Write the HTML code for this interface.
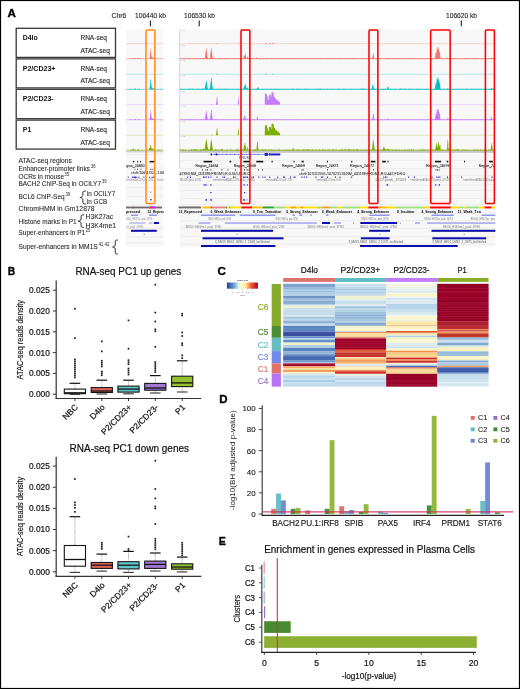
<!DOCTYPE html>
<html><head><meta charset="utf-8"><style>
html,body{margin:0;padding:0;background:#fff;}
svg{display:block;font-family:"Liberation Sans", sans-serif;will-change:transform;}
</style></head><body>
<svg width="520" height="689" viewBox="0 0 520 689">
<rect x="0.00" y="0.00" width="520.00" height="689.00" fill="#fff" />
<text x="7.40" y="17.30" font-size="11.2" fill="#000" font-weight="bold" textLength="8.40" lengthAdjust="spacingAndGlyphs" stroke="#000" stroke-width="0.35" >A</text>
<rect x="16.2" y="28.30" width="99.3" height="29.10" fill="none" stroke="#383838" stroke-width="1.3"/>
<text x="22.70" y="40.10" font-size="7.0" fill="#111" font-weight="bold" textLength="15.00" lengthAdjust="spacingAndGlyphs" >D4lo</text>
<text x="80.40" y="40.10" font-size="6.9" fill="#222" textLength="26.60" lengthAdjust="spacingAndGlyphs" stroke="#222" stroke-width="0.1" >RNA-seq</text>
<text x="80.40" y="52.80" font-size="6.9" fill="#222" textLength="29.60" lengthAdjust="spacingAndGlyphs" stroke="#222" stroke-width="0.1" >ATAC-seq</text>
<rect x="16.2" y="58.90" width="99.3" height="29.00" fill="none" stroke="#383838" stroke-width="1.3"/>
<text x="22.70" y="70.70" font-size="7.0" fill="#111" font-weight="bold" textLength="32.80" lengthAdjust="spacingAndGlyphs" >P2/CD23+</text>
<text x="80.40" y="70.70" font-size="6.9" fill="#222" textLength="26.60" lengthAdjust="spacingAndGlyphs" stroke="#222" stroke-width="0.1" >RNA-seq</text>
<text x="80.40" y="83.40" font-size="6.9" fill="#222" textLength="29.60" lengthAdjust="spacingAndGlyphs" stroke="#222" stroke-width="0.1" >ATAC-seq</text>
<rect x="16.2" y="89.30" width="99.3" height="29.40" fill="none" stroke="#383838" stroke-width="1.3"/>
<text x="22.70" y="101.10" font-size="7.0" fill="#111" font-weight="bold" textLength="31.00" lengthAdjust="spacingAndGlyphs" >P2/CD23-</text>
<text x="80.40" y="101.10" font-size="6.9" fill="#222" textLength="26.60" lengthAdjust="spacingAndGlyphs" stroke="#222" stroke-width="0.1" >RNA-seq</text>
<text x="80.40" y="113.80" font-size="6.9" fill="#222" textLength="29.60" lengthAdjust="spacingAndGlyphs" stroke="#222" stroke-width="0.1" >ATAC-seq</text>
<rect x="16.2" y="120.10" width="99.3" height="29.00" fill="none" stroke="#383838" stroke-width="1.3"/>
<text x="22.70" y="131.90" font-size="7.0" fill="#111" font-weight="bold" textLength="8.60" lengthAdjust="spacingAndGlyphs" >P1</text>
<text x="80.40" y="131.90" font-size="6.9" fill="#222" textLength="26.60" lengthAdjust="spacingAndGlyphs" stroke="#222" stroke-width="0.1" >RNA-seq</text>
<text x="80.40" y="144.60" font-size="6.9" fill="#222" textLength="29.60" lengthAdjust="spacingAndGlyphs" stroke="#222" stroke-width="0.1" >ATAC-seq</text>
<text x="126.40" y="17.50" font-size="6.9" fill="#222" text-anchor="end" stroke="#222" stroke-width="0.1" >Chr6</text>
<text x="135.00" y="17.50" font-size="6.9" fill="#222" textLength="31.00" lengthAdjust="spacingAndGlyphs" stroke="#222" stroke-width="0.1" >106440 kb</text>
<text x="184.00" y="17.50" font-size="6.9" fill="#222" textLength="31.00" lengthAdjust="spacingAndGlyphs" stroke="#222" stroke-width="0.1" >106530 kb</text>
<text x="446.00" y="17.50" font-size="6.9" fill="#222" textLength="31.00" lengthAdjust="spacingAndGlyphs" stroke="#222" stroke-width="0.1" >106620 kb</text>
<line x1="150.40" y1="20.40" x2="150.40" y2="26.20" stroke="#222" stroke-width="1.1" />
<line x1="199.20" y1="20.40" x2="199.20" y2="26.20" stroke="#222" stroke-width="1.1" />
<line x1="461.30" y1="20.40" x2="461.30" y2="26.20" stroke="#222" stroke-width="1.1" />
<rect x="126.00" y="29.40" width="37.60" height="217.50" fill="#f8f8f8" />
<rect x="179.40" y="29.40" width="316.00" height="218.00" fill="#f8f8f8" />
<line x1="179.40" y1="43.70" x2="495.40" y2="43.70" stroke="#fbd0cc" stroke-width="0.9" />
<path d="M179.9,43.7 L179.9,43.7 L180.2,43.7 L180.6,43.7 L180.9,43.7 L181.2,43.7 L181.6,43.7 L181.9,43.7 L182.2,43.7 L182.5,43.7 L182.9,43.7 L183.2,43.7 L183.5,43.7 L183.9,43.7 L184.2,43.7 L184.5,43.7 L184.9,43.7 L185.2,43.7 L185.5,43.7 L185.8,43.7 L186.2,43.7 L186.5,43.7 L186.8,43.7 L187.2,43.7 L187.5,43.7 L187.8,43.7 L188.2,43.7 L188.5,43.7 L188.8,43.7 L189.1,43.7 L189.5,43.7 L189.8,43.7 L190.1,43.7 L190.5,43.7 L190.8,43.7 L191.1,43.7 L191.5,43.7 L191.8,43.7 L192.1,43.7 L192.4,43.7 L192.8,43.7 L193.1,43.7 L193.4,43.7 L193.8,43.7 L194.1,43.7 L194.4,43.7 L194.8,43.7 L195.1,43.7 L195.4,43.7 L195.7,43.7 L196.1,43.7 L196.4,43.7 L196.7,43.7 L197.1,43.7 L197.4,43.7 L197.7,43.7 L198.1,43.7 L198.4,43.7 L198.7,43.7 L199.0,43.7 L199.4,43.7 L199.7,43.7 L200.0,43.7 L200.4,43.7 L200.7,43.7 L201.0,43.7 L201.4,43.7 L201.7,43.7 L202.0,43.7 L202.3,43.7 L202.7,43.7 L203.0,43.7 L203.3,43.7 L203.7,43.7 L204.0,43.7 L204.3,43.7 L204.7,43.7 L205.0,43.7 L205.3,43.7 L205.6,43.7 L206.0,43.7 L206.3,43.7 L206.6,43.7 L207.0,43.7 L207.3,43.7 L207.6,43.7 L208.0,43.7 L208.3,43.7 L208.6,43.7 L208.9,43.7 L209.3,43.7 L209.6,43.7 L209.9,43.7 L210.3,43.7 L210.6,43.7 L210.9,43.7 L211.3,43.7 L211.6,43.7 L211.9,43.7 L212.2,43.7 L212.6,43.7 L212.9,43.7 L213.2,43.7 L213.6,43.7 L213.9,43.7 L214.2,43.7 L214.6,43.7 L214.9,43.7 L215.2,43.7 L215.5,43.7 L215.9,43.7 L216.2,43.7 L216.5,43.5 L216.9,43.0 L217.2,43.0 L217.5,43.6 L217.9,43.7 L218.2,43.7 L218.5,43.7 L218.8,43.7 L219.2,43.7 L219.5,43.7 L219.8,43.7 L220.2,43.7 L220.5,43.7 L220.8,43.7 L221.2,43.7 L221.5,43.7 L221.8,43.7 L222.1,43.7 L222.5,43.7 L222.8,43.7 L223.1,43.7 L223.5,43.7 L223.8,43.7 L224.1,43.7 L224.5,43.7 L224.8,43.7 L225.1,43.7 L225.4,43.7 L225.8,43.7 L226.1,43.7 L226.4,43.7 L226.8,43.7 L227.1,43.7 L227.4,43.7 L227.8,43.7 L228.1,43.7 L228.4,43.7 L228.7,43.7 L229.1,43.7 L229.4,43.7 L229.7,43.7 L230.1,43.7 L230.4,43.7 L230.7,43.7 L231.1,43.7 L231.4,43.7 L231.7,43.7 L232.0,43.7 L232.4,43.7 L232.7,43.7 L233.0,43.7 L233.4,43.7 L233.7,43.7 L234.0,43.7 L234.4,43.7 L234.7,43.7 L235.0,43.7 L235.3,43.7 L235.7,43.7 L236.0,43.7 L236.3,43.7 L236.7,43.7 L237.0,43.7 L237.3,43.7 L237.7,43.7 L238.0,43.5 L238.3,42.7 L238.6,43.1 L239.0,43.7 L239.3,43.7 L239.6,43.7 L240.0,43.7 L240.3,43.7 L240.6,43.7 L241.0,43.7 L241.3,43.7 L241.6,43.7 L241.9,43.7 L242.3,43.7 L242.6,43.7 L242.9,43.7 L243.3,43.7 L243.6,43.7 L243.9,43.7 L244.3,43.7 L244.6,43.7 L244.9,43.7 L245.2,43.7 L245.6,43.7 L245.9,43.7 L246.2,43.7 L246.6,43.7 L246.9,43.7 L247.2,43.7 L247.6,43.7 L247.9,43.7 L248.2,43.7 L248.5,43.7 L248.9,43.7 L249.2,43.7 L249.5,43.4 L249.9,42.8 L250.2,43.3 L250.5,43.7 L250.9,43.7 L251.2,43.7 L251.5,43.7 L251.8,43.7 L252.2,43.7 L252.5,43.7 L252.8,43.7 L253.2,43.7 L253.5,43.7 L253.8,43.7 L254.2,43.7 L254.5,43.7 L254.8,43.7 L255.1,43.7 L255.5,43.7 L255.8,43.7 L256.1,43.7 L256.5,43.7 L256.8,43.7 L257.1,43.7 L257.5,43.7 L257.8,43.7 L258.1,43.7 L258.4,43.7 L258.8,43.7 L259.1,43.7 L259.4,43.7 L259.8,43.7 L260.1,43.7 L260.4,43.7 L260.8,43.7 L261.1,43.7 L261.4,43.7 L261.7,43.7 L262.1,43.7 L262.4,43.7 L262.7,43.7 L263.1,43.7 L263.4,43.7 L263.7,43.7 L264.1,43.7 L264.4,43.7 L264.7,43.7 L265.0,43.7 L265.4,43.3 L265.7,42.9 L266.0,42.6 L266.4,43.0 L266.7,43.3 L267.0,43.7 L267.4,43.7 L267.7,43.7 L268.0,43.7 L268.3,43.7 L268.7,43.7 L269.0,43.7 L269.3,43.4 L269.7,43.1 L270.0,42.7 L270.3,43.0 L270.7,43.4 L271.0,43.7 L271.3,43.7 L271.6,43.7 L272.0,43.7 L272.3,43.3 L272.6,42.9 L273.0,42.5 L273.3,42.8 L273.6,43.2 L274.0,43.6 L274.3,43.7 L274.6,43.7 L274.9,43.7 L275.3,43.7 L275.6,43.7 L275.9,43.7 L276.3,43.7 L276.6,43.7 L276.9,43.7 L277.3,43.7 L277.6,43.7 L277.9,43.7 L278.2,43.7 L278.6,43.7 L278.9,43.7 L279.2,43.7 L279.6,43.7 L279.9,43.7 L280.2,43.7 L280.6,43.7 L280.9,43.7 L281.2,43.7 L281.5,43.7 L281.9,43.7 L282.2,43.7 L282.5,43.7 L282.9,43.7 L283.2,43.7 L283.5,43.7 L283.9,43.7 L284.2,43.7 L284.5,43.7 L284.8,43.7 L285.2,43.7 L285.5,43.7 L285.8,43.7 L286.2,43.7 L286.5,43.7 L286.8,43.7 L287.2,43.7 L287.5,43.7 L287.8,43.7 L288.1,43.7 L288.5,43.7 L288.8,43.7 L289.1,43.7 L289.5,43.7 L289.8,43.7 L290.1,43.7 L290.5,43.7 L290.8,43.7 L291.1,43.7 L291.4,43.7 L291.8,43.7 L292.1,43.7 L292.4,43.7 L292.8,43.7 L293.1,43.7 L293.4,43.7 L293.8,43.7 L294.1,43.7 L294.4,43.7 L294.7,43.7 L295.1,43.7 L295.4,43.7 L295.7,43.7 L296.1,43.7 L296.4,43.7 L296.7,43.7 L297.1,43.7 L297.4,43.7 L297.7,43.7 L298.0,43.7 L298.4,43.7 L298.7,43.7 L299.0,43.7 L299.4,43.7 L299.7,43.7 L300.0,43.7 L300.4,43.7 L300.7,43.7 L301.0,43.7 L301.3,43.7 L301.7,43.7 L302.0,43.7 L302.3,43.7 L302.7,43.7 L303.0,43.7 L303.3,43.7 L303.7,43.7 L304.0,43.7 L304.3,43.7 L304.6,43.7 L305.0,43.7 L305.3,43.7 L305.6,43.7 L306.0,43.7 L306.3,43.7 L306.6,43.7 L307.0,43.7 L307.3,43.7 L307.6,43.7 L307.9,43.7 L308.3,43.7 L308.6,43.7 L308.9,43.7 L309.3,43.7 L309.6,43.7 L309.9,43.7 L310.3,43.7 L310.6,43.7 L310.9,43.7 L311.2,43.7 L311.6,43.7 L311.9,43.7 L312.2,43.7 L312.6,43.7 L312.9,43.7 L313.2,43.7 L313.6,43.7 L313.9,43.7 L314.2,43.7 L314.5,43.7 L314.9,43.7 L315.2,43.7 L315.5,43.7 L315.9,43.7 L316.2,43.7 L316.5,43.7 L316.8,43.7 L317.2,43.7 L317.5,43.7 L317.8,43.7 L318.2,43.7 L318.5,43.7 L318.8,43.7 L319.2,43.7 L319.5,43.7 L319.8,43.7 L320.1,43.7 L320.5,43.7 L320.8,43.7 L321.1,43.7 L321.5,43.7 L321.8,43.7 L322.1,43.7 L322.5,43.7 L322.8,43.7 L323.1,43.7 L323.4,43.7 L323.8,43.7 L324.1,43.7 L324.4,43.7 L324.8,43.7 L325.1,43.7 L325.4,43.7 L325.8,43.7 L326.1,43.7 L326.4,43.7 L326.7,43.7 L327.1,43.7 L327.4,43.7 L327.7,43.7 L328.1,43.7 L328.4,43.7 L328.7,43.7 L329.1,43.7 L329.4,43.7 L329.7,43.7 L330.0,43.7 L330.4,43.7 L330.7,43.7 L331.0,43.7 L331.4,43.7 L331.7,43.7 L332.0,43.7 L332.4,43.7 L332.7,43.7 L333.0,43.7 L333.3,43.7 L333.7,43.7 L334.0,43.7 L334.3,43.7 L334.7,43.7 L335.0,43.7 L335.3,43.7 L335.7,43.7 L336.0,43.7 L336.3,43.7 L336.6,43.7 L337.0,43.7 L337.3,43.7 L337.6,43.7 L338.0,43.7 L338.3,43.7 L338.6,43.7 L339.0,43.7 L339.3,43.7 L339.6,43.7 L339.9,43.7 L340.3,43.7 L340.6,43.7 L340.9,43.7 L341.3,43.7 L341.6,43.7 L341.9,43.7 L342.3,43.7 L342.6,43.7 L342.9,43.7 L343.2,43.7 L343.6,43.7 L343.9,43.7 L344.2,43.7 L344.6,43.7 L344.9,43.7 L345.2,43.7 L345.6,43.7 L345.9,43.7 L346.2,43.7 L346.5,43.7 L346.9,43.7 L347.2,43.7 L347.5,43.7 L347.9,43.7 L348.2,43.7 L348.5,43.7 L348.9,43.7 L349.2,43.7 L349.5,43.7 L349.8,43.7 L350.2,43.7 L350.5,43.7 L350.8,43.7 L351.2,43.7 L351.5,43.7 L351.8,43.7 L352.2,43.7 L352.5,43.7 L352.8,43.7 L353.1,43.7 L353.5,43.7 L353.8,43.7 L354.1,43.7 L354.5,43.7 L354.8,43.7 L355.1,43.7 L355.5,43.7 L355.8,43.7 L356.1,43.7 L356.4,43.7 L356.8,43.7 L357.1,43.7 L357.4,43.7 L357.8,43.7 L358.1,43.7 L358.4,43.7 L358.8,43.7 L359.1,43.7 L359.4,43.7 L359.7,43.7 L360.1,43.7 L360.4,43.7 L360.7,43.7 L361.1,43.7 L361.4,43.7 L361.7,43.7 L362.1,43.7 L362.4,43.7 L362.7,43.7 L363.0,43.7 L363.4,43.7 L363.7,43.7 L364.0,43.7 L364.4,43.7 L364.7,43.7 L365.0,43.7 L365.4,43.7 L365.7,43.7 L366.0,43.7 L366.3,43.7 L366.7,43.7 L367.0,43.7 L367.3,43.7 L367.7,43.7 L368.0,43.7 L368.3,43.7 L368.7,43.7 L369.0,43.7 L369.3,43.7 L369.6,43.7 L370.0,43.7 L370.3,43.7 L370.6,43.7 L371.0,43.7 L371.3,43.7 L371.6,43.7 L372.0,43.7 L372.3,43.7 L372.6,43.7 L372.9,43.7 L373.3,43.7 L373.6,43.7 L373.9,43.7 L374.3,43.7 L374.6,43.7 L374.9,43.7 L375.3,43.7 L375.6,43.7 L375.9,43.7 L376.2,43.7 L376.6,43.7 L376.9,43.7 L377.2,43.7 L377.6,43.7 L377.9,43.7 L378.2,43.7 L378.6,43.7 L378.9,43.7 L379.2,43.7 L379.5,43.7 L379.9,43.7 L380.2,43.7 L380.5,43.7 L380.9,43.7 L381.2,43.7 L381.5,43.7 L381.9,43.7 L382.2,43.7 L382.5,43.7 L382.8,43.7 L383.2,43.7 L383.5,43.7 L383.8,43.7 L384.2,43.7 L384.5,43.7 L384.8,43.7 L385.2,43.7 L385.5,43.7 L385.8,43.7 L386.1,43.7 L386.5,43.7 L386.8,43.7 L387.1,43.7 L387.5,43.7 L387.8,43.7 L388.1,43.7 L388.5,43.7 L388.8,43.7 L389.1,43.7 L389.4,43.7 L389.8,43.7 L390.1,43.7 L390.4,43.7 L390.8,43.7 L391.1,43.7 L391.4,43.7 L391.8,43.7 L392.1,43.7 L392.4,43.7 L392.7,43.7 L393.1,43.7 L393.4,43.7 L393.7,43.7 L394.1,43.7 L394.4,43.7 L394.7,43.7 L395.1,43.7 L395.4,43.7 L395.7,43.7 L396.0,43.7 L396.4,43.7 L396.7,43.7 L397.0,43.7 L397.4,43.7 L397.7,43.7 L398.0,43.7 L398.4,43.7 L398.7,43.7 L399.0,43.7 L399.3,43.7 L399.7,43.7 L400.0,43.7 L400.3,43.7 L400.7,43.7 L401.0,43.7 L401.3,43.7 L401.7,43.7 L402.0,43.7 L402.3,43.7 L402.6,43.7 L403.0,43.7 L403.3,43.7 L403.6,43.7 L404.0,43.7 L404.3,43.7 L404.6,43.7 L405.0,43.7 L405.3,43.7 L405.6,43.7 L405.9,43.7 L406.3,43.7 L406.6,43.7 L406.9,43.7 L407.3,43.7 L407.6,43.7 L407.9,43.7 L408.3,43.7 L408.6,43.7 L408.9,43.7 L409.2,43.7 L409.6,43.7 L409.9,43.7 L410.2,43.7 L410.6,43.7 L410.9,43.7 L411.2,43.7 L411.6,43.7 L411.9,43.7 L412.2,43.7 L412.5,43.7 L412.9,43.7 L413.2,43.7 L413.5,43.7 L413.9,43.7 L414.2,43.7 L414.5,43.7 L414.9,43.7 L415.2,43.7 L415.5,43.7 L415.8,43.7 L416.2,43.7 L416.5,43.7 L416.8,43.7 L417.2,43.7 L417.5,43.7 L417.8,43.7 L418.2,43.7 L418.5,43.7 L418.8,43.7 L419.1,43.7 L419.5,43.7 L419.8,43.7 L420.1,43.7 L420.5,43.7 L420.8,43.7 L421.1,43.7 L421.5,43.7 L421.8,43.7 L422.1,43.7 L422.4,43.7 L422.8,43.7 L423.1,43.7 L423.4,43.7 L423.8,43.7 L424.1,43.7 L424.4,43.7 L424.8,43.7 L425.1,43.7 L425.4,43.7 L425.7,43.7 L426.1,43.7 L426.4,43.7 L426.7,43.7 L427.1,43.7 L427.4,43.7 L427.7,43.7 L428.1,43.7 L428.4,43.7 L428.7,43.7 L429.0,43.7 L429.4,43.7 L429.7,43.7 L430.0,43.7 L430.4,43.7 L430.7,43.7 L431.0,43.7 L431.4,43.7 L431.7,43.7 L432.0,43.7 L432.3,43.7 L432.7,43.7 L433.0,43.7 L433.3,43.7 L433.7,43.7 L434.0,43.7 L434.3,43.7 L434.7,43.7 L435.0,43.7 L435.3,43.7 L435.6,43.7 L436.0,43.7 L436.3,43.7 L436.6,43.7 L437.0,43.7 L437.3,43.7 L437.6,43.7 L438.0,43.7 L438.3,43.7 L438.6,43.7 L438.9,43.7 L439.3,43.7 L439.6,43.7 L439.9,43.7 L440.3,43.7 L440.6,43.7 L440.9,43.7 L441.3,43.7 L441.6,43.7 L441.9,43.7 L442.2,43.7 L442.6,43.7 L442.9,43.7 L443.2,43.7 L443.6,43.7 L443.9,43.7 L444.2,43.7 L444.6,43.7 L444.9,43.7 L445.2,43.7 L445.5,43.7 L445.9,43.7 L446.2,43.7 L446.5,43.7 L446.9,43.7 L447.2,43.7 L447.5,43.7 L447.9,43.7 L448.2,43.7 L448.5,43.7 L448.8,43.7 L449.2,43.7 L449.5,43.7 L449.8,43.7 L450.2,43.7 L450.5,43.7 L450.8,43.7 L451.2,43.7 L451.5,43.7 L451.8,43.7 L452.1,43.7 L452.5,43.7 L452.8,43.7 L453.1,43.7 L453.5,43.7 L453.8,43.7 L454.1,43.7 L454.5,43.7 L454.8,43.7 L455.1,43.7 L455.4,43.7 L455.8,43.7 L456.1,43.7 L456.4,43.7 L456.8,43.7 L457.1,43.7 L457.4,43.7 L457.8,43.7 L458.1,43.7 L458.4,43.7 L458.7,43.7 L459.1,43.7 L459.4,43.7 L459.7,43.7 L460.1,43.7 L460.4,43.7 L460.7,43.7 L461.1,43.7 L461.4,43.7 L461.7,43.7 L462.0,43.7 L462.4,43.7 L462.7,43.7 L463.0,43.7 L463.4,43.7 L463.7,43.7 L464.0,43.7 L464.4,43.7 L464.7,43.7 L465.0,43.7 L465.3,43.7 L465.7,43.7 L466.0,43.7 L466.3,43.7 L466.7,43.7 L467.0,43.7 L467.3,43.7 L467.7,43.7 L468.0,43.7 L468.3,43.7 L468.6,43.7 L469.0,43.7 L469.3,43.7 L469.6,43.7 L470.0,43.7 L470.3,43.7 L470.6,43.7 L471.0,43.7 L471.3,43.7 L471.6,43.7 L471.9,43.7 L472.3,43.7 L472.6,43.7 L472.9,43.7 L473.3,43.7 L473.6,43.7 L473.9,43.7 L474.3,43.7 L474.6,43.7 L474.9,43.7 L475.2,43.7 L475.6,43.7 L475.9,43.7 L476.2,43.7 L476.6,43.7 L476.9,43.7 L477.2,43.7 L477.6,43.7 L477.9,43.7 L478.2,43.7 L478.5,43.7 L478.9,43.7 L479.2,43.7 L479.5,43.7 L479.9,43.7 L480.2,43.7 L480.5,43.7 L480.9,43.7 L481.2,43.7 L481.5,43.7 L481.8,43.7 L482.2,43.7 L482.5,43.7 L482.8,43.7 L483.2,43.7 L483.5,43.7 L483.8,43.7 L484.2,43.7 L484.5,43.7 L484.8,43.7 L485.1,43.7 L485.5,43.7 L485.8,43.7 L486.1,43.7 L486.5,43.7 L486.8,43.7 L487.1,43.7 L487.5,43.7 L487.8,43.7 L488.1,43.7 L488.4,43.7 L488.8,43.7 L489.1,43.7 L489.4,43.7 L489.8,43.7 L490.1,43.7 L490.4,43.7 L490.8,43.7 L491.1,43.7 L491.4,43.7 L491.7,43.7 L492.1,43.7 L492.4,43.7 L492.7,43.7 L493.1,43.7 L493.4,43.7 L493.7,43.7 L494.1,43.7 L494.4,43.7 L494.7,43.7 L494.9,43.7 Z" fill="#F8766D" stroke="none" stroke-width="1" />
<text x="180.50" y="30.50" font-size="1.8" fill="#999" >0 - 10</text>
<line x1="179.40" y1="58.75" x2="495.40" y2="58.75" stroke="#F8766D" stroke-width="0.85" />
<path d="M179.9,59.0 L179.9,58.6 L180.2,58.9 L180.6,58.1 L180.9,58.2 L181.2,58.8 L181.6,58.6 L181.9,58.9 L182.2,58.9 L182.5,58.9 L182.9,58.5 L183.2,58.9 L183.5,58.1 L183.9,58.9 L184.2,58.9 L184.5,58.9 L184.9,58.4 L185.2,58.8 L185.5,58.7 L185.8,58.9 L186.2,58.6 L186.5,58.8 L186.8,58.9 L187.2,58.8 L187.5,58.9 L187.8,58.9 L188.2,58.3 L188.5,58.5 L188.8,58.6 L189.1,58.2 L189.5,58.8 L189.8,58.8 L190.1,58.8 L190.5,58.8 L190.8,58.5 L191.1,58.9 L191.5,58.8 L191.8,58.7 L192.1,58.8 L192.4,58.9 L192.8,58.5 L193.1,58.9 L193.4,58.7 L193.8,58.9 L194.1,58.9 L194.4,58.9 L194.8,58.9 L195.1,58.9 L195.4,58.5 L195.7,58.5 L196.1,58.8 L196.4,58.6 L196.7,58.7 L197.1,58.7 L197.4,58.3 L197.7,58.9 L198.1,58.3 L198.4,58.5 L198.7,58.5 L199.0,58.9 L199.4,58.9 L199.7,58.9 L200.0,58.8 L200.4,58.1 L200.7,58.3 L201.0,58.3 L201.4,58.9 L201.7,58.5 L202.0,58.4 L202.3,58.4 L202.7,58.3 L203.0,57.8 L203.3,57.7 L203.7,58.2 L204.0,58.1 L204.3,58.8 L204.7,58.9 L205.0,56.9 L205.3,54.6 L205.6,51.9 L206.0,49.4 L206.3,47.4 L206.6,49.4 L207.0,52.1 L207.3,54.4 L207.6,57.0 L208.0,58.6 L208.3,58.3 L208.6,58.8 L208.9,58.7 L209.3,58.4 L209.6,58.9 L209.9,57.9 L210.3,55.2 L210.6,52.3 L210.9,49.7 L211.3,47.1 L211.6,49.1 L211.9,51.8 L212.2,54.4 L212.6,57.1 L212.9,58.6 L213.2,58.5 L213.6,58.5 L213.9,58.8 L214.2,58.6 L214.6,58.7 L214.9,58.9 L215.2,58.7 L215.5,58.9 L215.9,58.5 L216.2,58.5 L216.5,58.9 L216.9,58.8 L217.2,58.8 L217.5,58.9 L217.9,58.9 L218.2,58.9 L218.5,58.1 L218.8,58.5 L219.2,58.8 L219.5,58.6 L219.8,58.9 L220.2,58.5 L220.5,58.1 L220.8,58.4 L221.2,58.8 L221.5,58.1 L221.8,58.2 L222.1,58.9 L222.5,58.8 L222.8,58.8 L223.1,58.9 L223.5,58.6 L223.8,58.9 L224.1,58.4 L224.5,58.3 L224.8,58.9 L225.1,58.5 L225.4,58.9 L225.8,58.6 L226.1,58.5 L226.4,58.1 L226.8,58.4 L227.1,58.8 L227.4,58.5 L227.8,58.9 L228.1,58.5 L228.4,58.8 L228.7,58.9 L229.1,58.9 L229.4,58.9 L229.7,58.4 L230.1,58.9 L230.4,58.9 L230.7,58.9 L231.1,58.9 L231.4,58.5 L231.7,58.6 L232.0,58.6 L232.4,58.2 L232.7,58.8 L233.0,58.9 L233.4,58.9 L233.7,58.7 L234.0,58.5 L234.4,58.2 L234.7,58.7 L235.0,58.9 L235.3,58.6 L235.7,58.2 L236.0,58.9 L236.3,58.2 L236.7,58.2 L237.0,58.7 L237.3,58.7 L237.7,58.9 L238.0,58.9 L238.3,58.9 L238.6,58.6 L239.0,58.5 L239.3,58.1 L239.6,58.6 L240.0,58.1 L240.3,58.8 L240.6,58.9 L241.0,58.9 L241.3,58.9 L241.6,58.7 L241.9,58.1 L242.3,58.9 L242.6,58.9 L242.9,58.5 L243.3,58.2 L243.6,56.8 L243.9,55.3 L244.3,55.3 L244.6,56.6 L244.9,55.0 L245.2,53.2 L245.6,54.3 L245.9,56.0 L246.2,57.6 L246.6,58.7 L246.9,58.6 L247.2,57.4 L247.6,56.2 L247.9,57.1 L248.2,58.2 L248.5,58.6 L248.9,58.1 L249.2,58.3 L249.5,58.9 L249.9,58.5 L250.2,58.9 L250.5,58.6 L250.9,58.8 L251.2,58.3 L251.5,58.9 L251.8,58.1 L252.2,58.9 L252.5,58.9 L252.8,58.9 L253.2,58.9 L253.5,58.1 L253.8,58.3 L254.2,58.2 L254.5,58.9 L254.8,58.5 L255.1,58.4 L255.5,58.5 L255.8,58.9 L256.1,58.3 L256.5,57.7 L256.8,57.0 L257.1,57.6 L257.5,58.3 L257.8,58.9 L258.1,58.5 L258.4,58.9 L258.8,58.5 L259.1,58.9 L259.4,58.6 L259.8,58.6 L260.1,58.9 L260.4,58.1 L260.8,58.9 L261.1,58.9 L261.4,58.8 L261.7,58.9 L262.1,58.9 L262.4,58.4 L262.7,58.9 L263.1,58.7 L263.4,58.2 L263.7,58.8 L264.1,58.4 L264.4,58.3 L264.7,58.9 L265.0,58.9 L265.4,58.4 L265.7,58.3 L266.0,58.3 L266.4,58.5 L266.7,58.7 L267.0,58.1 L267.4,58.5 L267.7,58.4 L268.0,58.2 L268.3,58.9 L268.7,58.5 L269.0,58.6 L269.3,58.9 L269.7,58.9 L270.0,58.5 L270.3,58.7 L270.7,58.7 L271.0,58.9 L271.3,58.7 L271.6,58.3 L272.0,58.1 L272.3,58.7 L272.6,58.5 L273.0,58.9 L273.3,58.9 L273.6,58.7 L274.0,58.3 L274.3,58.9 L274.6,58.9 L274.9,58.7 L275.3,58.9 L275.6,58.9 L275.9,58.9 L276.3,58.8 L276.6,58.4 L276.9,58.9 L277.3,58.4 L277.6,58.9 L277.9,58.9 L278.2,58.5 L278.6,58.9 L278.9,58.9 L279.2,58.9 L279.6,58.9 L279.9,58.2 L280.2,58.9 L280.6,58.5 L280.9,58.2 L281.2,58.9 L281.5,58.3 L281.9,58.9 L282.2,58.4 L282.5,58.6 L282.9,58.8 L283.2,58.2 L283.5,58.5 L283.9,58.9 L284.2,58.7 L284.5,58.9 L284.8,58.9 L285.2,58.2 L285.5,58.1 L285.8,58.9 L286.2,58.2 L286.5,58.5 L286.8,58.9 L287.2,58.9 L287.5,58.8 L287.8,58.2 L288.1,58.3 L288.5,58.9 L288.8,58.8 L289.1,58.2 L289.5,58.9 L289.8,58.9 L290.1,58.8 L290.5,58.5 L290.8,58.3 L291.1,58.3 L291.4,58.9 L291.8,58.9 L292.1,58.9 L292.4,58.6 L292.8,58.8 L293.1,58.2 L293.4,58.6 L293.8,58.6 L294.1,58.5 L294.4,58.9 L294.7,58.2 L295.1,58.3 L295.4,58.3 L295.7,58.4 L296.1,58.9 L296.4,58.9 L296.7,58.8 L297.1,58.5 L297.4,58.9 L297.7,58.3 L298.0,58.3 L298.4,58.5 L298.7,58.7 L299.0,58.9 L299.4,58.4 L299.7,58.9 L300.0,58.7 L300.4,58.4 L300.7,58.6 L301.0,58.9 L301.3,58.3 L301.7,58.9 L302.0,58.8 L302.3,58.8 L302.7,58.5 L303.0,58.9 L303.3,58.6 L303.7,58.7 L304.0,58.4 L304.3,58.8 L304.6,58.7 L305.0,58.1 L305.3,58.9 L305.6,58.4 L306.0,58.8 L306.3,58.9 L306.6,58.9 L307.0,58.9 L307.3,58.3 L307.6,58.9 L307.9,58.1 L308.3,58.7 L308.6,58.9 L308.9,58.4 L309.3,58.6 L309.6,58.2 L309.9,58.9 L310.3,58.5 L310.6,58.9 L310.9,58.9 L311.2,58.8 L311.6,58.9 L311.9,58.9 L312.2,58.7 L312.6,58.4 L312.9,58.8 L313.2,58.7 L313.6,58.4 L313.9,58.9 L314.2,58.1 L314.5,58.9 L314.9,58.8 L315.2,58.3 L315.5,58.9 L315.9,58.9 L316.2,58.9 L316.5,58.1 L316.8,58.3 L317.2,58.9 L317.5,58.7 L317.8,58.9 L318.2,58.9 L318.5,58.9 L318.8,58.5 L319.2,58.7 L319.5,58.9 L319.8,58.6 L320.1,58.9 L320.5,58.8 L320.8,58.9 L321.1,58.3 L321.5,58.8 L321.8,58.5 L322.1,58.8 L322.5,58.8 L322.8,58.7 L323.1,58.9 L323.4,58.7 L323.8,58.4 L324.1,58.9 L324.4,58.9 L324.8,58.9 L325.1,58.7 L325.4,58.9 L325.8,58.7 L326.1,58.9 L326.4,58.7 L326.7,58.9 L327.1,58.4 L327.4,58.4 L327.7,58.1 L328.1,58.8 L328.4,58.2 L328.7,58.3 L329.1,58.8 L329.4,58.1 L329.7,58.1 L330.0,58.9 L330.4,58.4 L330.7,58.5 L331.0,58.6 L331.4,58.5 L331.7,58.9 L332.0,58.3 L332.4,58.5 L332.7,58.9 L333.0,58.1 L333.3,58.5 L333.7,58.9 L334.0,58.9 L334.3,58.9 L334.7,58.6 L335.0,58.5 L335.3,58.2 L335.7,58.2 L336.0,58.9 L336.3,58.9 L336.6,58.9 L337.0,58.8 L337.3,58.8 L337.6,58.8 L338.0,58.3 L338.3,58.6 L338.6,58.4 L339.0,58.3 L339.3,58.4 L339.6,58.7 L339.9,58.8 L340.3,58.7 L340.6,58.8 L340.9,58.5 L341.3,58.3 L341.6,58.5 L341.9,58.9 L342.3,58.7 L342.6,58.8 L342.9,58.9 L343.2,58.9 L343.6,58.8 L343.9,58.2 L344.2,58.5 L344.6,58.9 L344.9,58.2 L345.2,58.5 L345.6,58.6 L345.9,58.9 L346.2,58.9 L346.5,58.8 L346.9,58.7 L347.2,58.9 L347.5,58.6 L347.9,58.6 L348.2,58.6 L348.5,58.7 L348.9,58.7 L349.2,58.9 L349.5,58.3 L349.8,58.3 L350.2,58.3 L350.5,58.4 L350.8,58.9 L351.2,58.9 L351.5,58.9 L351.8,58.4 L352.2,58.3 L352.5,58.2 L352.8,58.6 L353.1,58.4 L353.5,58.3 L353.8,58.9 L354.1,58.9 L354.5,58.3 L354.8,58.1 L355.1,58.5 L355.5,58.6 L355.8,58.8 L356.1,58.3 L356.4,58.9 L356.8,58.9 L357.1,58.4 L357.4,58.9 L357.8,58.5 L358.1,58.6 L358.4,58.9 L358.8,58.8 L359.1,58.9 L359.4,58.4 L359.7,58.4 L360.1,58.9 L360.4,58.9 L360.7,58.8 L361.1,58.8 L361.4,58.6 L361.7,58.1 L362.1,58.9 L362.4,58.9 L362.7,58.6 L363.0,58.8 L363.4,58.5 L363.7,58.6 L364.0,58.7 L364.4,58.4 L364.7,58.9 L365.0,58.4 L365.4,58.9 L365.7,58.7 L366.0,58.7 L366.3,58.7 L366.7,58.9 L367.0,58.8 L367.3,58.9 L367.7,58.9 L368.0,58.8 L368.3,58.8 L368.7,58.9 L369.0,58.5 L369.3,58.2 L369.6,58.1 L370.0,58.9 L370.3,58.9 L370.6,58.8 L371.0,58.6 L371.3,58.5 L371.6,58.6 L372.0,58.7 L372.3,57.9 L372.6,56.3 L372.9,54.7 L373.3,52.8 L373.6,54.4 L373.9,56.1 L374.3,57.8 L374.6,58.9 L374.9,58.9 L375.3,58.6 L375.6,58.7 L375.9,58.4 L376.2,58.5 L376.6,58.4 L376.9,58.2 L377.2,58.9 L377.6,58.9 L377.9,58.9 L378.2,58.9 L378.6,58.7 L378.9,58.5 L379.2,58.9 L379.5,58.7 L379.9,58.9 L380.2,58.9 L380.5,58.9 L380.9,58.9 L381.2,58.5 L381.5,58.1 L381.9,58.9 L382.2,58.7 L382.5,58.8 L382.8,58.6 L383.2,58.9 L383.5,58.1 L383.8,58.9 L384.2,58.6 L384.5,58.8 L384.8,58.7 L385.2,58.3 L385.5,58.6 L385.8,58.8 L386.1,58.1 L386.5,58.9 L386.8,58.1 L387.1,58.5 L387.5,58.8 L387.8,58.3 L388.1,57.9 L388.5,57.6 L388.8,58.1 L389.1,58.1 L389.4,58.5 L389.8,58.4 L390.1,58.9 L390.4,58.2 L390.8,58.6 L391.1,58.9 L391.4,58.9 L391.8,58.4 L392.1,58.7 L392.4,58.2 L392.7,58.3 L393.1,58.7 L393.4,58.8 L393.7,58.4 L394.1,58.1 L394.4,58.9 L394.7,58.7 L395.1,58.9 L395.4,58.9 L395.7,58.9 L396.0,58.8 L396.4,58.6 L396.7,58.3 L397.0,58.4 L397.4,58.1 L397.7,58.9 L398.0,58.3 L398.4,58.9 L398.7,58.8 L399.0,58.7 L399.3,58.1 L399.7,58.8 L400.0,58.9 L400.3,58.8 L400.7,58.7 L401.0,58.5 L401.3,58.9 L401.7,58.9 L402.0,58.9 L402.3,58.7 L402.6,58.8 L403.0,58.9 L403.3,58.7 L403.6,58.4 L404.0,58.6 L404.3,58.5 L404.6,58.8 L405.0,58.2 L405.3,58.9 L405.6,58.9 L405.9,58.9 L406.3,58.7 L406.6,58.9 L406.9,58.9 L407.3,58.9 L407.6,58.4 L407.9,58.9 L408.3,58.6 L408.6,58.1 L408.9,58.9 L409.2,58.6 L409.6,58.2 L409.9,58.8 L410.2,58.2 L410.6,58.9 L410.9,58.7 L411.2,58.4 L411.6,58.7 L411.9,58.3 L412.2,58.1 L412.5,58.3 L412.9,58.7 L413.2,58.5 L413.5,58.3 L413.9,58.6 L414.2,58.9 L414.5,58.9 L414.9,58.6 L415.2,58.9 L415.5,58.9 L415.8,58.1 L416.2,58.7 L416.5,58.1 L416.8,58.3 L417.2,58.4 L417.5,58.8 L417.8,58.9 L418.2,58.9 L418.5,58.9 L418.8,58.7 L419.1,58.6 L419.5,58.9 L419.8,58.8 L420.1,58.8 L420.5,58.3 L420.8,58.9 L421.1,58.3 L421.5,58.6 L421.8,58.2 L422.1,58.9 L422.4,58.9 L422.8,58.7 L423.1,58.9 L423.4,58.6 L423.8,58.1 L424.1,58.7 L424.4,58.9 L424.8,58.9 L425.1,58.6 L425.4,58.8 L425.7,58.9 L426.1,58.8 L426.4,58.4 L426.7,58.6 L427.1,58.8 L427.4,58.1 L427.7,58.1 L428.1,58.9 L428.4,58.9 L428.7,58.6 L429.0,58.8 L429.4,58.9 L429.7,58.4 L430.0,58.2 L430.4,58.7 L430.7,58.1 L431.0,58.7 L431.4,58.6 L431.7,58.7 L432.0,58.4 L432.3,58.2 L432.7,58.7 L433.0,58.7 L433.3,58.4 L433.7,58.3 L434.0,58.6 L434.3,58.9 L434.7,58.9 L435.0,57.8 L435.3,55.7 L435.6,53.7 L436.0,51.3 L436.3,53.3 L436.6,51.2 L437.0,47.1 L437.3,50.3 L437.6,47.3 L438.0,47.2 L438.3,49.6 L438.6,45.8 L438.9,50.1 L439.3,52.8 L439.6,49.8 L439.9,52.9 L440.3,55.9 L440.6,58.4 L440.9,58.9 L441.3,58.9 L441.6,58.5 L441.9,58.9 L442.2,58.4 L442.6,58.8 L442.9,58.4 L443.2,58.9 L443.6,58.7 L443.9,58.5 L444.2,58.5 L444.6,58.9 L444.9,58.9 L445.2,58.3 L445.5,58.4 L445.9,58.7 L446.2,58.9 L446.5,58.5 L446.9,58.4 L447.2,58.5 L447.5,57.6 L447.9,57.2 L448.2,57.9 L448.5,58.8 L448.8,58.5 L449.2,58.6 L449.5,58.8 L449.8,58.8 L450.2,58.2 L450.5,58.9 L450.8,58.9 L451.2,58.4 L451.5,58.9 L451.8,58.8 L452.1,58.7 L452.5,58.5 L452.8,58.9 L453.1,58.6 L453.5,58.6 L453.8,58.3 L454.1,58.7 L454.5,58.2 L454.8,58.8 L455.1,58.2 L455.4,58.8 L455.8,58.5 L456.1,58.9 L456.4,58.6 L456.8,58.4 L457.1,58.9 L457.4,58.4 L457.8,58.9 L458.1,58.4 L458.4,58.9 L458.7,58.9 L459.1,58.9 L459.4,58.9 L459.7,58.6 L460.1,58.8 L460.4,58.3 L460.7,58.8 L461.1,58.4 L461.4,58.9 L461.7,58.7 L462.0,58.6 L462.4,58.8 L462.7,58.4 L463.0,58.6 L463.4,58.7 L463.7,58.6 L464.0,58.9 L464.4,58.9 L464.7,58.3 L465.0,58.5 L465.3,58.8 L465.7,58.1 L466.0,58.1 L466.3,58.5 L466.7,58.9 L467.0,58.8 L467.3,58.8 L467.7,58.7 L468.0,58.9 L468.3,58.8 L468.6,58.2 L469.0,58.9 L469.3,58.9 L469.6,58.7 L470.0,58.9 L470.3,58.8 L470.6,58.9 L471.0,58.4 L471.3,58.9 L471.6,58.7 L471.9,58.3 L472.3,58.5 L472.6,58.8 L472.9,58.9 L473.3,58.1 L473.6,58.4 L473.9,58.5 L474.3,58.9 L474.6,58.9 L474.9,58.3 L475.2,58.3 L475.6,58.3 L475.9,58.9 L476.2,58.5 L476.6,58.4 L476.9,58.2 L477.2,58.5 L477.6,58.9 L477.9,58.9 L478.2,58.9 L478.5,58.4 L478.9,58.8 L479.2,58.9 L479.5,58.8 L479.9,58.9 L480.2,58.8 L480.5,58.5 L480.9,58.7 L481.2,58.7 L481.5,58.7 L481.8,58.1 L482.2,58.2 L482.5,58.7 L482.8,58.9 L483.2,58.5 L483.5,58.9 L483.8,58.9 L484.2,58.9 L484.5,58.8 L484.8,58.3 L485.1,58.7 L485.5,58.4 L485.8,58.7 L486.1,58.5 L486.5,58.7 L486.8,58.5 L487.1,58.8 L487.5,58.9 L487.8,58.4 L488.1,58.4 L488.4,58.4 L488.8,58.5 L489.1,58.4 L489.4,58.7 L489.8,58.6 L490.1,58.5 L490.4,58.8 L490.8,58.3 L491.1,57.8 L491.4,57.6 L491.7,58.2 L492.1,58.6 L492.4,58.5 L492.7,58.4 L493.1,58.7 L493.4,58.5 L493.7,58.2 L494.1,58.9 L494.4,58.9 L494.7,58.9 L494.9,59.0 Z" fill="#F8766D" stroke="none" stroke-width="1" />
<text x="180.50" y="45.75" font-size="1.8" fill="#999" >0 - 10</text>
<line x1="179.40" y1="74.20" x2="495.40" y2="74.20" stroke="#b0e6e8" stroke-width="0.9" />
<path d="M179.9,74.2 L179.9,74.2 L180.2,74.2 L180.6,74.2 L180.9,74.2 L181.2,74.2 L181.6,74.2 L181.9,74.2 L182.2,74.2 L182.5,74.2 L182.9,74.2 L183.2,74.2 L183.5,74.2 L183.9,74.2 L184.2,74.2 L184.5,74.2 L184.9,74.2 L185.2,74.2 L185.5,74.2 L185.8,74.2 L186.2,74.2 L186.5,74.2 L186.8,74.2 L187.2,74.2 L187.5,74.2 L187.8,74.2 L188.2,74.2 L188.5,74.2 L188.8,74.2 L189.1,74.2 L189.5,74.2 L189.8,74.2 L190.1,74.2 L190.5,74.2 L190.8,74.2 L191.1,74.2 L191.5,74.2 L191.8,74.2 L192.1,74.2 L192.4,74.2 L192.8,74.2 L193.1,74.2 L193.4,74.2 L193.8,74.2 L194.1,74.2 L194.4,74.2 L194.8,74.2 L195.1,74.2 L195.4,74.2 L195.7,74.2 L196.1,74.2 L196.4,74.2 L196.7,74.2 L197.1,74.2 L197.4,74.2 L197.7,74.2 L198.1,74.2 L198.4,74.2 L198.7,74.2 L199.0,74.2 L199.4,74.2 L199.7,74.2 L200.0,74.2 L200.4,74.2 L200.7,74.2 L201.0,74.2 L201.4,74.2 L201.7,74.2 L202.0,74.2 L202.3,74.2 L202.7,74.2 L203.0,74.2 L203.3,74.2 L203.7,74.2 L204.0,74.2 L204.3,74.2 L204.7,74.2 L205.0,74.2 L205.3,74.2 L205.6,74.2 L206.0,74.2 L206.3,74.2 L206.6,74.2 L207.0,74.2 L207.3,74.2 L207.6,74.2 L208.0,74.2 L208.3,74.2 L208.6,74.2 L208.9,74.2 L209.3,74.2 L209.6,74.2 L209.9,74.2 L210.3,74.2 L210.6,74.2 L210.9,74.2 L211.3,74.2 L211.6,74.2 L211.9,74.2 L212.2,74.2 L212.6,74.2 L212.9,74.2 L213.2,74.2 L213.6,74.2 L213.9,74.2 L214.2,74.2 L214.6,74.2 L214.9,74.2 L215.2,74.2 L215.5,74.2 L215.9,74.2 L216.2,74.2 L216.5,74.1 L216.9,73.8 L217.2,73.9 L217.5,74.1 L217.9,74.2 L218.2,74.2 L218.5,74.2 L218.8,74.2 L219.2,74.2 L219.5,74.2 L219.8,74.2 L220.2,74.2 L220.5,74.2 L220.8,74.2 L221.2,74.2 L221.5,74.2 L221.8,74.2 L222.1,74.2 L222.5,74.2 L222.8,74.2 L223.1,74.2 L223.5,74.2 L223.8,74.2 L224.1,74.2 L224.5,74.2 L224.8,74.2 L225.1,74.2 L225.4,74.2 L225.8,74.2 L226.1,74.2 L226.4,74.2 L226.8,74.2 L227.1,74.2 L227.4,74.2 L227.8,74.2 L228.1,74.2 L228.4,74.2 L228.7,74.2 L229.1,74.2 L229.4,74.2 L229.7,74.2 L230.1,74.2 L230.4,74.2 L230.7,74.2 L231.1,74.2 L231.4,74.2 L231.7,74.2 L232.0,74.2 L232.4,74.2 L232.7,74.2 L233.0,74.2 L233.4,74.2 L233.7,74.2 L234.0,74.2 L234.4,74.2 L234.7,74.2 L235.0,74.2 L235.3,74.2 L235.7,74.2 L236.0,74.2 L236.3,74.2 L236.7,74.2 L237.0,74.2 L237.3,74.2 L237.7,74.2 L238.0,74.2 L238.3,74.2 L238.6,74.2 L239.0,74.2 L239.3,74.2 L239.6,74.2 L240.0,74.2 L240.3,74.2 L240.6,74.2 L241.0,74.2 L241.3,74.2 L241.6,74.2 L241.9,74.2 L242.3,74.2 L242.6,74.2 L242.9,74.2 L243.3,74.2 L243.6,74.2 L243.9,74.2 L244.3,74.2 L244.6,74.2 L244.9,74.2 L245.2,74.2 L245.6,74.2 L245.9,74.2 L246.2,74.2 L246.6,74.2 L246.9,74.2 L247.2,74.2 L247.6,74.2 L247.9,74.2 L248.2,74.2 L248.5,74.2 L248.9,74.2 L249.2,74.2 L249.5,74.2 L249.9,74.2 L250.2,74.2 L250.5,74.2 L250.9,74.2 L251.2,74.2 L251.5,74.2 L251.8,74.2 L252.2,74.2 L252.5,74.2 L252.8,74.2 L253.2,74.2 L253.5,74.2 L253.8,74.2 L254.2,74.2 L254.5,74.2 L254.8,74.2 L255.1,74.2 L255.5,74.2 L255.8,74.2 L256.1,74.2 L256.5,74.2 L256.8,74.2 L257.1,74.2 L257.5,74.2 L257.8,74.2 L258.1,74.2 L258.4,74.2 L258.8,74.2 L259.1,74.2 L259.4,74.2 L259.8,74.2 L260.1,74.2 L260.4,74.2 L260.8,74.2 L261.1,74.2 L261.4,74.2 L261.7,74.2 L262.1,74.2 L262.4,74.2 L262.7,74.2 L263.1,74.2 L263.4,74.2 L263.7,74.2 L264.1,74.2 L264.4,74.2 L264.7,74.2 L265.0,74.2 L265.4,74.0 L265.7,73.8 L266.0,73.6 L266.4,73.8 L266.7,74.0 L267.0,74.2 L267.4,74.2 L267.7,74.2 L268.0,74.2 L268.3,74.2 L268.7,74.2 L269.0,74.2 L269.3,74.2 L269.7,74.2 L270.0,74.2 L270.3,74.2 L270.7,74.2 L271.0,74.2 L271.3,74.2 L271.6,74.2 L272.0,74.2 L272.3,74.0 L272.6,73.8 L273.0,73.6 L273.3,73.8 L273.6,74.0 L274.0,74.2 L274.3,74.2 L274.6,74.2 L274.9,74.2 L275.3,74.2 L275.6,74.2 L275.9,74.2 L276.3,74.2 L276.6,74.2 L276.9,74.2 L277.3,74.2 L277.6,74.2 L277.9,74.2 L278.2,74.2 L278.6,74.2 L278.9,74.2 L279.2,74.2 L279.6,74.2 L279.9,74.2 L280.2,74.2 L280.6,74.2 L280.9,74.2 L281.2,74.2 L281.5,74.2 L281.9,74.2 L282.2,74.2 L282.5,74.2 L282.9,74.2 L283.2,74.2 L283.5,74.2 L283.9,74.2 L284.2,74.2 L284.5,74.2 L284.8,74.2 L285.2,74.2 L285.5,74.2 L285.8,74.2 L286.2,74.2 L286.5,74.2 L286.8,74.2 L287.2,74.2 L287.5,74.2 L287.8,74.2 L288.1,74.2 L288.5,74.2 L288.8,74.2 L289.1,74.2 L289.5,74.2 L289.8,74.2 L290.1,74.2 L290.5,74.2 L290.8,74.2 L291.1,74.2 L291.4,74.2 L291.8,74.2 L292.1,74.2 L292.4,74.2 L292.8,74.2 L293.1,74.2 L293.4,74.2 L293.8,74.2 L294.1,74.2 L294.4,74.2 L294.7,74.2 L295.1,74.2 L295.4,74.2 L295.7,74.2 L296.1,74.2 L296.4,74.2 L296.7,74.2 L297.1,74.2 L297.4,74.2 L297.7,74.2 L298.0,74.2 L298.4,74.2 L298.7,74.2 L299.0,74.2 L299.4,74.2 L299.7,74.2 L300.0,74.2 L300.4,74.2 L300.7,74.2 L301.0,74.2 L301.3,74.2 L301.7,74.2 L302.0,74.2 L302.3,74.2 L302.7,74.2 L303.0,74.2 L303.3,74.2 L303.7,74.2 L304.0,74.2 L304.3,74.2 L304.6,74.2 L305.0,74.2 L305.3,74.2 L305.6,74.2 L306.0,74.2 L306.3,74.2 L306.6,74.2 L307.0,74.2 L307.3,74.2 L307.6,74.2 L307.9,74.2 L308.3,74.2 L308.6,74.2 L308.9,74.2 L309.3,74.2 L309.6,74.2 L309.9,74.2 L310.3,74.2 L310.6,74.2 L310.9,74.2 L311.2,74.2 L311.6,74.2 L311.9,74.2 L312.2,74.2 L312.6,74.2 L312.9,74.2 L313.2,74.2 L313.6,74.2 L313.9,74.2 L314.2,74.2 L314.5,74.2 L314.9,74.2 L315.2,74.2 L315.5,74.2 L315.9,74.2 L316.2,74.2 L316.5,74.2 L316.8,74.2 L317.2,74.2 L317.5,74.2 L317.8,74.2 L318.2,74.2 L318.5,74.2 L318.8,74.2 L319.2,74.2 L319.5,74.2 L319.8,74.2 L320.1,74.2 L320.5,74.2 L320.8,74.2 L321.1,74.2 L321.5,74.2 L321.8,74.2 L322.1,74.2 L322.5,74.2 L322.8,74.2 L323.1,74.2 L323.4,74.2 L323.8,74.2 L324.1,74.2 L324.4,74.2 L324.8,74.2 L325.1,74.2 L325.4,74.2 L325.8,74.2 L326.1,74.2 L326.4,74.2 L326.7,74.2 L327.1,74.2 L327.4,74.2 L327.7,74.2 L328.1,74.2 L328.4,74.2 L328.7,74.2 L329.1,74.2 L329.4,74.2 L329.7,74.2 L330.0,74.2 L330.4,74.2 L330.7,74.2 L331.0,74.2 L331.4,74.2 L331.7,74.2 L332.0,74.2 L332.4,74.2 L332.7,74.2 L333.0,74.2 L333.3,74.2 L333.7,74.2 L334.0,74.2 L334.3,74.2 L334.7,74.2 L335.0,74.2 L335.3,74.2 L335.7,74.2 L336.0,74.2 L336.3,74.2 L336.6,74.2 L337.0,74.2 L337.3,74.2 L337.6,74.2 L338.0,74.2 L338.3,74.2 L338.6,74.2 L339.0,74.2 L339.3,74.2 L339.6,74.2 L339.9,74.2 L340.3,74.2 L340.6,74.2 L340.9,74.2 L341.3,74.2 L341.6,74.2 L341.9,74.2 L342.3,74.2 L342.6,74.2 L342.9,74.2 L343.2,74.2 L343.6,74.2 L343.9,74.2 L344.2,74.2 L344.6,74.2 L344.9,74.2 L345.2,74.2 L345.6,74.2 L345.9,74.2 L346.2,74.2 L346.5,74.2 L346.9,74.2 L347.2,74.2 L347.5,74.2 L347.9,74.2 L348.2,74.2 L348.5,74.2 L348.9,74.2 L349.2,74.2 L349.5,74.2 L349.8,74.2 L350.2,74.2 L350.5,74.2 L350.8,74.2 L351.2,74.2 L351.5,74.2 L351.8,74.2 L352.2,74.2 L352.5,74.2 L352.8,74.2 L353.1,74.2 L353.5,74.2 L353.8,74.2 L354.1,74.2 L354.5,74.2 L354.8,74.2 L355.1,74.2 L355.5,74.2 L355.8,74.2 L356.1,74.2 L356.4,74.2 L356.8,74.2 L357.1,74.2 L357.4,74.2 L357.8,74.2 L358.1,74.2 L358.4,74.2 L358.8,74.2 L359.1,74.2 L359.4,74.2 L359.7,74.2 L360.1,74.2 L360.4,74.2 L360.7,74.2 L361.1,74.2 L361.4,74.2 L361.7,74.2 L362.1,74.2 L362.4,74.2 L362.7,74.2 L363.0,74.2 L363.4,74.2 L363.7,74.2 L364.0,74.2 L364.4,74.2 L364.7,74.2 L365.0,74.2 L365.4,74.2 L365.7,74.2 L366.0,74.2 L366.3,74.2 L366.7,74.2 L367.0,74.2 L367.3,74.2 L367.7,74.2 L368.0,74.2 L368.3,74.2 L368.7,74.2 L369.0,74.2 L369.3,74.2 L369.6,74.2 L370.0,74.2 L370.3,74.2 L370.6,74.2 L371.0,74.2 L371.3,74.2 L371.6,74.2 L372.0,74.2 L372.3,74.2 L372.6,74.2 L372.9,74.2 L373.3,74.2 L373.6,74.2 L373.9,74.2 L374.3,74.2 L374.6,74.2 L374.9,74.2 L375.3,74.2 L375.6,74.2 L375.9,74.2 L376.2,74.2 L376.6,74.2 L376.9,74.2 L377.2,74.2 L377.6,74.2 L377.9,74.2 L378.2,74.2 L378.6,74.2 L378.9,74.2 L379.2,74.2 L379.5,74.2 L379.9,74.2 L380.2,74.2 L380.5,74.2 L380.9,74.2 L381.2,74.2 L381.5,74.2 L381.9,74.2 L382.2,74.2 L382.5,74.2 L382.8,74.2 L383.2,74.2 L383.5,74.2 L383.8,74.2 L384.2,74.2 L384.5,74.2 L384.8,74.2 L385.2,74.2 L385.5,74.2 L385.8,74.2 L386.1,74.2 L386.5,74.2 L386.8,74.2 L387.1,74.2 L387.5,74.2 L387.8,74.2 L388.1,74.2 L388.5,74.2 L388.8,74.2 L389.1,74.2 L389.4,74.2 L389.8,74.2 L390.1,74.2 L390.4,74.2 L390.8,74.2 L391.1,74.2 L391.4,74.2 L391.8,74.2 L392.1,74.2 L392.4,74.2 L392.7,74.2 L393.1,74.2 L393.4,74.2 L393.7,74.2 L394.1,74.2 L394.4,74.2 L394.7,74.2 L395.1,74.2 L395.4,74.2 L395.7,74.2 L396.0,74.2 L396.4,74.2 L396.7,74.2 L397.0,74.2 L397.4,74.2 L397.7,74.2 L398.0,74.2 L398.4,74.2 L398.7,74.2 L399.0,74.2 L399.3,74.2 L399.7,74.2 L400.0,74.2 L400.3,74.2 L400.7,74.2 L401.0,74.2 L401.3,74.2 L401.7,74.2 L402.0,74.2 L402.3,74.2 L402.6,74.2 L403.0,74.2 L403.3,74.2 L403.6,74.2 L404.0,74.2 L404.3,74.2 L404.6,74.2 L405.0,74.2 L405.3,74.2 L405.6,74.2 L405.9,74.2 L406.3,74.2 L406.6,74.2 L406.9,74.2 L407.3,74.2 L407.6,74.2 L407.9,74.2 L408.3,74.2 L408.6,74.2 L408.9,74.2 L409.2,74.2 L409.6,74.2 L409.9,74.2 L410.2,74.2 L410.6,74.2 L410.9,74.2 L411.2,74.2 L411.6,74.2 L411.9,74.2 L412.2,74.2 L412.5,74.2 L412.9,74.2 L413.2,74.2 L413.5,74.2 L413.9,74.2 L414.2,74.2 L414.5,74.2 L414.9,74.2 L415.2,74.2 L415.5,74.2 L415.8,74.2 L416.2,74.2 L416.5,74.2 L416.8,74.2 L417.2,74.2 L417.5,74.2 L417.8,74.2 L418.2,74.2 L418.5,74.2 L418.8,74.2 L419.1,74.2 L419.5,74.2 L419.8,74.2 L420.1,74.2 L420.5,74.2 L420.8,74.2 L421.1,74.2 L421.5,74.2 L421.8,74.2 L422.1,74.2 L422.4,74.2 L422.8,74.2 L423.1,74.2 L423.4,74.2 L423.8,74.2 L424.1,74.2 L424.4,74.2 L424.8,74.2 L425.1,74.2 L425.4,74.2 L425.7,74.2 L426.1,74.2 L426.4,74.2 L426.7,74.2 L427.1,74.2 L427.4,74.2 L427.7,74.2 L428.1,74.2 L428.4,74.2 L428.7,74.2 L429.0,74.2 L429.4,74.2 L429.7,74.2 L430.0,74.2 L430.4,74.2 L430.7,74.2 L431.0,74.2 L431.4,74.2 L431.7,74.2 L432.0,74.2 L432.3,74.2 L432.7,74.2 L433.0,74.2 L433.3,74.2 L433.7,74.2 L434.0,74.2 L434.3,74.2 L434.7,74.2 L435.0,74.2 L435.3,74.2 L435.6,74.2 L436.0,74.2 L436.3,74.2 L436.6,74.2 L437.0,74.2 L437.3,74.2 L437.6,74.2 L438.0,74.2 L438.3,74.2 L438.6,74.2 L438.9,74.2 L439.3,74.2 L439.6,74.2 L439.9,74.2 L440.3,74.2 L440.6,74.2 L440.9,74.2 L441.3,74.2 L441.6,74.2 L441.9,74.2 L442.2,74.2 L442.6,74.2 L442.9,74.2 L443.2,74.2 L443.6,74.2 L443.9,74.2 L444.2,74.2 L444.6,74.2 L444.9,74.2 L445.2,74.2 L445.5,74.2 L445.9,74.2 L446.2,74.2 L446.5,74.2 L446.9,74.2 L447.2,74.2 L447.5,74.2 L447.9,74.2 L448.2,74.2 L448.5,74.2 L448.8,74.2 L449.2,74.2 L449.5,74.2 L449.8,74.2 L450.2,74.2 L450.5,74.2 L450.8,74.2 L451.2,74.2 L451.5,74.2 L451.8,74.2 L452.1,74.2 L452.5,74.2 L452.8,74.2 L453.1,74.2 L453.5,74.2 L453.8,74.2 L454.1,74.2 L454.5,74.2 L454.8,74.2 L455.1,74.2 L455.4,74.2 L455.8,74.2 L456.1,74.2 L456.4,74.2 L456.8,74.2 L457.1,74.2 L457.4,74.2 L457.8,74.2 L458.1,74.2 L458.4,74.2 L458.7,74.2 L459.1,74.2 L459.4,74.2 L459.7,74.2 L460.1,74.2 L460.4,74.2 L460.7,74.2 L461.1,74.2 L461.4,74.2 L461.7,74.2 L462.0,74.2 L462.4,74.2 L462.7,74.2 L463.0,74.2 L463.4,74.2 L463.7,74.2 L464.0,74.2 L464.4,74.2 L464.7,74.2 L465.0,74.2 L465.3,74.2 L465.7,74.2 L466.0,74.2 L466.3,74.2 L466.7,74.2 L467.0,74.2 L467.3,74.2 L467.7,74.2 L468.0,74.2 L468.3,74.2 L468.6,74.2 L469.0,74.2 L469.3,74.2 L469.6,74.2 L470.0,74.2 L470.3,74.2 L470.6,74.2 L471.0,74.2 L471.3,74.2 L471.6,74.2 L471.9,74.2 L472.3,74.2 L472.6,74.2 L472.9,74.2 L473.3,74.2 L473.6,74.2 L473.9,74.2 L474.3,74.2 L474.6,74.2 L474.9,74.2 L475.2,74.2 L475.6,74.2 L475.9,74.2 L476.2,74.2 L476.6,74.2 L476.9,74.2 L477.2,74.2 L477.6,74.2 L477.9,74.2 L478.2,74.2 L478.5,74.2 L478.9,74.2 L479.2,74.2 L479.5,74.2 L479.9,74.2 L480.2,74.2 L480.5,74.2 L480.9,74.2 L481.2,74.2 L481.5,74.2 L481.8,74.2 L482.2,74.2 L482.5,74.2 L482.8,74.2 L483.2,74.2 L483.5,74.2 L483.8,74.2 L484.2,74.2 L484.5,74.2 L484.8,74.2 L485.1,74.2 L485.5,74.2 L485.8,74.2 L486.1,74.2 L486.5,74.2 L486.8,74.2 L487.1,74.2 L487.5,74.2 L487.8,74.2 L488.1,74.2 L488.4,74.2 L488.8,74.2 L489.1,74.2 L489.4,74.2 L489.8,74.2 L490.1,74.2 L490.4,74.2 L490.8,74.2 L491.1,74.2 L491.4,74.2 L491.7,74.2 L492.1,74.2 L492.4,74.2 L492.7,74.2 L493.1,74.2 L493.4,74.2 L493.7,74.2 L494.1,74.2 L494.4,74.2 L494.7,74.2 L494.9,74.2 Z" fill="#00BFC4" stroke="none" stroke-width="1" />
<text x="180.50" y="61.00" font-size="1.8" fill="#999" >0 - 10</text>
<line x1="179.40" y1="89.25" x2="495.40" y2="89.25" stroke="#00BFC4" stroke-width="0.85" />
<path d="M179.9,89.5 L179.9,88.6 L180.2,89.3 L180.6,89.0 L180.9,89.0 L181.2,89.4 L181.6,89.4 L181.9,89.1 L182.2,89.4 L182.5,89.3 L182.9,88.7 L183.2,88.8 L183.5,89.4 L183.9,89.4 L184.2,89.4 L184.5,88.8 L184.9,89.4 L185.2,89.4 L185.5,89.4 L185.8,89.4 L186.2,89.2 L186.5,89.4 L186.8,89.3 L187.2,89.0 L187.5,89.0 L187.8,89.3 L188.2,88.9 L188.5,89.2 L188.8,88.8 L189.1,89.4 L189.5,89.3 L189.8,89.1 L190.1,88.6 L190.5,89.1 L190.8,89.2 L191.1,89.4 L191.5,89.4 L191.8,89.4 L192.1,88.6 L192.4,88.7 L192.8,88.7 L193.1,89.2 L193.4,89.0 L193.8,89.4 L194.1,89.2 L194.4,89.4 L194.8,89.3 L195.1,89.4 L195.4,89.4 L195.7,88.7 L196.1,89.4 L196.4,88.9 L196.7,89.0 L197.1,89.4 L197.4,89.2 L197.7,88.6 L198.1,88.6 L198.4,89.2 L198.7,88.9 L199.0,89.0 L199.4,89.4 L199.7,89.2 L200.0,89.1 L200.4,89.3 L200.7,88.8 L201.0,89.3 L201.4,88.9 L201.7,89.4 L202.0,89.3 L202.3,89.2 L202.7,88.8 L203.0,88.3 L203.3,88.2 L203.7,88.7 L204.0,89.1 L204.3,89.4 L204.7,89.2 L205.0,87.8 L205.3,85.7 L205.6,83.7 L206.0,81.7 L206.3,80.0 L206.6,82.1 L207.0,83.7 L207.3,85.8 L207.6,87.8 L208.0,89.1 L208.3,89.4 L208.6,89.4 L208.9,88.8 L209.3,89.1 L209.6,89.4 L209.9,88.4 L210.3,85.6 L210.6,82.6 L210.9,80.0 L211.3,77.1 L211.6,79.1 L211.9,81.9 L212.2,84.6 L212.6,87.5 L212.9,89.2 L213.2,88.8 L213.6,88.7 L213.9,89.4 L214.2,89.2 L214.6,89.4 L214.9,89.3 L215.2,89.4 L215.5,89.3 L215.9,89.0 L216.2,88.8 L216.5,89.4 L216.9,89.4 L217.2,88.6 L217.5,88.9 L217.9,89.2 L218.2,89.4 L218.5,89.4 L218.8,88.7 L219.2,89.2 L219.5,88.8 L219.8,88.9 L220.2,88.9 L220.5,88.9 L220.8,89.4 L221.2,89.4 L221.5,89.3 L221.8,88.9 L222.1,88.9 L222.5,88.9 L222.8,89.1 L223.1,89.2 L223.5,89.4 L223.8,89.1 L224.1,89.1 L224.5,89.2 L224.8,89.0 L225.1,88.6 L225.4,88.6 L225.8,89.4 L226.1,89.4 L226.4,89.1 L226.8,89.0 L227.1,89.4 L227.4,88.7 L227.8,89.3 L228.1,88.9 L228.4,89.4 L228.7,89.4 L229.1,89.4 L229.4,88.9 L229.7,89.2 L230.1,88.6 L230.4,89.1 L230.7,89.4 L231.1,89.3 L231.4,89.3 L231.7,89.4 L232.0,89.4 L232.4,89.1 L232.7,89.4 L233.0,89.3 L233.4,89.0 L233.7,89.4 L234.0,89.3 L234.4,89.4 L234.7,89.4 L235.0,89.1 L235.3,89.4 L235.7,89.3 L236.0,89.4 L236.3,89.0 L236.7,89.4 L237.0,88.6 L237.3,89.2 L237.7,89.1 L238.0,89.2 L238.3,88.8 L238.6,89.0 L239.0,89.1 L239.3,89.4 L239.6,89.4 L240.0,88.9 L240.3,89.3 L240.6,88.6 L241.0,89.1 L241.3,88.8 L241.6,89.0 L241.9,88.6 L242.3,89.1 L242.6,88.7 L242.9,89.3 L243.3,89.4 L243.6,89.1 L243.9,87.6 L244.3,86.3 L244.6,85.5 L244.9,85.8 L245.2,84.1 L245.6,84.3 L245.9,85.9 L246.2,87.6 L246.6,88.8 L246.9,89.1 L247.2,88.1 L247.6,87.2 L247.9,87.9 L248.2,88.9 L248.5,89.1 L248.9,89.0 L249.2,89.1 L249.5,89.4 L249.9,89.0 L250.2,88.6 L250.5,89.1 L250.9,89.0 L251.2,89.4 L251.5,89.4 L251.8,89.3 L252.2,89.1 L252.5,89.0 L252.8,89.2 L253.2,89.2 L253.5,89.4 L253.8,89.4 L254.2,89.4 L254.5,89.4 L254.8,89.4 L255.1,89.4 L255.5,89.3 L255.8,89.3 L256.1,88.8 L256.5,88.7 L256.8,88.6 L257.1,89.0 L257.5,88.1 L257.8,87.1 L258.1,86.9 L258.4,87.8 L258.8,88.8 L259.1,89.4 L259.4,89.4 L259.8,89.3 L260.1,88.7 L260.4,89.1 L260.8,89.2 L261.1,89.4 L261.4,89.3 L261.7,89.3 L262.1,89.1 L262.4,89.3 L262.7,88.9 L263.1,89.4 L263.4,89.0 L263.7,89.4 L264.1,89.4 L264.4,88.9 L264.7,88.8 L265.0,89.4 L265.4,89.4 L265.7,88.6 L266.0,89.1 L266.4,89.4 L266.7,88.6 L267.0,89.2 L267.4,89.4 L267.7,89.2 L268.0,89.3 L268.3,89.1 L268.7,89.3 L269.0,89.3 L269.3,89.0 L269.7,89.4 L270.0,88.8 L270.3,88.9 L270.7,88.6 L271.0,89.4 L271.3,88.8 L271.6,89.0 L272.0,89.4 L272.3,88.7 L272.6,89.2 L273.0,89.4 L273.3,89.4 L273.6,88.6 L274.0,88.9 L274.3,89.4 L274.6,88.7 L274.9,89.4 L275.3,89.0 L275.6,89.1 L275.9,88.8 L276.3,88.7 L276.6,89.0 L276.9,88.8 L277.3,89.3 L277.6,88.7 L277.9,89.3 L278.2,89.0 L278.6,88.9 L278.9,89.3 L279.2,88.8 L279.6,89.0 L279.9,89.4 L280.2,89.1 L280.6,89.2 L280.9,89.1 L281.2,89.4 L281.5,89.0 L281.9,89.3 L282.2,89.0 L282.5,89.4 L282.9,89.4 L283.2,89.3 L283.5,89.1 L283.9,88.9 L284.2,89.2 L284.5,88.8 L284.8,89.4 L285.2,89.4 L285.5,89.3 L285.8,89.1 L286.2,88.9 L286.5,89.4 L286.8,89.1 L287.2,89.3 L287.5,89.2 L287.8,89.4 L288.1,89.4 L288.5,89.1 L288.8,89.3 L289.1,88.6 L289.5,89.2 L289.8,89.3 L290.1,89.4 L290.5,89.2 L290.8,89.2 L291.1,89.4 L291.4,88.6 L291.8,89.2 L292.1,88.9 L292.4,89.0 L292.8,88.8 L293.1,89.4 L293.4,88.6 L293.8,89.1 L294.1,89.4 L294.4,89.1 L294.7,89.4 L295.1,89.3 L295.4,89.4 L295.7,89.4 L296.1,89.3 L296.4,88.8 L296.7,88.9 L297.1,88.7 L297.4,88.9 L297.7,89.1 L298.0,89.1 L298.4,88.6 L298.7,89.4 L299.0,89.2 L299.4,89.2 L299.7,89.4 L300.0,88.8 L300.4,89.0 L300.7,89.3 L301.0,88.9 L301.3,89.2 L301.7,89.0 L302.0,89.2 L302.3,88.8 L302.7,89.2 L303.0,89.4 L303.3,88.9 L303.7,89.4 L304.0,89.2 L304.3,88.7 L304.6,89.0 L305.0,89.4 L305.3,88.8 L305.6,88.6 L306.0,89.3 L306.3,89.4 L306.6,89.3 L307.0,89.2 L307.3,89.4 L307.6,88.8 L307.9,89.1 L308.3,89.3 L308.6,88.9 L308.9,89.4 L309.3,88.7 L309.6,88.8 L309.9,89.2 L310.3,89.4 L310.6,89.3 L310.9,89.4 L311.2,89.2 L311.6,89.4 L311.9,89.2 L312.2,89.3 L312.6,89.4 L312.9,89.1 L313.2,89.2 L313.6,88.7 L313.9,89.3 L314.2,89.2 L314.5,89.0 L314.9,89.4 L315.2,89.2 L315.5,89.4 L315.9,89.2 L316.2,89.2 L316.5,88.7 L316.8,88.6 L317.2,89.4 L317.5,88.8 L317.8,89.3 L318.2,89.4 L318.5,89.1 L318.8,89.4 L319.2,88.6 L319.5,88.7 L319.8,89.4 L320.1,88.6 L320.5,88.7 L320.8,89.4 L321.1,89.1 L321.5,89.2 L321.8,89.4 L322.1,89.0 L322.5,89.4 L322.8,89.3 L323.1,89.2 L323.4,88.9 L323.8,89.3 L324.1,89.4 L324.4,89.3 L324.8,89.2 L325.1,89.3 L325.4,89.4 L325.8,88.8 L326.1,89.4 L326.4,89.4 L326.7,89.4 L327.1,88.6 L327.4,89.4 L327.7,89.1 L328.1,89.2 L328.4,89.4 L328.7,88.9 L329.1,89.4 L329.4,89.4 L329.7,89.4 L330.0,89.1 L330.4,89.4 L330.7,89.1 L331.0,89.1 L331.4,89.4 L331.7,88.6 L332.0,89.4 L332.4,89.4 L332.7,88.9 L333.0,89.4 L333.3,88.9 L333.7,89.0 L334.0,88.9 L334.3,89.3 L334.7,89.4 L335.0,89.3 L335.3,89.1 L335.7,89.4 L336.0,89.4 L336.3,89.4 L336.6,89.4 L337.0,88.9 L337.3,88.6 L337.6,89.2 L338.0,89.4 L338.3,89.3 L338.6,88.8 L339.0,89.0 L339.3,89.2 L339.6,89.1 L339.9,88.7 L340.3,89.1 L340.6,89.4 L340.9,88.7 L341.3,89.4 L341.6,89.4 L341.9,89.4 L342.3,89.3 L342.6,89.2 L342.9,88.8 L343.2,89.4 L343.6,88.8 L343.9,88.6 L344.2,88.8 L344.6,88.9 L344.9,89.2 L345.2,89.3 L345.6,89.4 L345.9,89.3 L346.2,89.4 L346.5,89.3 L346.9,89.4 L347.2,88.6 L347.5,89.3 L347.9,89.4 L348.2,89.4 L348.5,89.3 L348.9,89.4 L349.2,89.0 L349.5,89.4 L349.8,89.1 L350.2,89.3 L350.5,89.3 L350.8,88.7 L351.2,89.3 L351.5,88.7 L351.8,89.0 L352.2,88.9 L352.5,89.0 L352.8,89.2 L353.1,89.4 L353.5,89.0 L353.8,89.4 L354.1,89.4 L354.5,88.9 L354.8,88.8 L355.1,89.4 L355.5,88.9 L355.8,89.3 L356.1,89.4 L356.4,88.7 L356.8,89.2 L357.1,89.4 L357.4,88.7 L357.8,89.4 L358.1,89.0 L358.4,89.0 L358.8,89.0 L359.1,89.2 L359.4,89.4 L359.7,89.4 L360.1,88.9 L360.4,89.2 L360.7,89.4 L361.1,89.0 L361.4,88.7 L361.7,88.2 L362.1,88.2 L362.4,88.7 L362.7,89.2 L363.0,89.0 L363.4,88.9 L363.7,88.8 L364.0,88.6 L364.4,89.4 L364.7,88.6 L365.0,89.4 L365.4,89.4 L365.7,89.4 L366.0,89.4 L366.3,89.4 L366.7,89.4 L367.0,89.2 L367.3,89.4 L367.7,88.9 L368.0,89.4 L368.3,89.4 L368.7,89.4 L369.0,89.4 L369.3,89.4 L369.6,89.2 L370.0,89.4 L370.3,89.4 L370.6,89.4 L371.0,88.8 L371.3,89.4 L371.6,89.3 L372.0,87.9 L372.3,86.3 L372.6,84.9 L372.9,83.8 L373.3,85.4 L373.6,86.8 L373.9,88.3 L374.3,89.1 L374.6,88.8 L374.9,89.1 L375.3,89.1 L375.6,89.3 L375.9,89.4 L376.2,89.0 L376.6,89.3 L376.9,89.4 L377.2,89.0 L377.6,88.7 L377.9,88.8 L378.2,89.4 L378.6,88.9 L378.9,89.2 L379.2,89.4 L379.5,88.9 L379.9,89.2 L380.2,89.2 L380.5,89.4 L380.9,89.2 L381.2,89.2 L381.5,88.8 L381.9,88.7 L382.2,89.4 L382.5,88.7 L382.8,89.3 L383.2,89.4 L383.5,88.9 L383.8,88.9 L384.2,88.9 L384.5,89.4 L384.8,89.0 L385.2,88.7 L385.5,88.6 L385.8,89.3 L386.1,88.8 L386.5,89.4 L386.8,88.7 L387.1,88.5 L387.5,87.2 L387.8,85.9 L388.1,86.4 L388.5,87.6 L388.8,89.0 L389.1,89.4 L389.4,89.2 L389.8,89.4 L390.1,88.9 L390.4,88.6 L390.8,88.6 L391.1,89.4 L391.4,89.0 L391.8,89.2 L392.1,89.4 L392.4,89.3 L392.7,89.0 L393.1,89.0 L393.4,89.3 L393.7,89.4 L394.1,89.3 L394.4,89.4 L394.7,89.3 L395.1,88.6 L395.4,89.1 L395.7,89.1 L396.0,89.4 L396.4,89.3 L396.7,88.9 L397.0,89.4 L397.4,89.4 L397.7,89.4 L398.0,89.4 L398.4,89.2 L398.7,89.4 L399.0,88.8 L399.3,88.9 L399.7,89.3 L400.0,88.7 L400.3,88.8 L400.7,88.7 L401.0,88.6 L401.3,88.7 L401.7,88.7 L402.0,89.3 L402.3,88.6 L402.6,89.4 L403.0,89.1 L403.3,89.4 L403.6,88.6 L404.0,89.0 L404.3,89.4 L404.6,88.6 L405.0,89.1 L405.3,89.3 L405.6,89.2 L405.9,88.6 L406.3,88.7 L406.6,89.4 L406.9,89.4 L407.3,89.4 L407.6,89.4 L407.9,89.4 L408.3,89.1 L408.6,89.1 L408.9,88.9 L409.2,88.8 L409.6,89.0 L409.9,88.7 L410.2,89.4 L410.6,88.6 L410.9,89.3 L411.2,88.9 L411.6,89.1 L411.9,88.9 L412.2,89.0 L412.5,89.4 L412.9,89.2 L413.2,89.4 L413.5,88.8 L413.9,89.0 L414.2,89.4 L414.5,89.4 L414.9,89.4 L415.2,89.4 L415.5,89.2 L415.8,89.0 L416.2,89.3 L416.5,89.3 L416.8,88.8 L417.2,89.0 L417.5,89.4 L417.8,89.4 L418.2,88.7 L418.5,89.1 L418.8,89.4 L419.1,89.3 L419.5,89.3 L419.8,89.1 L420.1,88.8 L420.5,88.9 L420.8,89.4 L421.1,89.4 L421.5,89.4 L421.8,89.4 L422.1,89.1 L422.4,89.1 L422.8,89.2 L423.1,88.9 L423.4,89.4 L423.8,89.4 L424.1,89.4 L424.4,89.0 L424.8,89.1 L425.1,89.3 L425.4,88.8 L425.7,89.4 L426.1,88.7 L426.4,88.7 L426.7,89.4 L427.1,89.0 L427.4,89.1 L427.7,89.4 L428.1,89.4 L428.4,89.4 L428.7,89.3 L429.0,88.9 L429.4,89.3 L429.7,88.9 L430.0,89.3 L430.4,89.0 L430.7,89.3 L431.0,89.1 L431.4,89.1 L431.7,89.2 L432.0,89.4 L432.3,89.4 L432.7,89.4 L433.0,89.1 L433.3,89.2 L433.7,89.4 L434.0,89.0 L434.3,89.4 L434.7,89.4 L435.0,88.3 L435.3,86.1 L435.6,84.1 L436.0,81.9 L436.3,83.9 L436.6,81.6 L437.0,77.1 L437.3,80.7 L437.6,78.1 L438.0,77.7 L438.3,80.2 L438.6,76.6 L438.9,80.8 L439.3,83.5 L439.6,80.7 L439.9,83.4 L440.3,86.6 L440.6,89.4 L440.9,89.1 L441.3,88.7 L441.6,89.2 L441.9,89.4 L442.2,89.4 L442.6,89.1 L442.9,89.0 L443.2,88.8 L443.6,89.4 L443.9,89.4 L444.2,89.4 L444.6,89.2 L444.9,88.9 L445.2,89.3 L445.5,89.4 L445.9,89.4 L446.2,89.2 L446.5,89.4 L446.9,89.1 L447.2,89.1 L447.5,88.5 L447.9,88.1 L448.2,88.7 L448.5,89.3 L448.8,88.8 L449.2,89.2 L449.5,89.2 L449.8,89.2 L450.2,88.7 L450.5,89.4 L450.8,89.4 L451.2,89.3 L451.5,89.4 L451.8,89.4 L452.1,89.3 L452.5,89.0 L452.8,88.6 L453.1,89.4 L453.5,89.4 L453.8,89.4 L454.1,88.9 L454.5,89.4 L454.8,89.4 L455.1,89.2 L455.4,89.4 L455.8,89.2 L456.1,89.4 L456.4,89.4 L456.8,88.8 L457.1,89.2 L457.4,89.1 L457.8,89.4 L458.1,89.4 L458.4,88.8 L458.7,89.2 L459.1,89.4 L459.4,89.1 L459.7,88.9 L460.1,89.0 L460.4,89.4 L460.7,88.7 L461.1,89.3 L461.4,89.3 L461.7,89.4 L462.0,88.6 L462.4,89.2 L462.7,89.2 L463.0,88.7 L463.4,89.4 L463.7,89.4 L464.0,89.4 L464.4,89.2 L464.7,89.4 L465.0,88.7 L465.3,89.2 L465.7,88.8 L466.0,88.8 L466.3,88.7 L466.7,89.4 L467.0,89.1 L467.3,89.1 L467.7,88.7 L468.0,89.4 L468.3,89.1 L468.6,88.9 L469.0,89.2 L469.3,89.4 L469.6,88.9 L470.0,89.4 L470.3,89.3 L470.6,89.4 L471.0,89.3 L471.3,88.7 L471.6,88.6 L471.9,88.7 L472.3,88.8 L472.6,89.4 L472.9,89.1 L473.3,89.2 L473.6,89.1 L473.9,89.3 L474.3,88.9 L474.6,89.4 L474.9,88.8 L475.2,88.7 L475.6,89.2 L475.9,89.2 L476.2,89.4 L476.6,88.8 L476.9,88.8 L477.2,89.4 L477.6,89.2 L477.9,89.4 L478.2,88.6 L478.5,89.0 L478.9,88.8 L479.2,89.2 L479.5,88.9 L479.9,89.4 L480.2,89.2 L480.5,89.1 L480.9,88.8 L481.2,89.3 L481.5,89.4 L481.8,89.2 L482.2,89.4 L482.5,89.4 L482.8,89.4 L483.2,88.8 L483.5,89.3 L483.8,89.4 L484.2,89.4 L484.5,89.1 L484.8,89.2 L485.1,89.1 L485.5,88.9 L485.8,88.8 L486.1,89.3 L486.5,89.2 L486.8,88.8 L487.1,89.0 L487.5,89.4 L487.8,89.2 L488.1,89.3 L488.4,89.1 L488.8,89.4 L489.1,89.1 L489.4,89.2 L489.8,89.1 L490.1,89.0 L490.4,89.2 L490.8,88.5 L491.1,87.9 L491.4,87.8 L491.7,88.4 L492.1,88.6 L492.4,89.4 L492.7,89.2 L493.1,89.4 L493.4,89.3 L493.7,88.9 L494.1,89.2 L494.4,89.4 L494.7,89.4 L494.9,89.5 Z" fill="#00BFC4" stroke="none" stroke-width="1" />
<text x="180.50" y="76.25" font-size="1.8" fill="#999" >0 - 10</text>
<line x1="179.40" y1="104.70" x2="495.40" y2="104.70" stroke="#ead2ff" stroke-width="0.9" />
<path d="M179.9,104.7 L179.9,104.7 L180.2,104.7 L180.6,104.7 L180.9,104.7 L181.2,104.7 L181.6,104.7 L181.9,104.7 L182.2,104.7 L182.5,104.7 L182.9,104.7 L183.2,104.7 L183.5,104.7 L183.9,104.7 L184.2,104.7 L184.5,104.7 L184.9,104.7 L185.2,104.7 L185.5,104.7 L185.8,104.7 L186.2,104.7 L186.5,104.7 L186.8,104.7 L187.2,104.7 L187.5,104.7 L187.8,104.7 L188.2,104.7 L188.5,104.7 L188.8,104.7 L189.1,104.7 L189.5,104.7 L189.8,104.7 L190.1,104.7 L190.5,104.7 L190.8,104.7 L191.1,104.7 L191.5,104.7 L191.8,104.7 L192.1,104.7 L192.4,104.7 L192.8,104.7 L193.1,104.7 L193.4,104.7 L193.8,104.7 L194.1,104.7 L194.4,104.7 L194.8,104.7 L195.1,104.7 L195.4,104.7 L195.7,104.7 L196.1,104.7 L196.4,104.7 L196.7,104.7 L197.1,104.7 L197.4,104.7 L197.7,104.7 L198.1,104.7 L198.4,104.7 L198.7,104.7 L199.0,104.7 L199.4,104.7 L199.7,104.7 L200.0,104.7 L200.4,104.7 L200.7,104.7 L201.0,104.7 L201.4,104.7 L201.7,104.7 L202.0,104.7 L202.3,104.7 L202.7,104.7 L203.0,104.7 L203.3,104.7 L203.7,104.7 L204.0,104.7 L204.3,104.7 L204.7,104.7 L205.0,104.7 L205.3,104.7 L205.6,104.7 L206.0,104.7 L206.3,104.7 L206.6,104.7 L207.0,104.7 L207.3,104.7 L207.6,104.7 L208.0,104.7 L208.3,104.7 L208.6,104.7 L208.9,104.7 L209.3,104.7 L209.6,104.7 L209.9,104.7 L210.3,104.7 L210.6,104.7 L210.9,104.7 L211.3,104.6 L211.6,103.8 L211.9,103.5 L212.2,104.3 L212.6,104.7 L212.9,104.7 L213.2,104.7 L213.6,104.7 L213.9,104.7 L214.2,104.7 L214.6,104.7 L214.9,104.7 L215.2,104.7 L215.5,104.7 L215.9,104.7 L216.2,102.9 L216.5,99.7 L216.9,96.5 L217.2,97.4 L217.5,100.3 L217.9,103.3 L218.2,104.7 L218.5,104.7 L218.8,104.7 L219.2,104.7 L219.5,104.7 L219.8,104.7 L220.2,104.7 L220.5,104.7 L220.8,104.7 L221.2,104.7 L221.5,104.7 L221.8,104.7 L222.1,104.7 L222.5,104.7 L222.8,104.7 L223.1,104.7 L223.5,104.7 L223.8,104.7 L224.1,104.7 L224.5,104.7 L224.8,104.7 L225.1,104.7 L225.4,104.7 L225.8,104.7 L226.1,104.7 L226.4,104.7 L226.8,104.7 L227.1,104.7 L227.4,104.7 L227.8,104.7 L228.1,104.7 L228.4,104.7 L228.7,104.7 L229.1,104.7 L229.4,104.7 L229.7,104.7 L230.1,104.7 L230.4,104.7 L230.7,104.7 L231.1,104.7 L231.4,104.7 L231.7,104.7 L232.0,104.7 L232.4,104.7 L232.7,104.7 L233.0,104.7 L233.4,104.7 L233.7,104.7 L234.0,104.7 L234.4,104.7 L234.7,104.7 L235.0,104.7 L235.3,104.7 L235.7,104.7 L236.0,104.7 L236.3,104.7 L236.7,104.7 L237.0,104.7 L237.3,104.7 L237.7,104.7 L238.0,101.6 L238.3,95.6 L238.6,98.4 L239.0,104.2 L239.3,104.7 L239.6,104.7 L240.0,104.7 L240.3,104.7 L240.6,104.7 L241.0,104.7 L241.3,104.7 L241.6,104.7 L241.9,104.7 L242.3,104.7 L242.6,104.7 L242.9,104.7 L243.3,104.7 L243.6,104.7 L243.9,104.7 L244.3,104.7 L244.6,104.7 L244.9,104.7 L245.2,104.7 L245.6,104.7 L245.9,104.7 L246.2,104.7 L246.6,104.7 L246.9,104.7 L247.2,104.7 L247.6,104.7 L247.9,104.7 L248.2,104.7 L248.5,104.7 L248.9,104.7 L249.2,102.3 L249.5,98.4 L249.9,98.3 L250.2,102.2 L250.5,104.7 L250.9,104.7 L251.2,104.7 L251.5,104.7 L251.8,104.7 L252.2,104.7 L252.5,104.7 L252.8,104.7 L253.2,104.7 L253.5,104.7 L253.8,104.7 L254.2,104.7 L254.5,104.7 L254.8,104.7 L255.1,104.7 L255.5,104.7 L255.8,104.7 L256.1,104.7 L256.5,104.7 L256.8,104.7 L257.1,104.7 L257.5,104.7 L257.8,104.7 L258.1,104.7 L258.4,104.7 L258.8,104.7 L259.1,104.7 L259.4,104.7 L259.8,104.7 L260.1,104.7 L260.4,104.7 L260.8,104.7 L261.1,104.7 L261.4,104.7 L261.7,104.7 L262.1,104.7 L262.4,104.7 L262.7,104.7 L263.1,104.7 L263.4,104.7 L263.7,104.7 L264.1,104.7 L264.4,104.7 L264.7,104.7 L265.0,93.4 L265.4,93.4 L265.7,93.8 L266.0,93.7 L266.4,93.5 L266.7,94.0 L267.0,96.4 L267.4,95.8 L267.7,96.5 L268.0,100.0 L268.3,99.8 L268.7,99.8 L269.0,95.4 L269.3,95.1 L269.7,94.3 L270.0,95.2 L270.3,94.2 L270.7,95.5 L271.0,94.5 L271.3,99.6 L271.6,92.3 L272.0,92.1 L272.3,92.6 L272.6,92.4 L273.0,91.9 L273.3,91.7 L273.6,93.3 L274.0,96.8 L274.3,97.4 L274.6,97.0 L274.9,97.3 L275.3,99.0 L275.6,98.6 L275.9,99.1 L276.3,99.0 L276.6,99.2 L276.9,100.3 L277.3,100.7 L277.6,100.8 L277.9,100.5 L278.2,100.4 L278.6,100.4 L278.9,101.9 L279.2,101.9 L279.6,101.8 L279.9,102.0 L280.2,104.7 L280.6,104.7 L280.9,104.7 L281.2,104.7 L281.5,104.7 L281.9,104.7 L282.2,104.7 L282.5,104.7 L282.9,104.7 L283.2,104.7 L283.5,104.7 L283.9,104.7 L284.2,104.7 L284.5,104.7 L284.8,104.7 L285.2,104.7 L285.5,104.7 L285.8,104.7 L286.2,104.7 L286.5,104.7 L286.8,104.7 L287.2,104.7 L287.5,104.7 L287.8,104.7 L288.1,104.7 L288.5,104.7 L288.8,104.7 L289.1,104.7 L289.5,104.7 L289.8,104.7 L290.1,104.7 L290.5,104.7 L290.8,104.7 L291.1,104.7 L291.4,104.7 L291.8,104.7 L292.1,104.7 L292.4,104.7 L292.8,104.7 L293.1,104.7 L293.4,104.7 L293.8,104.7 L294.1,104.7 L294.4,104.7 L294.7,104.7 L295.1,104.7 L295.4,104.7 L295.7,104.7 L296.1,104.7 L296.4,104.7 L296.7,104.7 L297.1,104.7 L297.4,104.7 L297.7,104.7 L298.0,104.7 L298.4,104.7 L298.7,104.7 L299.0,104.7 L299.4,104.7 L299.7,104.7 L300.0,104.7 L300.4,104.7 L300.7,104.7 L301.0,104.7 L301.3,104.7 L301.7,104.7 L302.0,104.7 L302.3,104.7 L302.7,104.7 L303.0,104.7 L303.3,104.7 L303.7,104.7 L304.0,104.7 L304.3,104.7 L304.6,104.7 L305.0,104.7 L305.3,104.7 L305.6,104.7 L306.0,104.7 L306.3,104.7 L306.6,104.7 L307.0,104.7 L307.3,104.7 L307.6,104.7 L307.9,104.7 L308.3,104.7 L308.6,104.7 L308.9,104.7 L309.3,104.7 L309.6,104.7 L309.9,104.7 L310.3,104.7 L310.6,104.7 L310.9,104.7 L311.2,104.7 L311.6,104.7 L311.9,104.7 L312.2,104.7 L312.6,104.7 L312.9,104.7 L313.2,104.7 L313.6,104.7 L313.9,104.7 L314.2,104.7 L314.5,104.7 L314.9,104.7 L315.2,104.7 L315.5,104.7 L315.9,104.7 L316.2,104.7 L316.5,104.7 L316.8,104.7 L317.2,104.7 L317.5,104.7 L317.8,104.7 L318.2,104.7 L318.5,104.7 L318.8,104.7 L319.2,104.7 L319.5,104.7 L319.8,104.7 L320.1,104.7 L320.5,104.7 L320.8,104.7 L321.1,104.7 L321.5,104.7 L321.8,104.7 L322.1,104.7 L322.5,104.7 L322.8,104.7 L323.1,104.7 L323.4,104.7 L323.8,104.7 L324.1,104.7 L324.4,104.7 L324.8,104.7 L325.1,104.7 L325.4,104.7 L325.8,104.7 L326.1,104.7 L326.4,104.7 L326.7,104.7 L327.1,104.7 L327.4,104.7 L327.7,104.7 L328.1,104.7 L328.4,104.7 L328.7,104.7 L329.1,104.7 L329.4,104.7 L329.7,104.7 L330.0,104.7 L330.4,104.7 L330.7,104.7 L331.0,104.7 L331.4,104.7 L331.7,104.7 L332.0,104.7 L332.4,104.7 L332.7,104.7 L333.0,104.7 L333.3,104.7 L333.7,104.7 L334.0,104.7 L334.3,104.7 L334.7,104.7 L335.0,104.7 L335.3,104.7 L335.7,104.7 L336.0,104.7 L336.3,104.7 L336.6,104.7 L337.0,104.7 L337.3,104.7 L337.6,104.7 L338.0,104.7 L338.3,104.7 L338.6,104.7 L339.0,104.7 L339.3,104.7 L339.6,104.7 L339.9,104.7 L340.3,104.7 L340.6,104.7 L340.9,104.7 L341.3,104.7 L341.6,104.7 L341.9,104.7 L342.3,104.7 L342.6,104.7 L342.9,104.7 L343.2,104.7 L343.6,104.7 L343.9,104.7 L344.2,104.7 L344.6,104.7 L344.9,104.7 L345.2,104.7 L345.6,104.7 L345.9,104.7 L346.2,104.7 L346.5,104.7 L346.9,104.7 L347.2,104.7 L347.5,104.7 L347.9,104.7 L348.2,104.7 L348.5,104.7 L348.9,104.7 L349.2,104.7 L349.5,104.7 L349.8,104.7 L350.2,104.7 L350.5,104.7 L350.8,104.7 L351.2,104.7 L351.5,104.7 L351.8,104.7 L352.2,104.7 L352.5,104.7 L352.8,104.7 L353.1,104.7 L353.5,104.7 L353.8,104.7 L354.1,104.7 L354.5,104.7 L354.8,104.7 L355.1,104.7 L355.5,104.7 L355.8,104.7 L356.1,104.7 L356.4,104.7 L356.8,104.7 L357.1,104.7 L357.4,104.7 L357.8,104.7 L358.1,104.7 L358.4,104.7 L358.8,104.7 L359.1,104.7 L359.4,104.7 L359.7,104.7 L360.1,104.7 L360.4,104.7 L360.7,104.7 L361.1,104.7 L361.4,104.7 L361.7,104.7 L362.1,104.7 L362.4,104.7 L362.7,104.7 L363.0,104.7 L363.4,104.7 L363.7,104.7 L364.0,104.7 L364.4,104.7 L364.7,104.7 L365.0,104.7 L365.4,104.7 L365.7,104.7 L366.0,104.7 L366.3,104.7 L366.7,104.7 L367.0,104.7 L367.3,104.7 L367.7,104.7 L368.0,104.7 L368.3,104.7 L368.7,104.7 L369.0,104.7 L369.3,104.7 L369.6,104.7 L370.0,104.7 L370.3,104.7 L370.6,104.7 L371.0,104.7 L371.3,104.7 L371.6,104.7 L372.0,104.7 L372.3,104.7 L372.6,104.7 L372.9,104.7 L373.3,104.7 L373.6,104.7 L373.9,104.7 L374.3,104.7 L374.6,104.7 L374.9,104.7 L375.3,104.7 L375.6,104.7 L375.9,104.7 L376.2,104.7 L376.6,104.7 L376.9,104.7 L377.2,104.7 L377.6,104.7 L377.9,104.7 L378.2,104.7 L378.6,104.7 L378.9,104.7 L379.2,104.7 L379.5,104.7 L379.9,104.7 L380.2,104.7 L380.5,104.7 L380.9,104.7 L381.2,104.7 L381.5,104.7 L381.9,104.7 L382.2,104.7 L382.5,104.7 L382.8,104.7 L383.2,104.7 L383.5,104.7 L383.8,104.7 L384.2,104.7 L384.5,104.7 L384.8,104.7 L385.2,104.7 L385.5,104.7 L385.8,104.7 L386.1,104.7 L386.5,104.7 L386.8,104.7 L387.1,104.7 L387.5,104.7 L387.8,104.7 L388.1,104.7 L388.5,104.7 L388.8,104.7 L389.1,104.7 L389.4,104.7 L389.8,104.7 L390.1,104.7 L390.4,104.7 L390.8,104.7 L391.1,104.7 L391.4,104.7 L391.8,104.7 L392.1,104.7 L392.4,104.7 L392.7,104.7 L393.1,104.7 L393.4,104.7 L393.7,104.7 L394.1,104.7 L394.4,104.7 L394.7,104.7 L395.1,104.7 L395.4,104.7 L395.7,104.7 L396.0,104.7 L396.4,104.7 L396.7,104.7 L397.0,104.7 L397.4,104.7 L397.7,104.7 L398.0,104.7 L398.4,104.7 L398.7,104.7 L399.0,104.7 L399.3,104.7 L399.7,104.7 L400.0,104.7 L400.3,104.7 L400.7,104.7 L401.0,104.7 L401.3,104.7 L401.7,104.7 L402.0,104.7 L402.3,104.7 L402.6,104.7 L403.0,104.7 L403.3,104.7 L403.6,104.7 L404.0,104.7 L404.3,104.7 L404.6,104.7 L405.0,104.7 L405.3,104.7 L405.6,104.7 L405.9,104.7 L406.3,104.7 L406.6,104.7 L406.9,104.7 L407.3,104.7 L407.6,104.7 L407.9,104.7 L408.3,104.7 L408.6,104.7 L408.9,104.7 L409.2,104.7 L409.6,104.7 L409.9,104.7 L410.2,104.7 L410.6,104.7 L410.9,104.7 L411.2,104.7 L411.6,104.7 L411.9,104.7 L412.2,104.7 L412.5,104.7 L412.9,104.7 L413.2,104.7 L413.5,104.7 L413.9,104.7 L414.2,104.7 L414.5,104.7 L414.9,104.7 L415.2,104.7 L415.5,104.7 L415.8,104.7 L416.2,104.7 L416.5,104.7 L416.8,104.7 L417.2,104.7 L417.5,104.7 L417.8,104.7 L418.2,104.7 L418.5,104.7 L418.8,104.7 L419.1,104.7 L419.5,104.7 L419.8,104.7 L420.1,104.7 L420.5,104.7 L420.8,104.7 L421.1,104.7 L421.5,104.7 L421.8,104.7 L422.1,104.7 L422.4,104.7 L422.8,104.7 L423.1,104.7 L423.4,104.7 L423.8,104.7 L424.1,104.7 L424.4,104.7 L424.8,104.7 L425.1,104.7 L425.4,104.7 L425.7,104.7 L426.1,104.7 L426.4,104.7 L426.7,104.7 L427.1,104.7 L427.4,104.7 L427.7,104.7 L428.1,104.7 L428.4,104.7 L428.7,104.7 L429.0,104.7 L429.4,104.7 L429.7,104.7 L430.0,104.7 L430.4,104.7 L430.7,104.7 L431.0,104.7 L431.4,104.7 L431.7,104.7 L432.0,104.7 L432.3,104.7 L432.7,104.7 L433.0,104.7 L433.3,104.7 L433.7,104.7 L434.0,104.7 L434.3,104.7 L434.7,104.7 L435.0,104.7 L435.3,104.7 L435.6,104.7 L436.0,104.7 L436.3,104.7 L436.6,104.7 L437.0,104.7 L437.3,104.7 L437.6,104.7 L438.0,104.7 L438.3,104.7 L438.6,104.7 L438.9,104.7 L439.3,104.7 L439.6,104.7 L439.9,104.7 L440.3,104.7 L440.6,104.7 L440.9,104.7 L441.3,104.7 L441.6,104.7 L441.9,104.7 L442.2,104.7 L442.6,104.7 L442.9,104.7 L443.2,104.7 L443.6,104.7 L443.9,104.7 L444.2,104.7 L444.6,104.7 L444.9,104.7 L445.2,104.7 L445.5,104.7 L445.9,104.7 L446.2,104.7 L446.5,104.7 L446.9,104.7 L447.2,104.7 L447.5,104.7 L447.9,104.7 L448.2,104.7 L448.5,104.7 L448.8,104.7 L449.2,104.7 L449.5,104.7 L449.8,104.7 L450.2,104.7 L450.5,104.7 L450.8,104.7 L451.2,104.7 L451.5,104.7 L451.8,104.7 L452.1,104.7 L452.5,104.7 L452.8,104.7 L453.1,104.7 L453.5,104.7 L453.8,104.7 L454.1,104.7 L454.5,104.7 L454.8,104.7 L455.1,104.7 L455.4,104.7 L455.8,104.7 L456.1,104.7 L456.4,104.7 L456.8,104.7 L457.1,104.7 L457.4,104.7 L457.8,104.7 L458.1,104.7 L458.4,104.7 L458.7,104.7 L459.1,104.7 L459.4,104.7 L459.7,104.7 L460.1,104.7 L460.4,104.7 L460.7,104.7 L461.1,104.7 L461.4,104.7 L461.7,104.7 L462.0,104.7 L462.4,104.7 L462.7,104.7 L463.0,104.7 L463.4,104.7 L463.7,104.7 L464.0,104.7 L464.4,104.7 L464.7,104.7 L465.0,104.7 L465.3,104.7 L465.7,104.7 L466.0,104.7 L466.3,104.7 L466.7,104.7 L467.0,104.7 L467.3,104.7 L467.7,104.7 L468.0,104.7 L468.3,104.7 L468.6,104.7 L469.0,104.7 L469.3,104.7 L469.6,104.7 L470.0,104.7 L470.3,104.7 L470.6,104.7 L471.0,104.7 L471.3,104.7 L471.6,104.7 L471.9,104.7 L472.3,104.7 L472.6,104.7 L472.9,104.7 L473.3,104.7 L473.6,104.7 L473.9,104.7 L474.3,104.7 L474.6,104.7 L474.9,104.7 L475.2,104.7 L475.6,104.7 L475.9,104.7 L476.2,104.7 L476.6,104.7 L476.9,104.7 L477.2,104.7 L477.6,104.7 L477.9,104.7 L478.2,104.7 L478.5,104.7 L478.9,104.7 L479.2,104.7 L479.5,104.7 L479.9,104.7 L480.2,104.7 L480.5,104.7 L480.9,104.7 L481.2,104.7 L481.5,104.7 L481.8,104.7 L482.2,104.7 L482.5,104.7 L482.8,104.7 L483.2,104.7 L483.5,104.7 L483.8,104.7 L484.2,104.7 L484.5,104.7 L484.8,104.7 L485.1,104.7 L485.5,104.7 L485.8,104.7 L486.1,104.7 L486.5,104.7 L486.8,104.7 L487.1,104.7 L487.5,104.7 L487.8,104.7 L488.1,104.7 L488.4,104.7 L488.8,104.7 L489.1,104.7 L489.4,104.7 L489.8,104.7 L490.1,104.7 L490.4,104.7 L490.8,104.7 L491.1,104.7 L491.4,104.7 L491.7,104.7 L492.1,104.7 L492.4,104.7 L492.7,104.7 L493.1,104.7 L493.4,104.7 L493.7,104.7 L494.1,104.7 L494.4,104.7 L494.7,104.7 L494.9,104.7 Z" fill="#C77CFF" stroke="none" stroke-width="1" />
<text x="180.50" y="91.50" font-size="1.8" fill="#999" >0 - 10</text>
<line x1="179.40" y1="119.75" x2="495.40" y2="119.75" stroke="#C77CFF" stroke-width="0.85" />
<path d="M179.9,120.0 L179.9,119.3 L180.2,119.9 L180.6,119.4 L180.9,119.2 L181.2,119.9 L181.6,119.5 L181.9,119.9 L182.2,119.9 L182.5,119.9 L182.9,119.5 L183.2,119.9 L183.5,119.6 L183.9,119.9 L184.2,119.9 L184.5,119.8 L184.9,119.8 L185.2,119.8 L185.5,119.3 L185.8,119.3 L186.2,119.9 L186.5,119.2 L186.8,119.7 L187.2,119.2 L187.5,119.4 L187.8,119.7 L188.2,119.9 L188.5,119.3 L188.8,119.2 L189.1,119.6 L189.5,119.9 L189.8,119.4 L190.1,119.5 L190.5,119.3 L190.8,119.2 L191.1,119.2 L191.5,119.5 L191.8,119.8 L192.1,119.7 L192.4,119.7 L192.8,119.5 L193.1,119.6 L193.4,119.4 L193.8,119.7 L194.1,119.7 L194.4,119.2 L194.8,119.4 L195.1,119.3 L195.4,119.6 L195.7,119.9 L196.1,119.8 L196.4,119.9 L196.7,119.9 L197.1,119.9 L197.4,119.9 L197.7,119.8 L198.1,119.5 L198.4,119.3 L198.7,119.2 L199.0,119.7 L199.4,119.9 L199.7,119.9 L200.0,119.9 L200.4,119.3 L200.7,119.9 L201.0,119.5 L201.4,119.8 L201.7,119.7 L202.0,119.4 L202.3,119.6 L202.7,119.9 L203.0,119.6 L203.3,119.8 L203.7,119.2 L204.0,119.9 L204.3,119.9 L204.7,119.3 L205.0,118.2 L205.3,116.0 L205.6,114.1 L206.0,112.0 L206.3,110.1 L206.6,112.1 L207.0,114.1 L207.3,116.0 L207.6,118.2 L208.0,119.9 L208.3,119.4 L208.6,119.8 L208.9,119.6 L209.3,119.4 L209.6,119.7 L209.9,119.0 L210.3,116.5 L210.6,114.0 L210.9,111.5 L211.3,108.9 L211.6,110.8 L211.9,113.4 L212.2,115.7 L212.6,118.2 L212.9,119.9 L213.2,119.9 L213.6,119.9 L213.9,119.9 L214.2,119.5 L214.6,119.4 L214.9,119.3 L215.2,119.9 L215.5,119.6 L215.9,119.7 L216.2,119.9 L216.5,119.2 L216.9,119.6 L217.2,119.9 L217.5,119.4 L217.9,119.8 L218.2,119.8 L218.5,119.8 L218.8,119.8 L219.2,119.9 L219.5,119.4 L219.8,119.9 L220.2,119.8 L220.5,119.9 L220.8,119.7 L221.2,119.9 L221.5,119.9 L221.8,119.9 L222.1,119.3 L222.5,119.6 L222.8,119.5 L223.1,119.9 L223.5,119.8 L223.8,119.5 L224.1,119.5 L224.5,119.8 L224.8,119.9 L225.1,119.8 L225.4,119.2 L225.8,119.3 L226.1,119.6 L226.4,119.9 L226.8,119.7 L227.1,119.7 L227.4,119.8 L227.8,119.4 L228.1,119.7 L228.4,119.9 L228.7,119.5 L229.1,119.6 L229.4,119.9 L229.7,119.7 L230.1,119.2 L230.4,119.6 L230.7,119.6 L231.1,119.8 L231.4,119.8 L231.7,119.2 L232.0,119.9 L232.4,119.8 L232.7,119.9 L233.0,119.7 L233.4,119.6 L233.7,119.6 L234.0,119.2 L234.4,119.9 L234.7,119.9 L235.0,119.8 L235.3,119.9 L235.7,119.3 L236.0,119.9 L236.3,119.8 L236.7,119.2 L237.0,119.8 L237.3,119.8 L237.7,119.8 L238.0,119.9 L238.3,119.9 L238.6,119.4 L239.0,119.9 L239.3,119.9 L239.6,119.4 L240.0,119.5 L240.3,119.8 L240.6,119.8 L241.0,119.8 L241.3,119.9 L241.6,119.8 L241.9,119.8 L242.3,119.7 L242.6,119.9 L242.9,119.7 L243.3,119.7 L243.6,118.6 L243.9,117.6 L244.3,116.8 L244.6,116.0 L244.9,114.7 L245.2,116.1 L245.6,117.7 L245.9,119.1 L246.2,119.9 L246.6,119.9 L246.9,119.7 L247.2,118.9 L247.6,118.1 L247.9,118.7 L248.2,119.5 L248.5,119.9 L248.9,119.7 L249.2,119.7 L249.5,119.7 L249.9,119.8 L250.2,119.3 L250.5,119.8 L250.9,119.8 L251.2,119.8 L251.5,119.4 L251.8,119.7 L252.2,119.5 L252.5,119.4 L252.8,119.8 L253.2,119.5 L253.5,119.9 L253.8,119.8 L254.2,119.8 L254.5,119.8 L254.8,119.9 L255.1,119.4 L255.5,119.9 L255.8,119.8 L256.1,119.9 L256.5,119.4 L256.8,118.3 L257.1,117.0 L257.5,116.0 L257.8,117.3 L258.1,118.7 L258.4,119.9 L258.8,119.7 L259.1,119.7 L259.4,119.9 L259.8,119.9 L260.1,119.7 L260.4,119.9 L260.8,119.9 L261.1,119.6 L261.4,119.2 L261.7,119.7 L262.1,119.2 L262.4,119.8 L262.7,119.9 L263.1,119.9 L263.4,119.8 L263.7,119.3 L264.1,119.4 L264.4,119.2 L264.7,119.7 L265.0,119.5 L265.4,119.7 L265.7,119.9 L266.0,119.7 L266.4,119.9 L266.7,119.4 L267.0,119.4 L267.4,119.9 L267.7,119.9 L268.0,119.9 L268.3,119.9 L268.7,119.9 L269.0,119.2 L269.3,119.3 L269.7,119.8 L270.0,119.3 L270.3,119.9 L270.7,119.2 L271.0,119.7 L271.3,119.6 L271.6,119.9 L272.0,119.9 L272.3,119.7 L272.6,119.6 L273.0,119.6 L273.3,119.5 L273.6,119.3 L274.0,119.9 L274.3,119.6 L274.6,119.9 L274.9,119.4 L275.3,119.7 L275.6,119.9 L275.9,119.8 L276.3,119.4 L276.6,119.3 L276.9,119.3 L277.3,119.7 L277.6,119.6 L277.9,119.6 L278.2,119.8 L278.6,119.5 L278.9,119.9 L279.2,119.9 L279.6,119.6 L279.9,119.5 L280.2,119.2 L280.6,119.9 L280.9,119.2 L281.2,119.9 L281.5,119.8 L281.9,119.6 L282.2,119.2 L282.5,119.9 L282.9,119.8 L283.2,119.3 L283.5,119.4 L283.9,119.8 L284.2,119.9 L284.5,119.4 L284.8,119.9 L285.2,119.8 L285.5,119.9 L285.8,119.9 L286.2,119.8 L286.5,119.7 L286.8,119.5 L287.2,119.6 L287.5,119.9 L287.8,119.8 L288.1,119.9 L288.5,119.9 L288.8,119.9 L289.1,119.2 L289.5,119.4 L289.8,119.4 L290.1,119.5 L290.5,119.9 L290.8,119.5 L291.1,119.7 L291.4,119.5 L291.8,119.7 L292.1,119.6 L292.4,119.9 L292.8,119.4 L293.1,119.6 L293.4,119.7 L293.8,119.9 L294.1,119.6 L294.4,119.8 L294.7,119.9 L295.1,119.5 L295.4,119.6 L295.7,119.4 L296.1,119.2 L296.4,119.8 L296.7,119.7 L297.1,119.9 L297.4,119.6 L297.7,119.4 L298.0,119.8 L298.4,119.9 L298.7,119.5 L299.0,119.8 L299.4,119.9 L299.7,119.5 L300.0,119.8 L300.4,119.7 L300.7,119.7 L301.0,119.8 L301.3,119.6 L301.7,119.9 L302.0,119.9 L302.3,119.8 L302.7,119.4 L303.0,119.9 L303.3,119.9 L303.7,119.9 L304.0,119.9 L304.3,119.9 L304.6,119.8 L305.0,119.7 L305.3,119.2 L305.6,119.9 L306.0,119.9 L306.3,119.9 L306.6,119.8 L307.0,119.4 L307.3,119.9 L307.6,119.7 L307.9,119.8 L308.3,119.4 L308.6,119.7 L308.9,119.2 L309.3,119.4 L309.6,119.3 L309.9,119.5 L310.3,119.9 L310.6,119.9 L310.9,119.2 L311.2,119.9 L311.6,119.9 L311.9,119.6 L312.2,119.7 L312.6,119.9 L312.9,119.8 L313.2,119.8 L313.6,119.8 L313.9,119.8 L314.2,119.9 L314.5,119.6 L314.9,119.9 L315.2,119.4 L315.5,119.2 L315.9,119.9 L316.2,119.5 L316.5,119.5 L316.8,119.9 L317.2,119.7 L317.5,119.9 L317.8,119.4 L318.2,119.9 L318.5,119.6 L318.8,119.9 L319.2,119.4 L319.5,119.9 L319.8,119.2 L320.1,119.9 L320.5,119.8 L320.8,119.6 L321.1,119.8 L321.5,119.5 L321.8,119.9 L322.1,119.2 L322.5,119.7 L322.8,119.3 L323.1,119.9 L323.4,119.8 L323.8,119.7 L324.1,119.2 L324.4,119.2 L324.8,119.8 L325.1,119.8 L325.4,119.9 L325.8,119.9 L326.1,119.9 L326.4,119.5 L326.7,119.9 L327.1,119.4 L327.4,119.8 L327.7,119.9 L328.1,119.9 L328.4,119.9 L328.7,119.6 L329.1,119.9 L329.4,119.7 L329.7,119.8 L330.0,119.6 L330.4,119.9 L330.7,119.5 L331.0,119.9 L331.4,119.8 L331.7,119.2 L332.0,119.2 L332.4,119.7 L332.7,119.8 L333.0,119.7 L333.3,119.6 L333.7,119.2 L334.0,119.9 L334.3,119.9 L334.7,119.7 L335.0,119.9 L335.3,119.7 L335.7,119.8 L336.0,119.9 L336.3,119.9 L336.6,119.3 L337.0,119.7 L337.3,119.6 L337.6,119.7 L338.0,119.9 L338.3,119.9 L338.6,119.7 L339.0,119.9 L339.3,119.7 L339.6,119.3 L339.9,119.9 L340.3,119.4 L340.6,119.7 L340.9,119.2 L341.3,119.8 L341.6,119.8 L341.9,119.9 L342.3,119.5 L342.6,119.9 L342.9,119.9 L343.2,119.9 L343.6,119.2 L343.9,119.3 L344.2,119.6 L344.6,119.6 L344.9,119.9 L345.2,119.6 L345.6,119.3 L345.9,119.8 L346.2,119.9 L346.5,119.9 L346.9,119.8 L347.2,119.9 L347.5,119.9 L347.9,119.7 L348.2,119.3 L348.5,119.6 L348.9,119.9 L349.2,119.8 L349.5,119.9 L349.8,119.3 L350.2,119.9 L350.5,119.7 L350.8,119.5 L351.2,119.6 L351.5,119.9 L351.8,119.5 L352.2,119.8 L352.5,119.4 L352.8,119.9 L353.1,119.8 L353.5,119.2 L353.8,119.9 L354.1,119.3 L354.5,119.7 L354.8,119.8 L355.1,119.9 L355.5,119.8 L355.8,119.9 L356.1,119.9 L356.4,119.9 L356.8,119.9 L357.1,119.7 L357.4,119.8 L357.8,119.4 L358.1,119.9 L358.4,119.9 L358.8,119.5 L359.1,119.7 L359.4,119.9 L359.7,119.7 L360.1,119.9 L360.4,119.3 L360.7,119.6 L361.1,119.6 L361.4,119.9 L361.7,119.4 L362.1,119.5 L362.4,119.6 L362.7,119.8 L363.0,119.5 L363.4,119.8 L363.7,119.9 L364.0,119.8 L364.4,119.9 L364.7,119.6 L365.0,119.9 L365.4,119.5 L365.7,119.9 L366.0,119.7 L366.3,119.9 L366.7,119.2 L367.0,119.7 L367.3,119.9 L367.7,119.9 L368.0,119.9 L368.3,119.6 L368.7,119.9 L369.0,119.2 L369.3,119.5 L369.6,119.9 L370.0,119.9 L370.3,119.9 L370.6,119.8 L371.0,119.9 L371.3,119.8 L371.6,119.8 L372.0,119.3 L372.3,119.3 L372.6,116.9 L372.9,114.7 L373.3,112.2 L373.6,114.5 L373.9,116.6 L374.3,119.0 L374.6,119.4 L374.9,119.8 L375.3,119.8 L375.6,119.7 L375.9,119.9 L376.2,119.8 L376.6,119.3 L376.9,119.8 L377.2,119.9 L377.6,119.4 L377.9,119.4 L378.2,119.7 L378.6,119.6 L378.9,119.9 L379.2,119.7 L379.5,119.5 L379.9,119.9 L380.2,119.8 L380.5,119.9 L380.9,119.9 L381.2,119.7 L381.5,119.9 L381.9,119.9 L382.2,119.8 L382.5,119.8 L382.8,119.7 L383.2,119.9 L383.5,119.9 L383.8,119.4 L384.2,119.8 L384.5,119.9 L384.8,119.2 L385.2,119.5 L385.5,119.6 L385.8,119.5 L386.1,119.5 L386.5,119.6 L386.8,119.9 L387.1,119.5 L387.5,118.9 L387.8,118.2 L388.1,118.4 L388.5,119.1 L388.8,119.7 L389.1,119.9 L389.4,119.4 L389.8,119.7 L390.1,119.7 L390.4,119.9 L390.8,119.9 L391.1,119.8 L391.4,119.5 L391.8,119.8 L392.1,119.8 L392.4,119.7 L392.7,119.9 L393.1,119.9 L393.4,119.8 L393.7,119.7 L394.1,119.7 L394.4,119.9 L394.7,119.8 L395.1,119.3 L395.4,119.9 L395.7,119.3 L396.0,119.7 L396.4,119.2 L396.7,119.9 L397.0,119.8 L397.4,119.9 L397.7,119.7 L398.0,119.4 L398.4,119.9 L398.7,119.7 L399.0,119.3 L399.3,119.6 L399.7,119.8 L400.0,119.9 L400.3,119.3 L400.7,119.2 L401.0,119.9 L401.3,119.9 L401.7,119.3 L402.0,119.9 L402.3,119.9 L402.6,119.7 L403.0,119.4 L403.3,119.9 L403.6,119.7 L404.0,119.9 L404.3,119.5 L404.6,119.9 L405.0,119.7 L405.3,119.8 L405.6,119.7 L405.9,119.3 L406.3,119.9 L406.6,119.4 L406.9,119.9 L407.3,119.6 L407.6,119.9 L407.9,119.9 L408.3,119.9 L408.6,119.7 L408.9,119.9 L409.2,119.6 L409.6,119.5 L409.9,119.5 L410.2,119.9 L410.6,119.6 L410.9,119.5 L411.2,119.5 L411.6,119.9 L411.9,119.7 L412.2,119.9 L412.5,119.3 L412.9,119.3 L413.2,119.9 L413.5,119.9 L413.9,119.9 L414.2,119.4 L414.5,119.6 L414.9,119.2 L415.2,119.9 L415.5,119.9 L415.8,119.9 L416.2,119.7 L416.5,119.8 L416.8,119.7 L417.2,119.3 L417.5,119.7 L417.8,119.9 L418.2,119.9 L418.5,119.9 L418.8,119.9 L419.1,119.9 L419.5,119.9 L419.8,119.8 L420.1,119.9 L420.5,119.8 L420.8,119.4 L421.1,119.6 L421.5,119.9 L421.8,119.9 L422.1,119.2 L422.4,119.9 L422.8,119.3 L423.1,119.8 L423.4,119.8 L423.8,119.9 L424.1,119.7 L424.4,119.9 L424.8,119.9 L425.1,119.9 L425.4,119.9 L425.7,119.9 L426.1,119.4 L426.4,119.3 L426.7,119.9 L427.1,119.8 L427.4,119.5 L427.7,119.9 L428.1,119.4 L428.4,119.3 L428.7,119.9 L429.0,119.8 L429.4,119.9 L429.7,119.9 L430.0,119.9 L430.4,119.7 L430.7,119.8 L431.0,119.8 L431.4,119.2 L431.7,119.7 L432.0,119.2 L432.3,119.3 L432.7,119.8 L433.0,119.9 L433.3,119.8 L433.7,119.9 L434.0,119.3 L434.3,119.2 L434.7,119.5 L435.0,118.8 L435.3,116.8 L435.6,114.8 L436.0,112.7 L436.3,114.7 L436.6,112.3 L437.0,108.5 L437.3,111.4 L437.6,108.9 L438.0,109.2 L438.3,111.1 L438.6,107.6 L438.9,111.7 L439.3,114.1 L439.6,111.6 L439.9,114.4 L440.3,117.2 L440.6,119.4 L440.9,119.9 L441.3,119.9 L441.6,119.9 L441.9,119.9 L442.2,119.3 L442.6,119.9 L442.9,119.9 L443.2,119.7 L443.6,119.4 L443.9,119.9 L444.2,119.9 L444.6,119.6 L444.9,119.5 L445.2,119.9 L445.5,119.7 L445.9,119.7 L446.2,119.6 L446.5,119.6 L446.9,119.9 L447.2,119.3 L447.5,118.2 L447.9,117.5 L448.2,118.6 L448.5,119.5 L448.8,119.5 L449.2,119.9 L449.5,119.9 L449.8,119.8 L450.2,119.9 L450.5,119.9 L450.8,119.7 L451.2,119.5 L451.5,119.6 L451.8,119.5 L452.1,119.3 L452.5,119.5 L452.8,119.2 L453.1,119.9 L453.5,119.8 L453.8,119.9 L454.1,119.2 L454.5,119.4 L454.8,119.9 L455.1,119.8 L455.4,119.3 L455.8,119.4 L456.1,119.5 L456.4,119.8 L456.8,119.5 L457.1,119.9 L457.4,119.5 L457.8,119.9 L458.1,119.9 L458.4,119.6 L458.7,119.9 L459.1,119.3 L459.4,119.8 L459.7,119.9 L460.1,119.8 L460.4,119.6 L460.7,119.7 L461.1,119.7 L461.4,119.7 L461.7,119.2 L462.0,119.3 L462.4,119.9 L462.7,119.3 L463.0,119.9 L463.4,119.9 L463.7,119.9 L464.0,119.8 L464.4,119.8 L464.7,119.9 L465.0,119.5 L465.3,119.9 L465.7,119.7 L466.0,119.8 L466.3,119.3 L466.7,119.6 L467.0,119.2 L467.3,119.9 L467.7,119.9 L468.0,119.4 L468.3,119.5 L468.6,119.2 L469.0,119.9 L469.3,119.3 L469.6,119.9 L470.0,119.9 L470.3,119.7 L470.6,119.9 L471.0,119.6 L471.3,119.8 L471.6,119.8 L471.9,119.3 L472.3,119.6 L472.6,119.9 L472.9,119.7 L473.3,119.9 L473.6,119.8 L473.9,119.9 L474.3,119.9 L474.6,119.7 L474.9,119.8 L475.2,119.2 L475.6,119.9 L475.9,119.6 L476.2,119.7 L476.6,119.9 L476.9,119.9 L477.2,119.4 L477.6,119.4 L477.9,119.9 L478.2,119.7 L478.5,119.9 L478.9,119.8 L479.2,119.6 L479.5,119.7 L479.9,119.4 L480.2,119.8 L480.5,119.4 L480.9,119.8 L481.2,119.9 L481.5,119.4 L481.8,119.9 L482.2,119.9 L482.5,119.5 L482.8,119.2 L483.2,119.9 L483.5,119.9 L483.8,119.9 L484.2,119.9 L484.5,119.5 L484.8,119.5 L485.1,119.4 L485.5,119.9 L485.8,119.7 L486.1,119.9 L486.5,119.9 L486.8,119.9 L487.1,119.4 L487.5,119.2 L487.8,119.9 L488.1,119.7 L488.4,119.7 L488.8,119.9 L489.1,119.9 L489.4,119.2 L489.8,119.8 L490.1,119.4 L490.4,119.4 L490.8,118.2 L491.1,116.8 L491.4,116.5 L491.7,117.8 L492.1,119.1 L492.4,119.7 L492.7,119.4 L493.1,119.9 L493.4,119.7 L493.7,119.8 L494.1,119.8 L494.4,119.7 L494.7,119.8 L494.9,120.0 Z" fill="#C77CFF" stroke="none" stroke-width="1" />
<text x="180.50" y="106.75" font-size="1.8" fill="#999" >0 - 10</text>
<line x1="179.40" y1="135.20" x2="495.40" y2="135.20" stroke="#d8e8b0" stroke-width="0.9" />
<path d="M179.9,135.2 L179.9,135.2 L180.2,135.2 L180.6,135.2 L180.9,135.2 L181.2,135.2 L181.6,135.2 L181.9,135.2 L182.2,135.2 L182.5,135.2 L182.9,135.2 L183.2,135.2 L183.5,135.2 L183.9,135.2 L184.2,135.2 L184.5,135.2 L184.9,135.2 L185.2,135.2 L185.5,135.2 L185.8,135.2 L186.2,135.2 L186.5,135.2 L186.8,135.2 L187.2,135.2 L187.5,135.2 L187.8,135.2 L188.2,135.2 L188.5,135.2 L188.8,135.2 L189.1,135.2 L189.5,135.2 L189.8,135.2 L190.1,135.2 L190.5,135.2 L190.8,135.2 L191.1,135.2 L191.5,135.2 L191.8,135.2 L192.1,135.2 L192.4,135.2 L192.8,135.2 L193.1,135.2 L193.4,135.2 L193.8,135.2 L194.1,135.2 L194.4,135.2 L194.8,135.2 L195.1,135.2 L195.4,135.2 L195.7,135.2 L196.1,135.2 L196.4,135.2 L196.7,135.2 L197.1,135.2 L197.4,135.2 L197.7,135.2 L198.1,135.2 L198.4,135.2 L198.7,135.2 L199.0,135.2 L199.4,135.2 L199.7,135.2 L200.0,135.2 L200.4,135.2 L200.7,135.2 L201.0,135.2 L201.4,135.2 L201.7,135.2 L202.0,135.2 L202.3,135.2 L202.7,135.2 L203.0,135.2 L203.3,135.2 L203.7,135.2 L204.0,135.2 L204.3,135.2 L204.7,135.2 L205.0,135.2 L205.3,135.2 L205.6,135.2 L206.0,135.2 L206.3,135.2 L206.6,135.2 L207.0,135.2 L207.3,135.2 L207.6,135.2 L208.0,135.2 L208.3,135.2 L208.6,135.2 L208.9,135.2 L209.3,135.2 L209.6,135.2 L209.9,135.2 L210.3,135.2 L210.6,135.2 L210.9,135.2 L211.3,135.1 L211.6,134.6 L211.9,134.4 L212.2,134.9 L212.6,135.2 L212.9,135.2 L213.2,135.2 L213.6,135.2 L213.9,135.2 L214.2,135.2 L214.6,135.2 L214.9,135.2 L215.2,135.2 L215.5,135.2 L215.9,135.2 L216.2,133.5 L216.5,130.8 L216.9,127.8 L217.2,128.2 L217.5,131.2 L217.9,133.9 L218.2,135.2 L218.5,135.2 L218.8,135.2 L219.2,135.2 L219.5,135.2 L219.8,135.2 L220.2,135.2 L220.5,135.2 L220.8,135.2 L221.2,135.2 L221.5,135.2 L221.8,135.2 L222.1,135.2 L222.5,135.2 L222.8,135.2 L223.1,135.2 L223.5,135.2 L223.8,135.2 L224.1,135.2 L224.5,135.2 L224.8,135.2 L225.1,135.2 L225.4,135.2 L225.8,135.2 L226.1,135.2 L226.4,135.2 L226.8,135.2 L227.1,135.2 L227.4,135.2 L227.8,135.2 L228.1,135.2 L228.4,135.2 L228.7,135.2 L229.1,135.2 L229.4,135.2 L229.7,135.2 L230.1,135.2 L230.4,135.2 L230.7,135.2 L231.1,135.2 L231.4,135.2 L231.7,135.2 L232.0,135.2 L232.4,135.2 L232.7,135.2 L233.0,135.2 L233.4,135.2 L233.7,135.2 L234.0,135.2 L234.4,135.2 L234.7,135.2 L235.0,135.2 L235.3,135.2 L235.7,135.2 L236.0,135.2 L236.3,135.2 L236.7,135.2 L237.0,135.2 L237.3,135.2 L237.7,135.2 L238.0,132.4 L238.3,127.1 L238.6,129.4 L239.0,134.7 L239.3,135.2 L239.6,135.2 L240.0,135.2 L240.3,135.2 L240.6,135.2 L241.0,135.2 L241.3,135.2 L241.6,135.2 L241.9,135.2 L242.3,135.2 L242.6,135.2 L242.9,135.2 L243.3,135.2 L243.6,135.2 L243.9,135.2 L244.3,135.2 L244.6,135.2 L244.9,135.2 L245.2,135.2 L245.6,135.2 L245.9,135.2 L246.2,135.2 L246.6,135.2 L246.9,135.2 L247.2,135.2 L247.6,135.2 L247.9,135.2 L248.2,135.2 L248.5,135.2 L248.9,135.2 L249.2,132.9 L249.5,129.3 L249.9,129.1 L250.2,132.9 L250.5,135.2 L250.9,135.2 L251.2,135.2 L251.5,135.2 L251.8,135.2 L252.2,135.2 L252.5,135.2 L252.8,135.2 L253.2,135.2 L253.5,135.2 L253.8,135.2 L254.2,135.2 L254.5,135.2 L254.8,135.2 L255.1,135.2 L255.5,135.2 L255.8,135.2 L256.1,135.2 L256.5,135.2 L256.8,135.2 L257.1,135.2 L257.5,135.2 L257.8,135.2 L258.1,135.2 L258.4,135.2 L258.8,135.2 L259.1,135.2 L259.4,135.2 L259.8,135.2 L260.1,135.2 L260.4,135.2 L260.8,135.2 L261.1,135.2 L261.4,135.2 L261.7,135.2 L262.1,135.2 L262.4,135.2 L262.7,135.2 L263.1,135.2 L263.4,135.2 L263.7,135.2 L264.1,135.2 L264.4,135.2 L264.7,135.2 L265.0,125.4 L265.4,125.0 L265.7,125.7 L266.0,125.3 L266.4,124.5 L266.7,125.6 L267.0,127.4 L267.4,127.9 L267.7,127.0 L268.0,131.3 L268.3,131.3 L268.7,130.9 L269.0,127.0 L269.3,126.8 L269.7,126.7 L270.0,126.9 L270.3,127.0 L270.7,127.3 L271.0,127.4 L271.3,130.4 L271.6,123.9 L272.0,123.8 L272.3,122.7 L272.6,124.0 L273.0,124.2 L273.3,123.9 L273.6,124.2 L274.0,127.9 L274.3,127.8 L274.6,128.0 L274.9,127.8 L275.3,130.1 L275.6,130.2 L275.9,130.2 L276.3,130.0 L276.6,130.3 L276.9,131.5 L277.3,131.6 L277.6,131.4 L277.9,131.3 L278.2,131.4 L278.6,131.7 L278.9,132.9 L279.2,132.8 L279.6,132.9 L279.9,133.1 L280.2,135.2 L280.6,135.2 L280.9,135.2 L281.2,135.2 L281.5,135.2 L281.9,135.2 L282.2,135.2 L282.5,135.2 L282.9,135.2 L283.2,135.2 L283.5,135.2 L283.9,135.2 L284.2,135.2 L284.5,135.2 L284.8,135.2 L285.2,135.2 L285.5,135.2 L285.8,135.2 L286.2,135.2 L286.5,135.2 L286.8,135.2 L287.2,135.2 L287.5,135.2 L287.8,135.2 L288.1,135.2 L288.5,135.2 L288.8,135.2 L289.1,135.2 L289.5,135.2 L289.8,135.2 L290.1,135.2 L290.5,135.2 L290.8,135.2 L291.1,135.2 L291.4,135.2 L291.8,135.2 L292.1,135.2 L292.4,135.2 L292.8,135.2 L293.1,135.2 L293.4,135.2 L293.8,135.2 L294.1,135.2 L294.4,135.2 L294.7,135.2 L295.1,135.2 L295.4,135.2 L295.7,135.2 L296.1,135.2 L296.4,135.2 L296.7,135.2 L297.1,135.2 L297.4,135.2 L297.7,135.2 L298.0,135.2 L298.4,135.2 L298.7,135.2 L299.0,135.2 L299.4,135.2 L299.7,135.2 L300.0,135.2 L300.4,135.2 L300.7,135.2 L301.0,135.2 L301.3,135.2 L301.7,135.2 L302.0,135.2 L302.3,135.2 L302.7,135.2 L303.0,135.2 L303.3,135.2 L303.7,135.2 L304.0,135.2 L304.3,135.2 L304.6,135.2 L305.0,135.2 L305.3,135.2 L305.6,135.2 L306.0,135.2 L306.3,135.2 L306.6,135.2 L307.0,135.2 L307.3,135.2 L307.6,135.2 L307.9,135.2 L308.3,135.2 L308.6,135.2 L308.9,135.2 L309.3,135.2 L309.6,135.2 L309.9,135.2 L310.3,135.2 L310.6,135.2 L310.9,135.2 L311.2,135.2 L311.6,135.2 L311.9,135.2 L312.2,135.2 L312.6,135.2 L312.9,135.2 L313.2,135.2 L313.6,135.2 L313.9,135.2 L314.2,135.2 L314.5,135.2 L314.9,135.2 L315.2,135.2 L315.5,135.2 L315.9,135.2 L316.2,135.2 L316.5,135.2 L316.8,135.2 L317.2,135.2 L317.5,135.2 L317.8,135.2 L318.2,135.2 L318.5,135.2 L318.8,135.2 L319.2,135.2 L319.5,135.2 L319.8,135.2 L320.1,135.2 L320.5,135.2 L320.8,135.2 L321.1,135.2 L321.5,135.2 L321.8,135.2 L322.1,135.2 L322.5,135.2 L322.8,135.2 L323.1,135.2 L323.4,135.2 L323.8,135.2 L324.1,135.2 L324.4,135.2 L324.8,135.2 L325.1,135.2 L325.4,135.2 L325.8,135.2 L326.1,135.2 L326.4,135.2 L326.7,135.2 L327.1,135.2 L327.4,135.2 L327.7,135.2 L328.1,135.2 L328.4,135.2 L328.7,135.2 L329.1,135.2 L329.4,135.2 L329.7,135.2 L330.0,135.2 L330.4,135.2 L330.7,135.2 L331.0,135.2 L331.4,135.2 L331.7,135.2 L332.0,135.2 L332.4,135.2 L332.7,135.2 L333.0,135.2 L333.3,135.2 L333.7,135.2 L334.0,135.2 L334.3,135.2 L334.7,135.2 L335.0,135.2 L335.3,135.2 L335.7,135.2 L336.0,135.2 L336.3,135.2 L336.6,135.2 L337.0,135.2 L337.3,135.2 L337.6,135.2 L338.0,135.2 L338.3,135.2 L338.6,135.2 L339.0,135.2 L339.3,135.2 L339.6,135.2 L339.9,135.2 L340.3,135.2 L340.6,135.2 L340.9,135.2 L341.3,135.2 L341.6,135.2 L341.9,135.2 L342.3,135.2 L342.6,135.2 L342.9,135.2 L343.2,135.2 L343.6,135.2 L343.9,135.2 L344.2,135.2 L344.6,135.2 L344.9,135.2 L345.2,135.2 L345.6,135.2 L345.9,135.2 L346.2,135.2 L346.5,135.2 L346.9,135.2 L347.2,135.2 L347.5,135.2 L347.9,135.2 L348.2,135.2 L348.5,135.2 L348.9,135.2 L349.2,135.2 L349.5,135.2 L349.8,135.2 L350.2,135.2 L350.5,135.2 L350.8,135.2 L351.2,135.2 L351.5,135.2 L351.8,135.2 L352.2,135.2 L352.5,135.2 L352.8,135.2 L353.1,135.2 L353.5,135.2 L353.8,135.2 L354.1,135.2 L354.5,135.2 L354.8,135.2 L355.1,135.2 L355.5,135.2 L355.8,135.2 L356.1,135.2 L356.4,135.2 L356.8,135.2 L357.1,135.2 L357.4,135.2 L357.8,135.2 L358.1,135.2 L358.4,135.2 L358.8,135.2 L359.1,135.2 L359.4,135.2 L359.7,135.2 L360.1,135.2 L360.4,135.2 L360.7,135.2 L361.1,135.2 L361.4,135.2 L361.7,135.2 L362.1,135.2 L362.4,135.2 L362.7,135.2 L363.0,135.2 L363.4,135.2 L363.7,135.2 L364.0,135.2 L364.4,135.2 L364.7,135.2 L365.0,135.2 L365.4,135.2 L365.7,135.2 L366.0,135.2 L366.3,135.2 L366.7,135.2 L367.0,135.2 L367.3,135.2 L367.7,135.2 L368.0,135.2 L368.3,135.2 L368.7,135.2 L369.0,135.2 L369.3,135.2 L369.6,135.2 L370.0,135.2 L370.3,135.2 L370.6,135.2 L371.0,135.2 L371.3,135.2 L371.6,135.2 L372.0,135.2 L372.3,135.2 L372.6,135.2 L372.9,135.2 L373.3,135.2 L373.6,135.2 L373.9,135.2 L374.3,135.2 L374.6,135.2 L374.9,135.2 L375.3,135.2 L375.6,135.2 L375.9,135.2 L376.2,135.2 L376.6,135.2 L376.9,135.2 L377.2,135.2 L377.6,135.2 L377.9,135.2 L378.2,135.2 L378.6,135.2 L378.9,135.2 L379.2,135.2 L379.5,135.2 L379.9,135.2 L380.2,135.2 L380.5,135.2 L380.9,135.2 L381.2,135.2 L381.5,135.2 L381.9,135.2 L382.2,135.2 L382.5,135.2 L382.8,135.2 L383.2,135.2 L383.5,135.2 L383.8,135.2 L384.2,135.2 L384.5,135.2 L384.8,135.2 L385.2,135.2 L385.5,135.2 L385.8,135.2 L386.1,135.2 L386.5,135.2 L386.8,135.2 L387.1,135.2 L387.5,135.2 L387.8,135.2 L388.1,135.2 L388.5,135.2 L388.8,135.2 L389.1,135.2 L389.4,135.2 L389.8,135.2 L390.1,135.2 L390.4,135.2 L390.8,135.2 L391.1,135.2 L391.4,135.2 L391.8,135.2 L392.1,135.2 L392.4,135.2 L392.7,135.2 L393.1,135.2 L393.4,135.2 L393.7,135.2 L394.1,135.2 L394.4,135.2 L394.7,135.2 L395.1,135.2 L395.4,135.2 L395.7,135.2 L396.0,135.2 L396.4,135.2 L396.7,135.2 L397.0,135.2 L397.4,135.2 L397.7,135.2 L398.0,135.2 L398.4,135.2 L398.7,135.2 L399.0,135.2 L399.3,135.2 L399.7,135.2 L400.0,135.2 L400.3,135.2 L400.7,135.2 L401.0,135.2 L401.3,135.2 L401.7,135.2 L402.0,135.2 L402.3,135.2 L402.6,135.2 L403.0,135.2 L403.3,135.2 L403.6,135.2 L404.0,135.2 L404.3,135.2 L404.6,135.2 L405.0,135.2 L405.3,135.2 L405.6,135.2 L405.9,135.2 L406.3,135.2 L406.6,135.2 L406.9,135.2 L407.3,135.2 L407.6,135.2 L407.9,135.2 L408.3,135.2 L408.6,135.2 L408.9,135.2 L409.2,135.2 L409.6,135.2 L409.9,135.2 L410.2,135.2 L410.6,135.2 L410.9,135.2 L411.2,135.2 L411.6,135.2 L411.9,135.2 L412.2,135.2 L412.5,135.2 L412.9,135.2 L413.2,135.2 L413.5,135.2 L413.9,135.2 L414.2,135.2 L414.5,135.2 L414.9,135.2 L415.2,135.2 L415.5,135.2 L415.8,135.2 L416.2,135.2 L416.5,135.2 L416.8,135.2 L417.2,135.2 L417.5,135.2 L417.8,135.2 L418.2,135.2 L418.5,135.2 L418.8,135.2 L419.1,135.2 L419.5,135.2 L419.8,135.2 L420.1,135.2 L420.5,135.2 L420.8,135.2 L421.1,135.2 L421.5,135.2 L421.8,135.2 L422.1,135.2 L422.4,135.2 L422.8,135.2 L423.1,135.2 L423.4,135.2 L423.8,135.2 L424.1,135.2 L424.4,135.2 L424.8,135.2 L425.1,135.2 L425.4,135.2 L425.7,135.2 L426.1,135.2 L426.4,135.2 L426.7,135.2 L427.1,135.2 L427.4,135.2 L427.7,135.2 L428.1,135.2 L428.4,135.2 L428.7,135.2 L429.0,135.2 L429.4,135.2 L429.7,135.2 L430.0,135.2 L430.4,135.2 L430.7,135.2 L431.0,135.2 L431.4,135.2 L431.7,135.2 L432.0,135.2 L432.3,135.2 L432.7,135.2 L433.0,135.2 L433.3,135.2 L433.7,135.2 L434.0,135.2 L434.3,135.2 L434.7,135.2 L435.0,135.2 L435.3,135.2 L435.6,135.2 L436.0,135.2 L436.3,135.2 L436.6,135.2 L437.0,135.2 L437.3,135.2 L437.6,135.2 L438.0,135.2 L438.3,135.2 L438.6,135.2 L438.9,135.2 L439.3,135.2 L439.6,135.2 L439.9,135.2 L440.3,135.2 L440.6,135.2 L440.9,135.2 L441.3,135.2 L441.6,135.2 L441.9,135.2 L442.2,135.2 L442.6,135.2 L442.9,135.2 L443.2,135.2 L443.6,135.2 L443.9,135.2 L444.2,135.2 L444.6,135.2 L444.9,135.2 L445.2,135.2 L445.5,135.2 L445.9,135.2 L446.2,135.2 L446.5,135.2 L446.9,135.2 L447.2,135.2 L447.5,135.2 L447.9,135.2 L448.2,135.2 L448.5,135.2 L448.8,135.2 L449.2,135.2 L449.5,135.2 L449.8,135.2 L450.2,135.2 L450.5,135.2 L450.8,135.2 L451.2,135.2 L451.5,135.2 L451.8,135.2 L452.1,135.2 L452.5,135.2 L452.8,135.2 L453.1,135.2 L453.5,135.2 L453.8,135.2 L454.1,135.2 L454.5,135.2 L454.8,135.2 L455.1,135.2 L455.4,135.2 L455.8,135.2 L456.1,135.2 L456.4,135.2 L456.8,135.2 L457.1,135.2 L457.4,135.2 L457.8,135.2 L458.1,135.2 L458.4,135.2 L458.7,135.2 L459.1,135.2 L459.4,135.2 L459.7,135.2 L460.1,135.2 L460.4,135.2 L460.7,135.2 L461.1,135.2 L461.4,135.2 L461.7,135.2 L462.0,135.2 L462.4,135.2 L462.7,135.2 L463.0,135.2 L463.4,135.2 L463.7,135.2 L464.0,135.2 L464.4,135.2 L464.7,135.2 L465.0,135.2 L465.3,135.2 L465.7,135.2 L466.0,135.2 L466.3,135.2 L466.7,135.2 L467.0,135.2 L467.3,135.2 L467.7,135.2 L468.0,135.2 L468.3,135.2 L468.6,135.2 L469.0,135.2 L469.3,135.2 L469.6,135.2 L470.0,135.2 L470.3,135.2 L470.6,135.2 L471.0,135.2 L471.3,135.2 L471.6,135.2 L471.9,135.2 L472.3,135.2 L472.6,135.2 L472.9,135.2 L473.3,135.2 L473.6,135.2 L473.9,135.2 L474.3,135.2 L474.6,135.2 L474.9,135.2 L475.2,135.2 L475.6,135.2 L475.9,135.2 L476.2,135.2 L476.6,135.2 L476.9,135.2 L477.2,135.2 L477.6,135.2 L477.9,135.2 L478.2,135.2 L478.5,135.2 L478.9,135.2 L479.2,135.2 L479.5,135.2 L479.9,135.2 L480.2,135.2 L480.5,135.2 L480.9,135.2 L481.2,135.2 L481.5,135.2 L481.8,135.2 L482.2,135.2 L482.5,135.2 L482.8,135.2 L483.2,135.2 L483.5,135.2 L483.8,135.2 L484.2,135.2 L484.5,135.2 L484.8,135.2 L485.1,135.2 L485.5,135.2 L485.8,135.2 L486.1,135.2 L486.5,135.2 L486.8,135.2 L487.1,135.2 L487.5,135.2 L487.8,135.2 L488.1,135.2 L488.4,135.2 L488.8,135.2 L489.1,135.2 L489.4,135.2 L489.8,135.2 L490.1,135.2 L490.4,135.2 L490.8,135.2 L491.1,135.2 L491.4,135.2 L491.7,135.2 L492.1,135.2 L492.4,135.2 L492.7,135.2 L493.1,135.2 L493.4,135.2 L493.7,135.2 L494.1,135.2 L494.4,135.2 L494.7,135.2 L494.9,135.2 Z" fill="#7CAE00" stroke="none" stroke-width="1" />
<text x="180.50" y="122.00" font-size="1.8" fill="#999" >0 - 10</text>
<line x1="179.40" y1="150.25" x2="495.40" y2="150.25" stroke="#7CAE00" stroke-width="0.85" />
<path d="M179.9,150.4 L179.9,150.3 L180.2,149.8 L180.6,148.7 L180.9,149.6 L181.2,150.0 L181.6,150.3 L181.9,150.4 L182.2,148.6 L182.5,149.4 L182.9,150.3 L183.2,149.8 L183.5,149.5 L183.9,148.9 L184.2,150.3 L184.5,150.3 L184.9,150.4 L185.2,149.8 L185.5,148.8 L185.8,149.4 L186.2,150.4 L186.5,150.2 L186.8,150.4 L187.2,150.4 L187.5,150.0 L187.8,150.4 L188.2,150.3 L188.5,150.3 L188.8,150.1 L189.1,149.1 L189.5,150.3 L189.8,149.7 L190.1,150.1 L190.5,150.3 L190.8,150.3 L191.1,149.3 L191.5,149.1 L191.8,149.4 L192.1,148.9 L192.4,149.4 L192.8,150.3 L193.1,150.3 L193.4,149.8 L193.8,149.7 L194.1,149.3 L194.4,148.9 L194.8,149.2 L195.1,148.6 L195.4,149.6 L195.7,149.6 L196.1,149.2 L196.4,150.0 L196.7,149.2 L197.1,149.0 L197.4,150.0 L197.7,150.2 L198.1,150.2 L198.4,149.7 L198.7,149.8 L199.0,150.0 L199.4,150.2 L199.7,149.4 L200.0,149.6 L200.4,148.8 L200.7,148.7 L201.0,150.4 L201.4,150.1 L201.7,149.4 L202.0,149.7 L202.3,149.3 L202.7,148.9 L203.0,148.5 L203.3,148.9 L203.7,148.9 L204.0,149.8 L204.3,150.1 L204.7,148.6 L205.0,146.8 L205.3,144.7 L205.6,142.7 L206.0,140.4 L206.3,138.4 L206.6,140.0 L207.0,142.4 L207.3,144.6 L207.6,146.7 L208.0,148.8 L208.3,149.0 L208.6,149.0 L208.9,150.4 L209.3,149.7 L209.6,150.4 L209.9,148.7 L210.3,146.2 L210.6,143.3 L210.9,140.7 L211.3,138.6 L211.6,139.9 L211.9,142.6 L212.2,145.4 L212.6,147.9 L212.9,149.2 L213.2,149.5 L213.6,150.3 L213.9,150.1 L214.2,150.4 L214.6,150.2 L214.9,149.8 L215.2,149.1 L215.5,148.7 L215.9,149.7 L216.2,150.1 L216.5,149.0 L216.9,149.8 L217.2,149.2 L217.5,150.2 L217.9,148.9 L218.2,150.4 L218.5,150.2 L218.8,150.4 L219.2,150.2 L219.5,149.7 L219.8,148.8 L220.2,150.4 L220.5,149.8 L220.8,150.4 L221.2,149.2 L221.5,149.4 L221.8,148.7 L222.1,148.6 L222.5,149.1 L222.8,149.7 L223.1,150.1 L223.5,150.4 L223.8,150.4 L224.1,150.4 L224.5,149.4 L224.8,150.0 L225.1,150.3 L225.4,150.2 L225.8,150.3 L226.1,150.0 L226.4,149.8 L226.8,150.4 L227.1,150.1 L227.4,149.0 L227.8,149.5 L228.1,149.9 L228.4,150.1 L228.7,150.3 L229.1,150.4 L229.4,150.3 L229.7,150.4 L230.1,150.4 L230.4,150.4 L230.7,148.6 L231.1,148.7 L231.4,150.4 L231.7,150.2 L232.0,150.4 L232.4,150.2 L232.7,149.7 L233.0,150.3 L233.4,150.1 L233.7,150.4 L234.0,149.9 L234.4,150.4 L234.7,150.3 L235.0,150.1 L235.3,150.3 L235.7,150.0 L236.0,149.3 L236.3,150.1 L236.7,149.1 L237.0,150.4 L237.3,149.5 L237.7,149.1 L238.0,148.7 L238.3,149.5 L238.6,150.3 L239.0,149.5 L239.3,149.7 L239.6,150.1 L240.0,149.8 L240.3,150.4 L240.6,150.4 L241.0,150.4 L241.3,148.8 L241.6,150.4 L241.9,150.3 L242.3,149.3 L242.6,149.0 L242.9,150.1 L243.3,150.0 L243.6,148.2 L243.9,146.2 L244.3,145.1 L244.6,144.5 L244.9,142.2 L245.2,143.2 L245.6,145.3 L245.9,147.6 L246.2,149.3 L246.6,150.4 L246.9,149.3 L247.2,148.2 L247.6,146.9 L247.9,147.8 L248.2,149.2 L248.5,150.4 L248.9,149.1 L249.2,150.2 L249.5,149.8 L249.9,150.3 L250.2,149.8 L250.5,150.4 L250.9,149.8 L251.2,150.1 L251.5,149.7 L251.8,150.4 L252.2,149.4 L252.5,150.4 L252.8,149.2 L253.2,150.0 L253.5,149.6 L253.8,150.1 L254.2,150.4 L254.5,148.6 L254.8,149.5 L255.1,148.7 L255.5,149.6 L255.8,150.1 L256.1,150.2 L256.5,148.9 L256.8,145.8 L257.1,142.6 L257.5,140.5 L257.8,143.6 L258.1,146.7 L258.4,149.5 L258.8,149.1 L259.1,150.4 L259.4,150.4 L259.8,150.4 L260.1,149.3 L260.4,150.4 L260.8,149.4 L261.1,150.3 L261.4,149.2 L261.7,150.0 L262.1,150.4 L262.4,148.9 L262.7,148.6 L263.1,148.9 L263.4,150.1 L263.7,149.8 L264.1,150.3 L264.4,149.1 L264.7,150.2 L265.0,149.9 L265.4,149.8 L265.7,148.8 L266.0,150.1 L266.4,150.1 L266.7,148.8 L267.0,150.4 L267.4,150.4 L267.7,150.3 L268.0,150.4 L268.3,148.8 L268.7,150.0 L269.0,149.1 L269.3,150.4 L269.7,150.1 L270.0,149.2 L270.3,150.4 L270.7,149.3 L271.0,148.7 L271.3,149.1 L271.6,150.4 L272.0,150.0 L272.3,150.0 L272.6,150.0 L273.0,149.1 L273.3,150.3 L273.6,150.4 L274.0,148.8 L274.3,149.9 L274.6,149.6 L274.9,149.9 L275.3,149.7 L275.6,150.4 L275.9,150.4 L276.3,150.4 L276.6,150.1 L276.9,150.4 L277.3,149.1 L277.6,150.4 L277.9,149.1 L278.2,149.6 L278.6,150.4 L278.9,150.3 L279.2,149.7 L279.6,148.6 L279.9,150.2 L280.2,150.3 L280.6,150.4 L280.9,149.2 L281.2,150.4 L281.5,150.4 L281.9,149.6 L282.2,149.4 L282.5,150.4 L282.9,150.0 L283.2,150.4 L283.5,150.2 L283.9,150.4 L284.2,149.8 L284.5,150.1 L284.8,149.9 L285.2,148.9 L285.5,150.1 L285.8,150.3 L286.2,150.4 L286.5,149.9 L286.8,149.7 L287.2,149.3 L287.5,150.1 L287.8,150.2 L288.1,149.8 L288.5,149.4 L288.8,150.3 L289.1,150.3 L289.5,149.1 L289.8,150.4 L290.1,150.4 L290.5,150.1 L290.8,149.9 L291.1,150.3 L291.4,149.2 L291.8,150.4 L292.1,150.0 L292.4,149.2 L292.8,148.3 L293.1,147.6 L293.4,148.3 L293.8,149.1 L294.1,149.9 L294.4,149.3 L294.7,150.3 L295.1,150.4 L295.4,150.4 L295.7,150.2 L296.1,149.1 L296.4,149.9 L296.7,150.2 L297.1,150.0 L297.4,149.6 L297.7,150.3 L298.0,149.1 L298.4,149.0 L298.7,149.8 L299.0,150.4 L299.4,149.2 L299.7,150.4 L300.0,149.8 L300.4,149.5 L300.7,150.3 L301.0,150.4 L301.3,150.1 L301.7,150.4 L302.0,148.8 L302.3,149.3 L302.7,149.9 L303.0,150.3 L303.3,150.2 L303.7,149.0 L304.0,149.1 L304.3,149.0 L304.6,150.4 L305.0,150.2 L305.3,149.5 L305.6,149.2 L306.0,150.4 L306.3,149.6 L306.6,148.9 L307.0,150.0 L307.3,148.9 L307.6,150.4 L307.9,149.5 L308.3,148.9 L308.6,149.4 L308.9,148.7 L309.3,149.7 L309.6,150.0 L309.9,149.4 L310.3,150.1 L310.6,150.4 L310.9,150.0 L311.2,150.2 L311.6,149.7 L311.9,149.0 L312.2,149.3 L312.6,149.6 L312.9,150.2 L313.2,148.8 L313.6,150.4 L313.9,150.3 L314.2,150.4 L314.5,150.2 L314.9,150.0 L315.2,148.6 L315.5,149.4 L315.9,150.3 L316.2,150.2 L316.5,150.1 L316.8,148.9 L317.2,150.1 L317.5,150.3 L317.8,150.2 L318.2,149.7 L318.5,148.8 L318.8,150.2 L319.2,149.1 L319.5,150.3 L319.8,149.5 L320.1,150.2 L320.5,149.8 L320.8,149.2 L321.1,150.4 L321.5,150.4 L321.8,150.4 L322.1,149.7 L322.5,149.6 L322.8,148.9 L323.1,149.9 L323.4,149.4 L323.8,148.8 L324.1,150.4 L324.4,150.0 L324.8,149.9 L325.1,149.5 L325.4,150.2 L325.8,149.1 L326.1,150.1 L326.4,150.4 L326.7,150.4 L327.1,150.2 L327.4,150.4 L327.7,149.5 L328.1,149.0 L328.4,150.4 L328.7,149.7 L329.1,148.6 L329.4,150.2 L329.7,150.4 L330.0,150.1 L330.4,148.7 L330.7,150.4 L331.0,150.4 L331.4,150.2 L331.7,150.4 L332.0,150.2 L332.4,149.6 L332.7,148.6 L333.0,149.3 L333.3,150.1 L333.7,149.0 L334.0,150.4 L334.3,149.4 L334.7,150.1 L335.0,150.4 L335.3,149.6 L335.7,149.5 L336.0,150.1 L336.3,148.6 L336.6,149.9 L337.0,150.2 L337.3,150.4 L337.6,150.4 L338.0,149.9 L338.3,150.0 L338.6,150.3 L339.0,150.0 L339.3,149.7 L339.6,150.2 L339.9,149.7 L340.3,150.0 L340.6,149.4 L340.9,149.3 L341.3,150.3 L341.6,150.3 L341.9,150.1 L342.3,149.0 L342.6,148.7 L342.9,150.1 L343.2,150.3 L343.6,150.2 L343.9,150.3 L344.2,149.4 L344.6,149.6 L344.9,149.7 L345.2,150.2 L345.6,148.6 L345.9,148.6 L346.2,149.3 L346.5,149.7 L346.9,150.2 L347.2,149.9 L347.5,149.9 L347.9,149.5 L348.2,148.6 L348.5,149.6 L348.9,149.6 L349.2,149.1 L349.5,149.3 L349.8,148.8 L350.2,150.3 L350.5,150.4 L350.8,149.1 L351.2,150.1 L351.5,148.7 L351.8,150.0 L352.2,149.7 L352.5,150.4 L352.8,149.7 L353.1,149.5 L353.5,148.6 L353.8,150.4 L354.1,150.3 L354.5,148.8 L354.8,150.0 L355.1,150.4 L355.5,149.3 L355.8,150.4 L356.1,150.3 L356.4,148.8 L356.8,148.7 L357.1,150.2 L357.4,148.9 L357.8,149.0 L358.1,149.9 L358.4,150.3 L358.8,149.1 L359.1,149.5 L359.4,150.3 L359.7,150.4 L360.1,149.5 L360.4,150.2 L360.7,149.4 L361.1,150.2 L361.4,149.4 L361.7,148.7 L362.1,150.4 L362.4,150.4 L362.7,150.4 L363.0,149.9 L363.4,149.0 L363.7,150.4 L364.0,150.4 L364.4,150.2 L364.7,150.4 L365.0,148.8 L365.4,150.3 L365.7,149.6 L366.0,150.4 L366.3,149.2 L366.7,150.2 L367.0,149.8 L367.3,149.3 L367.7,149.9 L368.0,150.4 L368.3,149.5 L368.7,150.0 L369.0,150.2 L369.3,149.3 L369.6,149.8 L370.0,150.1 L370.3,149.3 L370.6,149.2 L371.0,150.1 L371.3,150.4 L371.6,149.4 L372.0,149.9 L372.3,147.2 L372.6,144.2 L372.9,141.4 L373.3,138.6 L373.6,141.1 L373.9,144.0 L374.3,146.9 L374.6,148.9 L374.9,150.1 L375.3,150.0 L375.6,149.1 L375.9,150.3 L376.2,150.4 L376.6,150.1 L376.9,150.1 L377.2,149.6 L377.6,150.3 L377.9,150.4 L378.2,150.3 L378.6,149.6 L378.9,150.4 L379.2,149.1 L379.5,149.9 L379.9,150.4 L380.2,150.1 L380.5,149.5 L380.9,150.1 L381.2,149.6 L381.5,150.4 L381.9,149.4 L382.2,148.7 L382.5,150.1 L382.8,149.2 L383.2,148.4 L383.5,147.3 L383.8,146.1 L384.2,146.8 L384.5,148.1 L384.8,149.2 L385.2,148.8 L385.5,149.3 L385.8,149.0 L386.1,149.3 L386.5,150.3 L386.8,150.3 L387.1,148.8 L387.5,149.3 L387.8,148.7 L388.1,148.9 L388.5,149.6 L388.8,148.7 L389.1,148.8 L389.4,150.4 L389.8,150.1 L390.1,150.2 L390.4,149.2 L390.8,148.9 L391.1,150.4 L391.4,150.2 L391.8,149.4 L392.1,149.8 L392.4,149.3 L392.7,150.1 L393.1,149.9 L393.4,149.3 L393.7,149.4 L394.1,150.1 L394.4,149.8 L394.7,149.9 L395.1,150.2 L395.4,149.6 L395.7,149.6 L396.0,149.7 L396.4,148.7 L396.7,150.0 L397.0,149.4 L397.4,150.4 L397.7,150.4 L398.0,149.1 L398.4,150.2 L398.7,149.9 L399.0,150.3 L399.3,148.8 L399.7,150.3 L400.0,150.0 L400.3,150.1 L400.7,150.4 L401.0,150.4 L401.3,149.1 L401.7,150.4 L402.0,150.1 L402.3,149.1 L402.6,150.4 L403.0,149.8 L403.3,150.4 L403.6,150.3 L404.0,149.5 L404.3,150.0 L404.6,150.2 L405.0,148.7 L405.3,150.3 L405.6,149.0 L405.9,150.2 L406.3,150.2 L406.6,150.3 L406.9,150.1 L407.3,149.0 L407.6,150.4 L407.9,149.7 L408.3,150.4 L408.6,150.1 L408.9,149.0 L409.2,150.2 L409.6,148.6 L409.9,149.9 L410.2,150.4 L410.6,150.4 L410.9,149.1 L411.2,149.6 L411.6,149.6 L411.9,149.6 L412.2,150.4 L412.5,150.1 L412.9,149.8 L413.2,150.1 L413.5,148.8 L413.9,148.8 L414.2,150.4 L414.5,150.2 L414.9,150.2 L415.2,150.4 L415.5,150.2 L415.8,149.3 L416.2,150.4 L416.5,149.6 L416.8,150.4 L417.2,150.4 L417.5,150.4 L417.8,150.4 L418.2,150.3 L418.5,149.1 L418.8,150.4 L419.1,150.1 L419.5,150.4 L419.8,150.0 L420.1,150.0 L420.5,149.9 L420.8,148.9 L421.1,150.1 L421.5,149.6 L421.8,148.9 L422.1,150.4 L422.4,150.4 L422.8,148.8 L423.1,150.4 L423.4,149.8 L423.8,148.7 L424.1,148.9 L424.4,150.0 L424.8,150.1 L425.1,150.4 L425.4,148.7 L425.7,150.2 L426.1,150.4 L426.4,149.0 L426.7,150.4 L427.1,150.4 L427.4,150.1 L427.7,149.3 L428.1,149.3 L428.4,150.4 L428.7,150.4 L429.0,150.4 L429.4,149.2 L429.7,149.4 L430.0,149.7 L430.4,149.9 L430.7,150.2 L431.0,150.1 L431.4,149.6 L431.7,150.3 L432.0,149.9 L432.3,149.8 L432.7,148.8 L433.0,150.4 L433.3,149.1 L433.7,150.3 L434.0,148.7 L434.3,150.3 L434.7,150.4 L435.0,150.3 L435.3,148.8 L435.6,147.9 L436.0,145.6 L436.3,143.2 L436.6,142.5 L437.0,145.0 L437.3,147.6 L437.6,147.5 L438.0,144.5 L438.3,141.9 L438.6,141.1 L438.9,144.0 L439.3,146.7 L439.6,146.3 L439.9,144.1 L440.3,145.4 L440.6,147.7 L440.9,150.0 L441.3,150.1 L441.6,149.5 L441.9,150.4 L442.2,149.5 L442.6,148.6 L442.9,150.3 L443.2,150.0 L443.6,150.4 L443.9,149.5 L444.2,150.3 L444.6,149.4 L444.9,149.8 L445.2,150.2 L445.5,149.6 L445.9,150.1 L446.2,149.7 L446.5,149.9 L446.9,150.3 L447.2,146.3 L447.5,141.5 L447.9,138.7 L448.2,143.3 L448.5,148.0 L448.8,149.0 L449.2,149.3 L449.5,149.0 L449.8,150.3 L450.2,149.6 L450.5,148.8 L450.8,149.0 L451.2,149.0 L451.5,150.1 L451.8,150.4 L452.1,148.9 L452.5,150.4 L452.8,149.5 L453.1,150.4 L453.5,150.4 L453.8,148.8 L454.1,150.1 L454.5,149.2 L454.8,149.8 L455.1,148.9 L455.4,150.4 L455.8,150.3 L456.1,149.1 L456.4,149.0 L456.8,150.4 L457.1,149.0 L457.4,149.9 L457.8,149.0 L458.1,149.2 L458.4,149.6 L458.7,148.8 L459.1,150.0 L459.4,149.4 L459.7,150.3 L460.1,150.2 L460.4,150.4 L460.7,149.8 L461.1,149.8 L461.4,149.5 L461.7,150.4 L462.0,150.4 L462.4,150.4 L462.7,149.2 L463.0,148.6 L463.4,150.2 L463.7,150.2 L464.0,149.0 L464.4,150.4 L464.7,150.3 L465.0,149.8 L465.3,149.9 L465.7,148.6 L466.0,150.4 L466.3,150.4 L466.7,150.0 L467.0,149.7 L467.3,150.1 L467.7,149.3 L468.0,150.4 L468.3,150.4 L468.6,150.3 L469.0,149.8 L469.3,149.2 L469.6,150.4 L470.0,150.4 L470.3,150.4 L470.6,149.7 L471.0,150.1 L471.3,149.7 L471.6,150.4 L471.9,150.4 L472.3,150.1 L472.6,150.4 L472.9,150.3 L473.3,149.9 L473.6,149.6 L473.9,149.9 L474.3,149.3 L474.6,149.4 L474.9,150.4 L475.2,150.3 L475.6,149.1 L475.9,150.4 L476.2,149.3 L476.6,149.9 L476.9,150.3 L477.2,150.4 L477.6,149.9 L477.9,149.2 L478.2,149.5 L478.5,150.4 L478.9,148.6 L479.2,150.4 L479.5,150.4 L479.9,150.0 L480.2,149.6 L480.5,149.0 L480.9,150.4 L481.2,150.2 L481.5,149.5 L481.8,150.4 L482.2,150.3 L482.5,150.2 L482.8,150.1 L483.2,150.0 L483.5,149.3 L483.8,150.3 L484.2,149.0 L484.5,149.3 L484.8,150.4 L485.1,149.7 L485.5,149.8 L485.8,148.9 L486.1,150.1 L486.5,149.2 L486.8,150.2 L487.1,149.9 L487.5,150.4 L487.8,150.1 L488.1,149.5 L488.4,149.8 L488.8,149.6 L489.1,148.6 L489.4,150.4 L489.8,150.4 L490.1,150.4 L490.4,150.4 L490.8,148.7 L491.1,146.6 L491.4,144.2 L491.7,142.7 L492.1,145.1 L492.4,147.1 L492.7,149.4 L493.1,150.4 L493.4,150.0 L493.7,150.2 L494.1,150.3 L494.4,150.3 L494.7,149.9 L494.9,150.4 Z" fill="#7CAE00" stroke="none" stroke-width="1" />
<text x="180.50" y="137.25" font-size="1.8" fill="#999" >0 - 10</text>
<line x1="179.70" y1="29.40" x2="179.70" y2="168.00" stroke="#c4c4c4" stroke-width="0.6" />
<line x1="126.00" y1="43.70" x2="163.60" y2="43.70" stroke="#fbd0cc" stroke-width="0.9" />
<line x1="126.00" y1="58.75" x2="163.60" y2="58.75" stroke="#F8766D" stroke-width="0.8" stroke-dasharray="1.5 0.6" stroke-opacity="0.7"/>
<path d="M126.5,59.0 L126.5,58.9 L126.8,58.6 L127.2,58.8 L127.5,58.8 L127.8,58.9 L128.2,58.7 L128.5,58.9 L128.8,58.5 L129.1,58.9 L129.5,58.5 L129.8,58.8 L130.1,58.6 L130.5,58.5 L130.8,58.3 L131.1,58.2 L131.5,58.4 L131.8,58.6 L132.1,58.7 L132.4,58.7 L132.8,58.5 L133.1,58.6 L133.4,58.5 L133.8,58.4 L134.1,58.1 L134.4,57.9 L134.8,58.0 L135.1,58.2 L135.4,58.5 L135.7,58.8 L136.1,58.7 L136.4,58.9 L136.7,58.5 L137.1,58.5 L137.4,58.2 L137.7,58.0 L138.1,57.8 L138.4,58.1 L138.7,58.3 L139.0,58.6 L139.4,58.9 L139.7,58.6 L140.0,58.5 L140.4,58.6 L140.7,58.3 L141.0,58.0 L141.4,58.3 L141.7,58.6 L142.0,58.9 L142.3,58.9 L142.7,58.7 L143.0,58.9 L143.3,58.6 L143.7,58.7 L144.0,58.6 L144.3,58.7 L144.7,58.9 L145.0,58.6 L145.3,58.9 L145.6,58.9 L146.0,58.6 L146.3,58.8 L146.6,58.5 L147.0,58.8 L147.3,58.7 L147.6,58.9 L148.0,58.9 L148.3,58.7 L148.6,58.8 L148.9,58.9 L149.3,58.6 L149.6,58.9 L149.9,56.1 L150.3,51.8 L150.6,48.0 L150.9,49.3 L151.3,53.5 L151.6,57.3 L151.9,56.3 L152.2,56.8 L152.6,57.7 L152.9,58.5 L153.2,57.6 L153.6,57.2 L153.9,58.0 L154.2,58.6 L154.6,58.5 L154.9,58.8 L155.2,58.8 L155.5,58.8 L155.9,58.6 L156.2,58.9 L156.5,58.8 L156.9,58.9 L157.2,58.7 L157.5,58.9 L157.9,58.6 L158.2,58.8 L158.5,58.5 L158.8,58.5 L159.2,58.7 L159.5,58.9 L159.8,58.9 L160.2,58.7 L160.5,58.8 L160.8,58.8 L161.2,58.9 L161.5,58.9 L161.8,58.8 L162.1,58.7 L162.5,58.9 L162.8,58.6 L163.1,59.0 Z" fill="#F8766D" stroke="none" stroke-width="1" />
<line x1="126.00" y1="74.20" x2="163.60" y2="74.20" stroke="#b0e6e8" stroke-width="0.9" />
<line x1="126.00" y1="89.25" x2="163.60" y2="89.25" stroke="#00BFC4" stroke-width="0.8" stroke-dasharray="1.5 0.6" stroke-opacity="0.7"/>
<path d="M126.5,89.5 L126.5,89.4 L126.8,89.0 L127.2,89.4 L127.5,89.0 L127.8,89.0 L128.2,89.4 L128.5,89.3 L128.8,89.4 L129.1,89.4 L129.5,89.1 L129.8,89.1 L130.1,89.1 L130.5,89.0 L130.8,88.8 L131.1,88.7 L131.5,88.9 L131.8,89.0 L132.1,89.3 L132.4,89.3 L132.8,89.2 L133.1,89.1 L133.4,89.2 L133.8,89.2 L134.1,89.0 L134.4,88.8 L134.8,88.6 L135.1,88.5 L135.4,88.8 L135.7,89.0 L136.1,89.2 L136.4,89.3 L136.7,89.3 L137.1,89.1 L137.4,89.1 L137.7,89.0 L138.1,89.1 L138.4,88.9 L138.7,88.6 L139.0,88.5 L139.4,88.7 L139.7,88.9 L140.0,89.2 L140.4,89.4 L140.7,89.4 L141.0,89.1 L141.4,89.3 L141.7,89.4 L142.0,89.2 L142.3,89.4 L142.7,89.4 L143.0,89.3 L143.3,89.1 L143.7,89.2 L144.0,89.4 L144.3,89.0 L144.7,89.4 L145.0,89.4 L145.3,89.3 L145.6,89.4 L146.0,89.4 L146.3,89.4 L146.6,89.3 L147.0,89.4 L147.3,89.4 L147.6,89.4 L148.0,89.3 L148.3,89.2 L148.6,89.4 L148.9,89.3 L149.3,89.4 L149.6,89.4 L149.9,86.6 L150.3,82.6 L150.6,78.4 L150.9,79.7 L151.3,83.8 L151.6,87.8 L151.9,86.7 L152.2,87.2 L152.6,88.2 L152.9,89.0 L153.2,88.2 L153.6,87.7 L153.9,88.5 L154.2,89.3 L154.6,89.4 L154.9,89.4 L155.2,89.2 L155.5,89.4 L155.9,89.4 L156.2,89.4 L156.5,89.4 L156.9,89.4 L157.2,89.0 L157.5,89.1 L157.9,89.4 L158.2,89.0 L158.5,89.0 L158.8,89.1 L159.2,89.4 L159.5,89.4 L159.8,89.4 L160.2,89.2 L160.5,89.2 L160.8,89.4 L161.2,89.0 L161.5,89.2 L161.8,89.2 L162.1,89.4 L162.5,89.1 L162.8,89.3 L163.1,89.5 Z" fill="#00BFC4" stroke="none" stroke-width="1" />
<line x1="126.00" y1="104.70" x2="163.60" y2="104.70" stroke="#ead2ff" stroke-width="0.9" />
<line x1="126.00" y1="119.75" x2="163.60" y2="119.75" stroke="#C77CFF" stroke-width="0.8" stroke-dasharray="1.5 0.6" stroke-opacity="0.7"/>
<path d="M126.5,120.0 L126.5,119.9 L126.8,119.8 L127.2,119.8 L127.5,119.9 L127.8,119.9 L128.2,119.6 L128.5,119.8 L128.8,119.9 L129.1,119.8 L129.5,119.7 L129.8,119.7 L130.1,119.5 L130.5,119.5 L130.8,119.3 L131.1,119.3 L131.5,119.4 L131.8,119.5 L132.1,119.5 L132.4,119.9 L132.8,119.8 L133.1,119.7 L133.4,119.7 L133.8,119.7 L134.1,119.5 L134.4,119.3 L134.8,119.0 L135.1,118.8 L135.4,119.1 L135.7,119.3 L136.1,119.6 L136.4,119.9 L136.7,119.7 L137.1,119.8 L137.4,119.7 L137.7,119.8 L138.1,119.6 L138.4,119.4 L138.7,119.2 L139.0,119.0 L139.4,119.2 L139.7,119.4 L140.0,119.6 L140.4,119.8 L140.7,119.5 L141.0,119.7 L141.4,119.8 L141.7,119.7 L142.0,119.9 L142.3,119.9 L142.7,119.5 L143.0,119.9 L143.3,119.9 L143.7,119.5 L144.0,119.8 L144.3,119.9 L144.7,119.5 L145.0,119.7 L145.3,119.8 L145.6,119.8 L146.0,119.9 L146.3,119.8 L146.6,119.7 L147.0,119.7 L147.3,119.9 L147.6,119.5 L148.0,119.9 L148.3,119.5 L148.6,119.7 L148.9,119.9 L149.3,119.7 L149.6,119.5 L149.9,117.2 L150.3,113.2 L150.6,109.6 L150.9,110.4 L151.3,114.4 L151.6,118.3 L151.9,117.2 L152.2,117.8 L152.6,118.7 L152.9,119.5 L153.2,118.7 L153.6,118.2 L153.9,119.0 L154.2,119.7 L154.6,119.6 L154.9,119.9 L155.2,119.5 L155.5,119.7 L155.9,119.6 L156.2,119.8 L156.5,119.7 L156.9,119.9 L157.2,119.5 L157.5,119.9 L157.9,119.8 L158.2,119.9 L158.5,119.5 L158.8,119.8 L159.2,119.9 L159.5,119.8 L159.8,119.7 L160.2,119.9 L160.5,119.9 L160.8,119.9 L161.2,119.8 L161.5,119.9 L161.8,119.7 L162.1,119.8 L162.5,119.7 L162.8,119.9 L163.1,120.0 Z" fill="#C77CFF" stroke="none" stroke-width="1" />
<line x1="126.00" y1="135.20" x2="163.60" y2="135.20" stroke="#d8e8b0" stroke-width="0.9" />
<line x1="126.00" y1="150.25" x2="163.60" y2="150.25" stroke="#7CAE00" stroke-width="0.8" stroke-dasharray="1.5 0.6" stroke-opacity="0.7"/>
<path d="M126.5,150.4 L126.5,150.0 L126.8,150.3 L127.2,149.9 L127.5,150.1 L127.8,150.2 L128.2,150.4 L128.5,150.3 L128.8,150.0 L129.1,150.4 L129.5,150.3 L129.8,150.4 L130.1,149.8 L130.5,149.8 L130.8,149.6 L131.1,149.5 L131.5,149.8 L131.8,149.5 L132.1,150.0 L132.4,149.4 L132.8,148.7 L133.1,148.1 L133.4,148.7 L133.8,149.4 L134.1,149.7 L134.4,149.7 L134.8,149.5 L135.1,149.3 L135.4,149.6 L135.7,149.8 L136.1,149.8 L136.4,150.4 L136.7,149.8 L137.1,150.0 L137.4,149.7 L137.7,149.5 L138.1,149.4 L138.4,149.5 L138.7,149.3 L139.0,149.6 L139.4,150.3 L139.7,150.3 L140.0,149.4 L140.4,150.4 L140.7,150.1 L141.0,150.0 L141.4,149.8 L141.7,150.3 L142.0,150.3 L142.3,149.5 L142.7,149.3 L143.0,150.4 L143.3,150.3 L143.7,150.4 L144.0,150.4 L144.3,150.3 L144.7,149.8 L145.0,150.0 L145.3,150.3 L145.6,150.4 L146.0,149.7 L146.3,150.1 L146.6,149.6 L147.0,149.7 L147.3,149.8 L147.6,150.1 L148.0,150.4 L148.3,150.0 L148.6,149.9 L148.9,148.6 L149.3,147.2 L149.6,148.3 L149.9,148.4 L150.3,146.4 L150.6,144.3 L150.9,144.9 L151.3,147.0 L151.6,149.1 L151.9,148.4 L152.2,147.7 L152.6,148.6 L152.9,149.6 L153.2,149.9 L153.6,149.1 L153.9,148.7 L154.2,149.6 L154.6,150.0 L154.9,149.7 L155.2,150.4 L155.5,150.1 L155.9,150.1 L156.2,150.1 L156.5,150.3 L156.9,150.2 L157.2,150.4 L157.5,149.7 L157.9,149.3 L158.2,150.2 L158.5,149.7 L158.8,149.3 L159.2,150.0 L159.5,149.6 L159.8,149.4 L160.2,149.6 L160.5,150.1 L160.8,149.8 L161.2,149.8 L161.5,150.3 L161.8,150.1 L162.1,150.4 L162.5,150.4 L162.8,149.5 L163.1,150.4 Z" fill="#7CAE00" stroke="none" stroke-width="1" />
<rect x="179.40" y="150.80" width="316.00" height="2.00" fill="#c4c4c8" />
<rect x="126.00" y="150.80" width="37.60" height="1.60" fill="#d4d4d8" />
<line x1="179.40" y1="160.30" x2="495.40" y2="160.30" stroke="#e2e2e2" stroke-width="0.5" />
<line x1="179.40" y1="168.50" x2="495.40" y2="168.50" stroke="#e2e2e2" stroke-width="0.5" />
<line x1="179.40" y1="175.40" x2="495.40" y2="175.40" stroke="#e2e2e2" stroke-width="0.5" />
<line x1="179.40" y1="185.10" x2="495.40" y2="185.10" stroke="#e2e2e2" stroke-width="0.5" />
<line x1="179.40" y1="190.40" x2="495.40" y2="190.40" stroke="#e2e2e2" stroke-width="0.5" />
<line x1="179.40" y1="198.50" x2="495.40" y2="198.50" stroke="#e2e2e2" stroke-width="0.5" />
<line x1="179.40" y1="204.80" x2="495.40" y2="204.80" stroke="#e2e2e2" stroke-width="0.5" />
<line x1="179.40" y1="213.00" x2="495.40" y2="213.00" stroke="#e2e2e2" stroke-width="0.5" />
<line x1="179.40" y1="220.80" x2="495.40" y2="220.80" stroke="#e2e2e2" stroke-width="0.5" />
<line x1="179.40" y1="228.40" x2="495.40" y2="228.40" stroke="#e2e2e2" stroke-width="0.5" />
<line x1="179.40" y1="236.50" x2="495.40" y2="236.50" stroke="#e2e2e2" stroke-width="0.5" />
<line x1="179.40" y1="244.00" x2="495.40" y2="244.00" stroke="#e2e2e2" stroke-width="0.5" />
<line x1="126.00" y1="154.40" x2="163.60" y2="154.40" stroke="#e2e2e2" stroke-width="0.5" />
<line x1="126.00" y1="168.10" x2="163.60" y2="168.10" stroke="#e2e2e2" stroke-width="0.5" />
<line x1="126.00" y1="187.70" x2="163.60" y2="187.70" stroke="#e2e2e2" stroke-width="0.5" />
<line x1="126.00" y1="196.40" x2="163.60" y2="196.40" stroke="#e2e2e2" stroke-width="0.5" />
<line x1="126.00" y1="205.20" x2="163.60" y2="205.20" stroke="#e2e2e2" stroke-width="0.5" />
<line x1="126.00" y1="213.10" x2="163.60" y2="213.10" stroke="#e2e2e2" stroke-width="0.5" />
<line x1="126.00" y1="228.40" x2="163.60" y2="228.40" stroke="#e2e2e2" stroke-width="0.5" />
<line x1="126.00" y1="237.00" x2="163.60" y2="237.00" stroke="#e2e2e2" stroke-width="0.5" />
<line x1="126.00" y1="242.90" x2="163.60" y2="242.90" stroke="#e2e2e2" stroke-width="0.5" />
<line x1="210.50" y1="154.40" x2="281.00" y2="154.40" stroke="#3a3ad8" stroke-width="0.55" />
<path d="M214.0,153.7 L214.8,154.4 L214.0,155.1" fill="none" stroke="#3a3ad8" stroke-width="0.35" />
<path d="M218.0,153.7 L218.8,154.4 L218.0,155.1" fill="none" stroke="#3a3ad8" stroke-width="0.35" />
<path d="M222.0,153.7 L222.8,154.4 L222.0,155.1" fill="none" stroke="#3a3ad8" stroke-width="0.35" />
<path d="M226.0,153.7 L226.8,154.4 L226.0,155.1" fill="none" stroke="#3a3ad8" stroke-width="0.35" />
<path d="M230.0,153.7 L230.8,154.4 L230.0,155.1" fill="none" stroke="#3a3ad8" stroke-width="0.35" />
<path d="M234.0,153.7 L234.8,154.4 L234.0,155.1" fill="none" stroke="#3a3ad8" stroke-width="0.35" />
<path d="M238.0,153.7 L238.8,154.4 L238.0,155.1" fill="none" stroke="#3a3ad8" stroke-width="0.35" />
<path d="M242.0,153.7 L242.8,154.4 L242.0,155.1" fill="none" stroke="#3a3ad8" stroke-width="0.35" />
<path d="M246.0,153.7 L246.8,154.4 L246.0,155.1" fill="none" stroke="#3a3ad8" stroke-width="0.35" />
<path d="M250.0,153.7 L250.8,154.4 L250.0,155.1" fill="none" stroke="#3a3ad8" stroke-width="0.35" />
<path d="M254.0,153.7 L254.8,154.4 L254.0,155.1" fill="none" stroke="#3a3ad8" stroke-width="0.35" />
<path d="M258.0,153.7 L258.8,154.4 L258.0,155.1" fill="none" stroke="#3a3ad8" stroke-width="0.35" />
<rect x="210.60" y="153.50" width="1.40" height="1.90" fill="#1a1acc" />
<rect x="215.60" y="153.40" width="1.80" height="2.00" fill="#1a1acc" />
<rect x="249.30" y="153.40" width="1.40" height="2.00" fill="#1a1acc" />
<rect x="264.60" y="153.00" width="3.40" height="2.80" fill="#1a1acc" />
<rect x="269.20" y="153.00" width="1.40" height="2.80" fill="#1a1acc" />
<rect x="271.00" y="153.50" width="9.00" height="1.90" fill="#1a1acc" />
<text x="245.40" y="159.40" font-size="3.6" fill="#555" text-anchor="middle" >PRDM1</text>
<rect x="132.90" y="160.90" width="1.40" height="1.50" fill="#111" />
<rect x="137.20" y="160.90" width="0.90" height="1.50" fill="#111" />
<rect x="140.10" y="160.90" width="0.90" height="1.50" fill="#111" />
<rect x="149.60" y="160.90" width="5.10" height="1.50" fill="#111" />
<text x="126.20" y="167.00" font-size="3.9" fill="#111" textLength="18.30" lengthAdjust="spacingAndGlyphs" stroke="#111" stroke-width="0.05" >gion_24660</text>
<rect x="134.50" y="168.80" width="0.80" height="1.10" fill="#333" />
<rect x="137.20" y="168.80" width="0.80" height="1.10" fill="#333" />
<rect x="140.50" y="168.80" width="0.80" height="1.10" fill="#333" />
<rect x="150.30" y="168.80" width="0.80" height="1.10" fill="#333" />
<rect x="151.80" y="168.80" width="0.80" height="1.10" fill="#333" />
<rect x="153.70" y="168.80" width="0.80" height="1.10" fill="#333" />
<text x="131.00" y="174.40" font-size="3.8" fill="#222" textLength="33.00" lengthAdjust="spacingAndGlyphs" stroke="#222" stroke-width="0.03" >chr6:106 4752 - 106</text>
<rect x="127.80" y="176.60" width="0.80" height="1.40" fill="#1a1acc" />
<rect x="132.00" y="176.60" width="0.80" height="1.40" fill="#1a1acc" />
<rect x="133.50" y="176.60" width="2.40" height="1.40" fill="#1a1acc" />
<rect x="136.50" y="176.60" width="0.60" height="1.40" fill="#1a1acc" />
<rect x="138.50" y="176.60" width="0.80" height="1.40" fill="#1a1acc" />
<rect x="143.50" y="176.60" width="0.80" height="1.40" fill="#1a1acc" />
<rect x="149.00" y="176.60" width="0.80" height="1.40" fill="#1a1acc" />
<rect x="151.70" y="176.60" width="0.80" height="1.40" fill="#1a1acc" />
<rect x="153.00" y="176.60" width="0.80" height="1.40" fill="#1a1acc" />
<text x="126.20" y="181.40" font-size="2.6" fill="#888" textLength="37.50" lengthAdjust="spacingAndGlyphs" >hmmGeneATAC1219.peak_47054 ...... hmmGe</text>
<rect x="150.20" y="191.60" width="1.10" height="1.10" fill="#8888e8" />
<rect x="150.10" y="199.00" width="1.40" height="1.40" fill="#1a1acc" />
<rect x="203.50" y="160.80" width="8.70" height="1.60" fill="#111" />
<rect x="229.50" y="160.80" width="1.70" height="1.60" fill="#111" />
<rect x="243.30" y="160.80" width="6.10" height="1.60" fill="#111" />
<rect x="256.30" y="160.80" width="7.00" height="1.60" fill="#111" />
<rect x="271.50" y="160.80" width="1.20" height="1.60" fill="#111" />
<rect x="293.50" y="160.80" width="1.10" height="1.60" fill="#111" />
<rect x="301.50" y="160.80" width="2.30" height="1.60" fill="#111" />
<rect x="327.00" y="160.80" width="1.00" height="1.60" fill="#111" />
<rect x="351.20" y="160.80" width="1.10" height="1.60" fill="#111" />
<rect x="370.80" y="160.80" width="4.60" height="1.60" fill="#111" />
<rect x="382.20" y="160.80" width="3.60" height="1.60" fill="#111" />
<rect x="387.50" y="160.80" width="1.00" height="1.60" fill="#111" />
<rect x="435.00" y="160.80" width="6.10" height="1.60" fill="#111" />
<rect x="446.60" y="160.80" width="1.70" height="1.60" fill="#111" />
<rect x="464.00" y="160.80" width="1.00" height="1.60" fill="#111" />
<rect x="489.20" y="160.80" width="3.60" height="1.60" fill="#111" />
<text x="195.40" y="166.50" font-size="3.9" fill="#111" textLength="22.90" lengthAdjust="spacingAndGlyphs" stroke="#111" stroke-width="0.05" >Region_24664</text>
<text x="233.80" y="166.50" font-size="3.9" fill="#111" textLength="22.50" lengthAdjust="spacingAndGlyphs" stroke="#111" stroke-width="0.05" >Region_24666</text>
<text x="282.00" y="166.50" font-size="3.9" fill="#111" textLength="23.00" lengthAdjust="spacingAndGlyphs" stroke="#111" stroke-width="0.05" >Region_24669</text>
<text x="315.80" y="166.50" font-size="3.9" fill="#111" textLength="22.70" lengthAdjust="spacingAndGlyphs" stroke="#111" stroke-width="0.05" >Region_24671</text>
<text x="350.00" y="166.50" font-size="3.9" fill="#111" textLength="24.00" lengthAdjust="spacingAndGlyphs" stroke="#111" stroke-width="0.05" >Region_24672</text>
<text x="426.00" y="166.50" font-size="3.9" fill="#111" textLength="23.50" lengthAdjust="spacingAndGlyphs" stroke="#111" stroke-width="0.05" >Region_24676</text>
<text x="478.80" y="166.50" font-size="3.9" fill="#111" textLength="16.20" lengthAdjust="spacingAndGlyphs" stroke="#111" stroke-width="0.05" >Region_24</text>
<rect x="202.00" y="169.30" width="0.90" height="1.20" fill="#222" />
<rect x="205.50" y="169.30" width="0.90" height="1.20" fill="#222" />
<rect x="207.00" y="169.30" width="0.90" height="1.20" fill="#222" />
<rect x="210.50" y="169.30" width="0.90" height="1.20" fill="#222" />
<rect x="221.50" y="169.30" width="0.90" height="1.20" fill="#222" />
<rect x="227.50" y="169.30" width="0.90" height="1.20" fill="#222" />
<rect x="235.00" y="169.30" width="0.90" height="1.20" fill="#222" />
<rect x="244.00" y="169.30" width="0.90" height="1.20" fill="#222" />
<rect x="246.50" y="169.30" width="0.90" height="1.20" fill="#222" />
<rect x="247.50" y="169.30" width="0.90" height="1.20" fill="#222" />
<rect x="258.00" y="169.30" width="0.90" height="1.20" fill="#222" />
<rect x="262.00" y="169.30" width="0.90" height="1.20" fill="#222" />
<rect x="301.50" y="169.30" width="0.90" height="1.20" fill="#222" />
<rect x="302.70" y="169.30" width="0.90" height="1.20" fill="#222" />
<rect x="327.00" y="169.30" width="0.90" height="1.20" fill="#222" />
<rect x="351.20" y="169.30" width="0.90" height="1.20" fill="#222" />
<rect x="373.00" y="169.30" width="0.90" height="1.20" fill="#222" />
<rect x="435.60" y="169.30" width="0.90" height="1.20" fill="#222" />
<rect x="437.00" y="169.30" width="0.90" height="1.20" fill="#222" />
<rect x="438.70" y="169.30" width="0.90" height="1.20" fill="#222" />
<text x="179.50" y="174.60" font-size="3.7" fill="#222" textLength="70.00" lengthAdjust="spacingAndGlyphs" stroke="#222" stroke-width="0.03" >47990;NM_001198;PRDM1;R:0.561;FDR:0</text>
<text x="299.20" y="174.60" font-size="3.7" fill="#222" textLength="106.00" lengthAdjust="spacingAndGlyphs" stroke="#222" stroke-width="0.03" >chr6:107022555-107023126;NM_001198;PRDM1;R:0.447;FDR:0</text>
<rect x="187.30" y="176.50" width="0.90" height="1.40" fill="#1a1acc" />
<rect x="190.00" y="176.50" width="0.90" height="1.40" fill="#1a1acc" />
<rect x="203.00" y="176.50" width="0.90" height="1.40" fill="#1a1acc" />
<rect x="204.40" y="176.50" width="0.90" height="1.40" fill="#1a1acc" />
<rect x="205.80" y="176.50" width="0.90" height="1.40" fill="#1a1acc" />
<rect x="208.00" y="176.50" width="0.90" height="1.40" fill="#1a1acc" />
<rect x="210.50" y="176.50" width="0.90" height="1.40" fill="#1a1acc" />
<rect x="216.50" y="176.50" width="0.90" height="1.40" fill="#1a1acc" />
<rect x="222.50" y="176.50" width="0.90" height="1.40" fill="#1a1acc" />
<rect x="224.00" y="176.50" width="0.90" height="1.40" fill="#1a1acc" />
<rect x="233.00" y="176.50" width="0.90" height="1.40" fill="#1a1acc" />
<rect x="234.60" y="176.50" width="0.90" height="1.40" fill="#1a1acc" />
<rect x="243.00" y="176.50" width="0.90" height="1.40" fill="#1a1acc" />
<rect x="244.30" y="176.50" width="0.90" height="1.40" fill="#1a1acc" />
<rect x="245.60" y="176.50" width="0.90" height="1.40" fill="#1a1acc" />
<rect x="247.00" y="176.50" width="0.90" height="1.40" fill="#1a1acc" />
<rect x="251.50" y="176.50" width="0.90" height="1.40" fill="#1a1acc" />
<rect x="253.00" y="176.50" width="0.90" height="1.40" fill="#1a1acc" />
<rect x="258.50" y="176.50" width="0.90" height="1.40" fill="#1a1acc" />
<rect x="262.30" y="176.50" width="0.90" height="1.40" fill="#1a1acc" />
<rect x="264.60" y="176.50" width="0.90" height="1.40" fill="#1a1acc" />
<rect x="269.20" y="176.50" width="0.90" height="1.40" fill="#1a1acc" />
<rect x="277.30" y="176.50" width="0.90" height="1.40" fill="#1a1acc" />
<rect x="283.00" y="176.50" width="0.90" height="1.40" fill="#1a1acc" />
<rect x="284.30" y="176.50" width="0.90" height="1.40" fill="#1a1acc" />
<rect x="290.00" y="176.50" width="0.90" height="1.40" fill="#1a1acc" />
<rect x="293.50" y="176.50" width="0.90" height="1.40" fill="#1a1acc" />
<rect x="294.60" y="176.50" width="0.90" height="1.40" fill="#1a1acc" />
<rect x="301.50" y="176.50" width="0.90" height="1.40" fill="#1a1acc" />
<rect x="303.80" y="176.50" width="0.90" height="1.40" fill="#1a1acc" />
<rect x="306.20" y="176.50" width="0.90" height="1.40" fill="#1a1acc" />
<rect x="315.40" y="176.50" width="0.90" height="1.40" fill="#1a1acc" />
<rect x="321.20" y="176.50" width="0.90" height="1.40" fill="#1a1acc" />
<rect x="322.30" y="176.50" width="0.90" height="1.40" fill="#1a1acc" />
<rect x="327.00" y="176.50" width="0.90" height="1.40" fill="#1a1acc" />
<rect x="335.00" y="176.50" width="0.90" height="1.40" fill="#1a1acc" />
<rect x="339.60" y="176.50" width="0.90" height="1.40" fill="#1a1acc" />
<rect x="351.20" y="176.50" width="0.90" height="1.40" fill="#1a1acc" />
<rect x="383.40" y="176.50" width="0.90" height="1.40" fill="#1a1acc" />
<rect x="385.00" y="176.50" width="0.90" height="1.40" fill="#1a1acc" />
<rect x="386.50" y="176.50" width="0.90" height="1.40" fill="#1a1acc" />
<rect x="408.20" y="176.50" width="0.90" height="1.40" fill="#1a1acc" />
<rect x="414.00" y="176.50" width="0.90" height="1.40" fill="#1a1acc" />
<rect x="431.50" y="176.50" width="0.90" height="1.40" fill="#1a1acc" />
<rect x="436.30" y="176.50" width="0.90" height="1.40" fill="#1a1acc" />
<rect x="437.80" y="176.50" width="0.90" height="1.40" fill="#1a1acc" />
<rect x="439.40" y="176.50" width="0.90" height="1.40" fill="#1a1acc" />
<rect x="447.10" y="176.50" width="0.90" height="1.40" fill="#1a1acc" />
<rect x="461.00" y="176.50" width="0.90" height="1.40" fill="#1a1acc" />
<rect x="491.60" y="176.50" width="0.90" height="1.40" fill="#1a1acc" />
<text x="179.70" y="181.20" font-size="2.7" fill="#777" textLength="21.30" lengthAdjust="spacingAndGlyphs" >TAC1219.peak_47075</text>
<text x="213.30" y="181.20" font-size="2.7" fill="#777" textLength="41.50" lengthAdjust="spacingAndGlyphs" >hmmGeneATAC1219.peak_47085</text>
<text x="265.80" y="181.20" font-size="2.7" fill="#777" textLength="26.50" lengthAdjust="spacingAndGlyphs" >hmmGeneATAC1219.peak_47090</text>
<text x="316.50" y="181.20" font-size="2.7" fill="#777" textLength="24.30" lengthAdjust="spacingAndGlyphs" >hmmGeneATAC1219.peak_47093</text>
<text x="375.00" y="181.20" font-size="2.7" fill="#777" textLength="31.30" lengthAdjust="spacingAndGlyphs" >1219.peak_47023</text>
<text x="410.60" y="181.20" font-size="2.7" fill="#777" textLength="38.90" lengthAdjust="spacingAndGlyphs" >hmmGeneATAC1219.peak_47027</text>
<text x="463.50" y="181.20" font-size="2.7" fill="#777" textLength="31.50" lengthAdjust="spacingAndGlyphs" >hmmGeneATAC1219.peak</text>
<rect x="203.50" y="184.30" width="1.20" height="1.30" fill="#1a1acc" />
<rect x="205.20" y="184.30" width="1.40" height="1.30" fill="#1a1acc" />
<rect x="210.30" y="184.30" width="1.20" height="1.30" fill="#1a1acc" />
<rect x="243.40" y="184.30" width="1.30" height="1.30" fill="#1a1acc" />
<rect x="246.80" y="184.30" width="1.00" height="1.30" fill="#1a1acc" />
<rect x="386.50" y="184.30" width="1.70" height="1.30" fill="#1a1acc" />
<rect x="435.10" y="184.30" width="1.20" height="1.30" fill="#1a1acc" />
<rect x="438.70" y="184.30" width="1.30" height="1.30" fill="#1a1acc" />
<rect x="210.30" y="192.00" width="1.20" height="1.20" fill="#1a1acc" />
<rect x="244.00" y="192.00" width="1.20" height="1.20" fill="#1a1acc" />
<rect x="205.50" y="199.20" width="1.50" height="1.50" fill="#1a1acc" />
<rect x="210.30" y="199.20" width="1.50" height="1.50" fill="#1a1acc" />
<rect x="243.20" y="199.20" width="1.50" height="1.50" fill="#0a0aa0" />
<rect x="246.20" y="199.20" width="1.50" height="1.50" fill="#a8a8ee" />
<rect x="178.50" y="206.50" width="22.50" height="1.90" fill="#6a6a6a" />
<rect x="201.00" y="206.50" width="1.30" height="1.90" fill="#f8f8f8" />
<rect x="202.30" y="206.50" width="8.30" height="1.90" fill="#ffc000" />
<rect x="210.60" y="206.50" width="1.40" height="1.90" fill="#ff2020" />
<rect x="212.00" y="206.50" width="14.00" height="1.90" fill="#f08080" />
<rect x="226.00" y="206.50" width="1.30" height="1.90" fill="#40b040" />
<rect x="227.30" y="206.50" width="1.70" height="1.90" fill="#ffe000" />
<rect x="229.00" y="206.50" width="1.80" height="1.90" fill="#80d060" />
<rect x="230.80" y="206.50" width="10.50" height="1.90" fill="#ffe000" />
<rect x="241.30" y="206.50" width="10.70" height="1.90" fill="#ff0000" />
<rect x="252.00" y="206.50" width="10.50" height="1.90" fill="#ffc000" />
<rect x="262.50" y="206.50" width="11.30" height="1.90" fill="#30a030" />
<rect x="273.80" y="206.50" width="1.60" height="1.90" fill="#90e070" />
<rect x="275.40" y="206.50" width="10.00" height="1.90" fill="#a0e080" />
<rect x="285.40" y="206.50" width="5.40" height="1.90" fill="#ffe000" />
<rect x="290.80" y="206.50" width="5.40" height="1.90" fill="#ffa000" />
<rect x="296.20" y="206.50" width="4.60" height="1.90" fill="#ffe000" />
<rect x="300.80" y="206.50" width="2.30" height="1.90" fill="#ff9000" />
<rect x="303.10" y="206.50" width="13.80" height="1.90" fill="#ffe000" />
<rect x="316.90" y="206.50" width="4.60" height="1.90" fill="#a0e080" />
<rect x="321.50" y="206.50" width="8.50" height="1.90" fill="#ffa020" />
<rect x="330.00" y="206.50" width="6.90" height="1.90" fill="#a0e080" />
<rect x="336.90" y="206.50" width="5.40" height="1.90" fill="#ffe000" />
<rect x="342.30" y="206.50" width="17.70" height="1.90" fill="#a0e080" />
<rect x="360.00" y="206.50" width="8.50" height="1.90" fill="#ffe000" />
<rect x="368.50" y="206.50" width="10.00" height="1.90" fill="#ff0000" />
<rect x="378.50" y="206.50" width="2.50" height="1.90" fill="#ffa000" />
<rect x="381.00" y="206.50" width="6.70" height="1.90" fill="#ffc000" />
<rect x="387.70" y="206.50" width="8.50" height="1.90" fill="#ffe000" />
<rect x="396.20" y="206.50" width="27.60" height="1.90" fill="#a0e080" />
<rect x="423.80" y="206.50" width="6.20" height="1.90" fill="#ffe000" />
<rect x="430.00" y="206.50" width="20.80" height="1.90" fill="#ff0000" />
<rect x="450.80" y="206.50" width="8.40" height="1.90" fill="#ffe000" />
<rect x="459.20" y="206.50" width="4.60" height="1.90" fill="#a0e080" />
<rect x="463.80" y="206.50" width="2.40" height="1.90" fill="#ffe000" />
<rect x="466.20" y="206.50" width="13.00" height="1.90" fill="#a0e080" />
<rect x="479.20" y="206.50" width="5.40" height="1.90" fill="#ffe000" />
<rect x="484.60" y="206.50" width="6.90" height="1.90" fill="#ff0000" />
<rect x="491.50" y="206.50" width="3.90" height="1.90" fill="#ffe000" />
<rect x="126.00" y="206.60" width="36.00" height="1.80" fill="#6a6a6a" />
<rect x="132.90" y="206.60" width="1.20" height="1.80" fill="#ff00ff" />
<rect x="149.60" y="206.60" width="5.80" height="1.80" fill="#ff00ff" />
<rect x="150.00" y="206.60" width="1.20" height="1.80" fill="#ff3030" />
<text x="126.00" y="212.70" font-size="3.9" fill="#000" font-weight="bold" textLength="14.10" lengthAdjust="spacingAndGlyphs" >pressed</text>
<text x="147.40" y="212.70" font-size="3.9" fill="#000" font-weight="bold" textLength="16.70" lengthAdjust="spacingAndGlyphs" >12_Repres</text>
<text x="178.50" y="212.90" font-size="3.9" fill="#000" font-weight="bold" textLength="23.50" lengthAdjust="spacingAndGlyphs" >12_Repressed</text>
<text x="210.50" y="212.90" font-size="3.9" fill="#000" font-weight="bold" textLength="30.50" lengthAdjust="spacingAndGlyphs" >6_Weak_Enhancer</text>
<text x="253.00" y="212.90" font-size="3.9" fill="#000" font-weight="bold" textLength="28.40" lengthAdjust="spacingAndGlyphs" >9_Txn_Transition</text>
<text x="286.20" y="212.90" font-size="3.9" fill="#000" font-weight="bold" textLength="31.50" lengthAdjust="spacingAndGlyphs" >5_Strong_Enhancer</text>
<text x="322.00" y="212.90" font-size="3.9" fill="#000" font-weight="bold" textLength="30.00" lengthAdjust="spacingAndGlyphs" >6_Weak_Enhancer</text>
<text x="357.20" y="212.90" font-size="3.9" fill="#000" font-weight="bold" textLength="32.00" lengthAdjust="spacingAndGlyphs" >4_Strong_Enhancer</text>
<text x="397.00" y="212.90" font-size="3.9" fill="#000" font-weight="bold" textLength="17.60" lengthAdjust="spacingAndGlyphs" >8_Insulator</text>
<text x="421.50" y="212.90" font-size="3.9" fill="#000" font-weight="bold" textLength="31.50" lengthAdjust="spacingAndGlyphs" >4_Strong_Enhancer</text>
<text x="457.70" y="212.90" font-size="3.9" fill="#000" font-weight="bold" textLength="23.10" lengthAdjust="spacingAndGlyphs" >11_Weak_Txn</text>
<rect x="201.00" y="214.50" width="34.20" height="1.50" fill="#9494ee" />
<rect x="239.70" y="214.50" width="35.80" height="1.50" fill="#9494ee" />
<rect x="292.30" y="214.50" width="2.70" height="1.50" fill="#9494ee" />
<rect x="299.30" y="214.50" width="3.00" height="1.50" fill="#9494ee" />
<rect x="310.30" y="214.50" width="1.50" height="1.50" fill="#9494ee" />
<rect x="326.00" y="214.50" width="2.50" height="1.50" fill="#9494ee" />
<rect x="369.20" y="214.50" width="20.30" height="1.50" fill="#9494ee" />
<rect x="431.50" y="214.50" width="22.30" height="1.50" fill="#9494ee" />
<rect x="481.50" y="214.50" width="13.90" height="1.50" fill="#9494ee" />
<rect x="131.00" y="214.50" width="7.00" height="1.50" fill="#9494ee" />
<rect x="148.90" y="214.50" width="7.90" height="1.50" fill="#9494ee" />
<text x="208.40" y="219.80" font-size="2.6" fill="#777" textLength="22.40" lengthAdjust="spacingAndGlyphs" >BK050_H3K27ac_peak_10704</text>
<text x="275.80" y="219.80" font-size="2.6" fill="#777" textLength="22.00" lengthAdjust="spacingAndGlyphs" >BK050_H3K27ac_peak_10706</text>
<text x="361.50" y="219.80" font-size="2.6" fill="#777" textLength="27.00" lengthAdjust="spacingAndGlyphs" >BK050_H3K27ac_peak_10709</text>
<text x="424.60" y="219.80" font-size="2.6" fill="#777" textLength="28.00" lengthAdjust="spacingAndGlyphs" >BK050_H3K27ac_peak_10713</text>
<text x="470.80" y="219.80" font-size="2.6" fill="#777" textLength="24.00" lengthAdjust="spacingAndGlyphs" >BK050_H3K27ac_pea</text>
<text x="126.20" y="219.80" font-size="2.6" fill="#888" textLength="26.30" lengthAdjust="spacingAndGlyphs" >K050_H3K27ac_peak_10701</text>
<rect x="198.40" y="222.30" width="12.10" height="1.50" fill="#a4a4f0" />
<rect x="224.80" y="222.30" width="92.20" height="1.50" fill="#a4a4f0" />
<rect x="333.80" y="222.30" width="7.00" height="1.50" fill="#a4a4f0" />
<rect x="427.00" y="222.30" width="68.40" height="1.50" fill="#a4a4f0" />
<rect x="340.00" y="222.30" width="1.00" height="1.50" fill="#a4a4f0" />
<rect x="353.00" y="222.30" width="1.00" height="1.50" fill="#a4a4f0" />
<rect x="400.00" y="222.30" width="1.00" height="1.50" fill="#a4a4f0" />
<rect x="415.00" y="222.30" width="5.00" height="1.50" fill="#a4a4f0" />
<rect x="129.30" y="222.30" width="15.90" height="1.50" fill="#b8b8f2" />
<rect x="148.90" y="222.30" width="3.60" height="1.50" fill="#b8b8f2" />
<rect x="153.90" y="222.00" width="5.10" height="2.00" fill="#1010b0" />
<rect x="322.00" y="222.00" width="8.00" height="2.00" fill="#1010b0" />
<rect x="360.30" y="222.00" width="36.90" height="2.00" fill="#1010b0" />
<text x="185.70" y="227.50" font-size="2.6" fill="#777" textLength="36.00" lengthAdjust="spacingAndGlyphs" >BK050_H3K4me1_peak_37961</text>
<text x="253.00" y="227.50" font-size="2.6" fill="#777" textLength="31.40" lengthAdjust="spacingAndGlyphs" >BK050_H3K4me1_peak_37962</text>
<text x="307.70" y="227.50" font-size="2.6" fill="#777" textLength="36.10" lengthAdjust="spacingAndGlyphs" >BK050_H3K4me1_peak_37963</text>
<text x="360.30" y="227.50" font-size="2.6" fill="#777" textLength="36.90" lengthAdjust="spacingAndGlyphs" >BK050_H3K4me1_peak_37965</text>
<text x="443.00" y="227.50" font-size="2.6" fill="#777" textLength="37.00" lengthAdjust="spacingAndGlyphs" >BK050_H3K4me1_peak_37968</text>
<text x="126.20" y="227.50" font-size="2.6" fill="#888" textLength="17.00" lengthAdjust="spacingAndGlyphs" >e1_peak_37958</text>
<rect x="201.00" y="229.80" width="72.10" height="2.00" fill="#0c0ca8" />
<rect x="369.20" y="229.80" width="20.80" height="2.00" fill="#0c0ca8" />
<rect x="431.50" y="229.80" width="63.90" height="2.00" fill="#0c0ca8" />
<rect x="131.00" y="229.80" width="25.80" height="2.00" fill="#0c0ca8" />
<rect x="236.70" y="233.90" width="0.80" height="0.80" fill="#555" />
<rect x="379.70" y="233.90" width="0.80" height="0.80" fill="#555" />
<rect x="463.80" y="233.90" width="0.80" height="0.80" fill="#555" />
<rect x="143.80" y="233.90" width="0.80" height="0.80" fill="#555" />
<rect x="202.50" y="237.30" width="81.00" height="2.00" fill="#0c0ca8" />
<rect x="360.80" y="237.30" width="28.70" height="2.00" fill="#0c0ca8" />
<rect x="432.30" y="237.30" width="53.90" height="2.00" fill="#0c0ca8" />
<text x="215.30" y="242.60" font-size="2.6" fill="#555" textLength="54.20" lengthAdjust="spacingAndGlyphs" >6_MM1S_MED1_DMSO_2_15968_lociStitched</text>
<text x="348.50" y="242.60" font-size="2.6" fill="#555" textLength="54.50" lengthAdjust="spacingAndGlyphs" >3_MM1S_MED1_DMSO_2_15972_lociStitched</text>
<text x="432.30" y="242.60" font-size="2.6" fill="#555" textLength="53.90" lengthAdjust="spacingAndGlyphs" >3_MM1S_MED1_DMSO_2_15975_lociStitched</text>
<rect x="201.00" y="245.00" width="74.40" height="2.00" fill="#0c0ca8" />
<rect x="360.00" y="245.00" width="97.70" height="2.00" fill="#0c0ca8" />
<rect x="146.0" y="29.95" width="8.9" height="173.55" rx="1.2" fill="none" stroke="#FF8A18" stroke-width="1.55"/>
<rect x="241.00" y="30.0" width="8.85" height="173.4" rx="1.0" fill="none" stroke="#ff0000" stroke-width="1.55"/>
<rect x="369.00" y="30.0" width="8.85" height="173.4" rx="1.0" fill="none" stroke="#ff0000" stroke-width="1.55"/>
<rect x="430.70" y="30.0" width="19.45" height="173.4" rx="1.0" fill="none" stroke="#ff0000" stroke-width="1.55"/>
<rect x="485.40" y="30.0" width="9.00" height="173.4" rx="1.0" fill="none" stroke="#ff0000" stroke-width="1.55"/>
<text x="18.50" y="162.90" font-size="6.7" fill="#222" textLength="53.30" lengthAdjust="spacingAndGlyphs" stroke="#222" stroke-width="0.06" >ATAC-seq regions</text>
<text x="18.50" y="171.30" font-size="6.7" fill="#222" textLength="71.50" lengthAdjust="spacingAndGlyphs" stroke="#222" stroke-width="0.06" >Enhancer-promoter links</text>
<text x="91.00" y="168.30" font-size="4.8" fill="#222" textLength="4.60" lengthAdjust="spacingAndGlyphs" >36</text>
<text x="18.50" y="178.80" font-size="6.7" fill="#222" textLength="45.50" lengthAdjust="spacingAndGlyphs" stroke="#222" stroke-width="0.06" >OCRs in mouse</text>
<text x="64.60" y="175.80" font-size="4.8" fill="#222" textLength="4.60" lengthAdjust="spacingAndGlyphs" >35</text>
<text x="18.50" y="186.20" font-size="6.7" fill="#222" textLength="82.50" lengthAdjust="spacingAndGlyphs" stroke="#222" stroke-width="0.06" >BACH2 ChIP-Seq in OCILY7</text>
<text x="102.00" y="183.20" font-size="4.8" fill="#222" textLength="4.60" lengthAdjust="spacingAndGlyphs" >39</text>
<text x="18.50" y="199.40" font-size="6.7" fill="#222" textLength="46.10" lengthAdjust="spacingAndGlyphs" stroke="#222" stroke-width="0.06" >BCL6 ChIP-Seq</text>
<text x="65.40" y="196.40" font-size="4.8" fill="#222" textLength="4.60" lengthAdjust="spacingAndGlyphs" >39</text>
<path d="M85.80,191.00 C82.85,191.00 82.85,191.80 82.85,193.00 L82.85,195.50 C82.85,196.90 80.50,197.50 79.90,197.50 C80.50,197.50 82.85,198.10 82.85,199.50 L82.85,202.00 C82.85,203.20 82.85,204.00 85.80,204.00" fill="none" stroke="#222" stroke-width="0.95" />
<text x="86.80" y="195.60" font-size="6.7" fill="#222" textLength="28.40" lengthAdjust="spacingAndGlyphs" stroke="#222" stroke-width="0.06" >in OCILY7</text>
<text x="86.80" y="203.60" font-size="6.7" fill="#222" textLength="20.50" lengthAdjust="spacingAndGlyphs" stroke="#222" stroke-width="0.06" >in GCB</text>
<text x="18.50" y="211.00" font-size="6.7" fill="#222" textLength="76.10" lengthAdjust="spacingAndGlyphs" stroke="#222" stroke-width="0.06" >ChromHMM in Gm12878</text>
<text x="18.50" y="223.70" font-size="6.7" fill="#222" textLength="58.10" lengthAdjust="spacingAndGlyphs" stroke="#222" stroke-width="0.06" >Histone marks in P1</text>
<path d="M84.00,214.80 C81.10,214.80 81.10,215.60 81.10,216.80 L81.10,219.20 C81.10,220.60 78.80,221.20 78.20,221.20 C78.80,221.20 81.10,221.80 81.10,223.20 L81.10,225.40 C81.10,226.60 81.10,227.40 84.00,227.40" fill="none" stroke="#222" stroke-width="0.95" />
<text x="85.60" y="219.30" font-size="6.7" fill="#222" textLength="27.60" lengthAdjust="spacingAndGlyphs" stroke="#222" stroke-width="0.06" >H3K27ac</text>
<text x="85.60" y="227.60" font-size="6.7" fill="#222" textLength="30.40" lengthAdjust="spacingAndGlyphs" stroke="#222" stroke-width="0.06" >H3K4me1</text>
<text x="18.50" y="235.30" font-size="6.7" fill="#222" textLength="66.60" lengthAdjust="spacingAndGlyphs" stroke="#222" stroke-width="0.06" >Super-enhancers in P1</text>
<text x="85.70" y="232.30" font-size="4.8" fill="#222" textLength="4.60" lengthAdjust="spacingAndGlyphs" >25</text>
<text x="18.50" y="248.50" font-size="6.7" fill="#222" textLength="79.30" lengthAdjust="spacingAndGlyphs" stroke="#222" stroke-width="0.06" >Super-enhancers in MM1S</text>
<text x="98.40" y="245.50" font-size="4.8" fill="#222" textLength="11.00" lengthAdjust="spacingAndGlyphs" >41,42</text>
<path d="M117.90,240.00 C115.25,240.00 115.25,240.80 115.25,242.00 L115.25,245.00 C115.25,246.40 113.20,247.00 112.60,247.00 C113.20,247.00 115.25,247.60 115.25,249.00 L115.25,252.00 C115.25,253.20 115.25,254.00 117.90,254.00" fill="none" stroke="#222" stroke-width="0.95" />
<text x="7.80" y="274.50" font-size="11.0" fill="#000" font-weight="bold" textLength="7.40" lengthAdjust="spacingAndGlyphs" stroke="#000" stroke-width="0.35" >B</text>
<text x="75.40" y="275.00" font-size="10.0" fill="#111" textLength="105.80" lengthAdjust="spacingAndGlyphs" stroke="#111" stroke-width="0.2" >RNA-seq PC1 up genes</text>
<line x1="56.20" y1="280.40" x2="56.20" y2="399.10" stroke="#333" stroke-width="1.2" />
<line x1="55.60" y1="398.50" x2="201.30" y2="398.50" stroke="#333" stroke-width="1.2" />
<line x1="52.80" y1="394.20" x2="56.20" y2="394.20" stroke="#333" stroke-width="1.0" />
<text x="49.80" y="397.10" font-size="8.3" fill="#111" text-anchor="end" textLength="20.80" lengthAdjust="spacingAndGlyphs" stroke="#111" stroke-width="0.2" >0.000</text>
<line x1="52.80" y1="373.40" x2="56.20" y2="373.40" stroke="#333" stroke-width="1.0" />
<text x="49.80" y="376.30" font-size="8.3" fill="#111" text-anchor="end" textLength="20.80" lengthAdjust="spacingAndGlyphs" stroke="#111" stroke-width="0.2" >0.005</text>
<line x1="52.80" y1="352.60" x2="56.20" y2="352.60" stroke="#333" stroke-width="1.0" />
<text x="49.80" y="355.50" font-size="8.3" fill="#111" text-anchor="end" textLength="20.80" lengthAdjust="spacingAndGlyphs" stroke="#111" stroke-width="0.2" >0.010</text>
<line x1="52.80" y1="331.80" x2="56.20" y2="331.80" stroke="#333" stroke-width="1.0" />
<text x="49.80" y="334.70" font-size="8.3" fill="#111" text-anchor="end" textLength="20.80" lengthAdjust="spacingAndGlyphs" stroke="#111" stroke-width="0.2" >0.015</text>
<line x1="52.80" y1="311.00" x2="56.20" y2="311.00" stroke="#333" stroke-width="1.0" />
<text x="49.80" y="313.90" font-size="8.3" fill="#111" text-anchor="end" textLength="20.80" lengthAdjust="spacingAndGlyphs" stroke="#111" stroke-width="0.2" >0.020</text>
<line x1="52.80" y1="290.20" x2="56.20" y2="290.20" stroke="#333" stroke-width="1.0" />
<text x="49.80" y="293.10" font-size="8.3" fill="#111" text-anchor="end" textLength="20.80" lengthAdjust="spacingAndGlyphs" stroke="#111" stroke-width="0.2" >0.025</text>
<line x1="74.90" y1="383.30" x2="74.90" y2="389.10" stroke="#333" stroke-width="0.5" stroke-dasharray="0.6 0.6"/>
<line x1="74.90" y1="393.70" x2="74.90" y2="394.30" stroke="#333" stroke-width="0.5" stroke-dasharray="0.6 0.6"/>
<line x1="69.60" y1="383.30" x2="80.20" y2="383.30" stroke="#111" stroke-width="1.2" />
<line x1="69.60" y1="394.30" x2="80.20" y2="394.30" stroke="#333" stroke-width="1.1" />
<rect x="64.30" y="389.10" width="21.2" height="4.60" fill="#ffffff" stroke="#151515" stroke-width="1.1"/>
<line x1="64.30" y1="392.80" x2="85.50" y2="392.80" stroke="#111" stroke-width="1.3" />
<rect x="74.05" y="307.95" width="1.7" height="1.7" fill="#1a1a1a"/>
<rect x="74.05" y="337.35" width="1.7" height="1.7" fill="#1a1a1a"/>
<rect x="74.05" y="358.55" width="1.7" height="1.7" fill="#1a1a1a"/>
<rect x="74.05" y="360.55" width="1.7" height="1.7" fill="#1a1a1a"/>
<rect x="74.05" y="362.55" width="1.7" height="1.7" fill="#1a1a1a"/>
<rect x="74.05" y="364.55" width="1.7" height="1.7" fill="#1a1a1a"/>
<rect x="74.05" y="366.55" width="1.7" height="1.7" fill="#1a1a1a"/>
<rect x="74.05" y="368.55" width="1.7" height="1.7" fill="#1a1a1a"/>
<rect x="74.05" y="370.55" width="1.7" height="1.7" fill="#1a1a1a"/>
<rect x="74.05" y="372.55" width="1.7" height="1.7" fill="#1a1a1a"/>
<rect x="74.05" y="374.55" width="1.7" height="1.7" fill="#1a1a1a"/>
<rect x="74.05" y="376.55" width="1.7" height="1.7" fill="#1a1a1a"/>
<line x1="101.80" y1="380.20" x2="101.80" y2="387.60" stroke="#333" stroke-width="0.5" stroke-dasharray="0.6 0.6"/>
<line x1="101.80" y1="392.50" x2="101.80" y2="394.00" stroke="#333" stroke-width="0.5" stroke-dasharray="0.6 0.6"/>
<line x1="96.50" y1="380.20" x2="107.10" y2="380.20" stroke="#111" stroke-width="1.2" />
<line x1="96.50" y1="394.00" x2="107.10" y2="394.00" stroke="#333" stroke-width="1.1" />
<rect x="91.20" y="387.60" width="21.2" height="4.90" fill="#E2665E" stroke="#151515" stroke-width="1.1"/>
<line x1="91.20" y1="391.00" x2="112.40" y2="391.00" stroke="#111" stroke-width="1.3" />
<rect x="100.95" y="340.55" width="1.7" height="1.7" fill="#1a1a1a"/>
<rect x="100.95" y="350.55" width="1.7" height="1.7" fill="#1a1a1a"/>
<rect x="100.95" y="359.95" width="1.7" height="1.7" fill="#1a1a1a"/>
<rect x="100.95" y="361.85" width="1.7" height="1.7" fill="#1a1a1a"/>
<rect x="100.95" y="363.75" width="1.7" height="1.7" fill="#1a1a1a"/>
<rect x="100.95" y="365.65" width="1.7" height="1.7" fill="#1a1a1a"/>
<rect x="100.95" y="370.65" width="1.7" height="1.7" fill="#1a1a1a"/>
<rect x="100.95" y="372.55" width="1.7" height="1.7" fill="#1a1a1a"/>
<rect x="100.95" y="374.45" width="1.7" height="1.7" fill="#1a1a1a"/>
<line x1="128.50" y1="380.20" x2="128.50" y2="386.10" stroke="#333" stroke-width="0.5" stroke-dasharray="0.6 0.6"/>
<line x1="128.50" y1="392.10" x2="128.50" y2="393.80" stroke="#333" stroke-width="0.5" stroke-dasharray="0.6 0.6"/>
<line x1="123.20" y1="380.20" x2="133.80" y2="380.20" stroke="#111" stroke-width="1.2" />
<line x1="123.20" y1="393.80" x2="133.80" y2="393.80" stroke="#333" stroke-width="1.1" />
<rect x="117.90" y="386.10" width="21.2" height="6.00" fill="#62C6CA" stroke="#151515" stroke-width="1.1"/>
<line x1="117.90" y1="389.10" x2="139.10" y2="389.10" stroke="#111" stroke-width="1.3" />
<rect x="127.65" y="319.55" width="1.7" height="1.7" fill="#1a1a1a"/>
<rect x="127.65" y="347.85" width="1.7" height="1.7" fill="#1a1a1a"/>
<rect x="127.65" y="359.35" width="1.7" height="1.7" fill="#1a1a1a"/>
<rect x="127.65" y="361.35" width="1.7" height="1.7" fill="#1a1a1a"/>
<rect x="127.65" y="363.35" width="1.7" height="1.7" fill="#1a1a1a"/>
<rect x="127.65" y="367.65" width="1.7" height="1.7" fill="#1a1a1a"/>
<rect x="127.65" y="369.65" width="1.7" height="1.7" fill="#1a1a1a"/>
<rect x="127.65" y="371.65" width="1.7" height="1.7" fill="#1a1a1a"/>
<rect x="127.65" y="373.65" width="1.7" height="1.7" fill="#1a1a1a"/>
<line x1="155.30" y1="375.60" x2="155.30" y2="383.40" stroke="#333" stroke-width="0.5" stroke-dasharray="0.6 0.6"/>
<line x1="155.30" y1="390.20" x2="155.30" y2="393.00" stroke="#333" stroke-width="0.5" stroke-dasharray="0.6 0.6"/>
<line x1="150.00" y1="375.60" x2="160.60" y2="375.60" stroke="#111" stroke-width="1.2" />
<line x1="150.00" y1="393.00" x2="160.60" y2="393.00" stroke="#333" stroke-width="1.1" />
<rect x="144.70" y="383.40" width="21.2" height="6.80" fill="#A478D2" stroke="#151515" stroke-width="1.1"/>
<line x1="144.70" y1="388.00" x2="165.90" y2="388.00" stroke="#111" stroke-width="1.3" />
<rect x="154.45" y="283.75" width="1.7" height="1.7" fill="#1a1a1a"/>
<rect x="154.45" y="311.75" width="1.7" height="1.7" fill="#1a1a1a"/>
<rect x="154.45" y="320.65" width="1.7" height="1.7" fill="#1a1a1a"/>
<rect x="154.45" y="328.45" width="1.7" height="1.7" fill="#1a1a1a"/>
<rect x="154.45" y="330.45" width="1.7" height="1.7" fill="#1a1a1a"/>
<rect x="154.45" y="345.95" width="1.7" height="1.7" fill="#1a1a1a"/>
<rect x="154.45" y="361.25" width="1.7" height="1.7" fill="#1a1a1a"/>
<rect x="154.45" y="363.25" width="1.7" height="1.7" fill="#1a1a1a"/>
<rect x="154.45" y="365.25" width="1.7" height="1.7" fill="#1a1a1a"/>
<rect x="154.45" y="367.25" width="1.7" height="1.7" fill="#1a1a1a"/>
<rect x="154.45" y="369.25" width="1.7" height="1.7" fill="#1a1a1a"/>
<rect x="154.45" y="371.25" width="1.7" height="1.7" fill="#1a1a1a"/>
<line x1="182.20" y1="360.80" x2="182.20" y2="376.20" stroke="#333" stroke-width="0.5" stroke-dasharray="0.6 0.6"/>
<line x1="182.20" y1="386.60" x2="182.20" y2="392.00" stroke="#333" stroke-width="0.5" stroke-dasharray="0.6 0.6"/>
<line x1="176.90" y1="360.80" x2="187.50" y2="360.80" stroke="#111" stroke-width="1.2" />
<line x1="176.90" y1="392.00" x2="187.50" y2="392.00" stroke="#333" stroke-width="1.1" />
<rect x="171.60" y="376.20" width="21.2" height="10.40" fill="#96C232" stroke="#151515" stroke-width="1.1"/>
<line x1="171.60" y1="382.90" x2="192.80" y2="382.90" stroke="#111" stroke-width="1.3" />
<rect x="181.35" y="312.85" width="1.7" height="1.7" fill="#1a1a1a"/>
<rect x="181.35" y="314.65" width="1.7" height="1.7" fill="#1a1a1a"/>
<rect x="181.35" y="331.65" width="1.7" height="1.7" fill="#1a1a1a"/>
<rect x="181.35" y="335.15" width="1.7" height="1.7" fill="#1a1a1a"/>
<rect x="181.35" y="342.45" width="1.7" height="1.7" fill="#1a1a1a"/>
<rect x="181.35" y="344.35" width="1.7" height="1.7" fill="#1a1a1a"/>
<rect x="181.35" y="354.55" width="1.7" height="1.7" fill="#1a1a1a"/>
<rect x="181.35" y="357.25" width="1.7" height="1.7" fill="#1a1a1a"/>
<line x1="74.90" y1="398.50" x2="74.90" y2="401.00" stroke="#333" stroke-width="1.0" />
<text x="0" y="0" font-size="8.4" fill="#111" stroke="#111" stroke-width="0.2" text-anchor="end" transform="translate(78.50,407.80) rotate(-45)">NBC</text>
<line x1="101.80" y1="398.50" x2="101.80" y2="401.00" stroke="#333" stroke-width="1.0" />
<text x="0" y="0" font-size="8.4" fill="#111" stroke="#111" stroke-width="0.2" text-anchor="end" transform="translate(105.40,407.80) rotate(-45)">D4lo</text>
<line x1="128.50" y1="398.50" x2="128.50" y2="401.00" stroke="#333" stroke-width="1.0" />
<text x="0" y="0" font-size="8.4" fill="#111" stroke="#111" stroke-width="0.2" text-anchor="end" transform="translate(132.10,407.80) rotate(-45)">P2/CD23+</text>
<line x1="155.30" y1="398.50" x2="155.30" y2="401.00" stroke="#333" stroke-width="1.0" />
<text x="0" y="0" font-size="8.4" fill="#111" stroke="#111" stroke-width="0.2" text-anchor="end" transform="translate(158.90,407.80) rotate(-45)">P2/CD23-</text>
<line x1="182.20" y1="398.50" x2="182.20" y2="401.00" stroke="#333" stroke-width="1.0" />
<text x="0" y="0" font-size="8.4" fill="#111" stroke="#111" stroke-width="0.2" text-anchor="end" transform="translate(185.80,407.80) rotate(-45)">P1</text>
<text x="69.60" y="451.60" font-size="10.0" fill="#111" textLength="119.40" lengthAdjust="spacingAndGlyphs" stroke="#111" stroke-width="0.2" >RNA-seq PC1 down genes</text>
<line x1="56.20" y1="456.80" x2="56.20" y2="576.90" stroke="#333" stroke-width="1.2" />
<line x1="55.60" y1="576.30" x2="201.30" y2="576.30" stroke="#333" stroke-width="1.2" />
<line x1="52.80" y1="571.80" x2="56.20" y2="571.80" stroke="#333" stroke-width="1.0" />
<text x="49.80" y="574.70" font-size="8.3" fill="#111" text-anchor="end" textLength="20.80" lengthAdjust="spacingAndGlyphs" stroke="#111" stroke-width="0.2" >0.000</text>
<line x1="52.80" y1="550.66" x2="56.20" y2="550.66" stroke="#333" stroke-width="1.0" />
<text x="49.80" y="553.56" font-size="8.3" fill="#111" text-anchor="end" textLength="20.80" lengthAdjust="spacingAndGlyphs" stroke="#111" stroke-width="0.2" >0.005</text>
<line x1="52.80" y1="529.52" x2="56.20" y2="529.52" stroke="#333" stroke-width="1.0" />
<text x="49.80" y="532.42" font-size="8.3" fill="#111" text-anchor="end" textLength="20.80" lengthAdjust="spacingAndGlyphs" stroke="#111" stroke-width="0.2" >0.010</text>
<line x1="52.80" y1="508.38" x2="56.20" y2="508.38" stroke="#333" stroke-width="1.0" />
<text x="49.80" y="511.28" font-size="8.3" fill="#111" text-anchor="end" textLength="20.80" lengthAdjust="spacingAndGlyphs" stroke="#111" stroke-width="0.2" >0.015</text>
<line x1="52.80" y1="487.24" x2="56.20" y2="487.24" stroke="#333" stroke-width="1.0" />
<text x="49.80" y="490.14" font-size="8.3" fill="#111" text-anchor="end" textLength="20.80" lengthAdjust="spacingAndGlyphs" stroke="#111" stroke-width="0.2" >0.020</text>
<line x1="52.80" y1="466.10" x2="56.20" y2="466.10" stroke="#333" stroke-width="1.0" />
<text x="49.80" y="469.00" font-size="8.3" fill="#111" text-anchor="end" textLength="20.80" lengthAdjust="spacingAndGlyphs" stroke="#111" stroke-width="0.2" >0.025</text>
<line x1="74.90" y1="516.70" x2="74.90" y2="545.50" stroke="#333" stroke-width="0.5" stroke-dasharray="0.6 0.6"/>
<line x1="74.90" y1="566.20" x2="74.90" y2="572.40" stroke="#333" stroke-width="0.5" stroke-dasharray="0.6 0.6"/>
<line x1="69.60" y1="516.70" x2="80.20" y2="516.70" stroke="#111" stroke-width="1.2" />
<line x1="69.60" y1="572.40" x2="80.20" y2="572.40" stroke="#333" stroke-width="1.1" />
<rect x="64.30" y="545.50" width="21.2" height="20.70" fill="#ffffff" stroke="#151515" stroke-width="1.1"/>
<line x1="64.30" y1="559.50" x2="85.50" y2="559.50" stroke="#111" stroke-width="1.3" />
<rect x="74.05" y="478.15" width="1.7" height="1.7" fill="#1a1a1a"/>
<rect x="74.05" y="501.55" width="1.7" height="1.7" fill="#1a1a1a"/>
<rect x="74.05" y="504.25" width="1.7" height="1.7" fill="#1a1a1a"/>
<rect x="74.05" y="506.95" width="1.7" height="1.7" fill="#1a1a1a"/>
<rect x="74.05" y="510.95" width="1.7" height="1.7" fill="#1a1a1a"/>
<line x1="101.80" y1="554.10" x2="101.80" y2="562.50" stroke="#333" stroke-width="0.5" stroke-dasharray="0.6 0.6"/>
<line x1="101.80" y1="568.40" x2="101.80" y2="571.10" stroke="#333" stroke-width="0.5" stroke-dasharray="0.6 0.6"/>
<line x1="96.50" y1="554.10" x2="107.10" y2="554.10" stroke="#111" stroke-width="1.2" />
<line x1="96.50" y1="571.10" x2="107.10" y2="571.10" stroke="#333" stroke-width="1.1" />
<rect x="91.20" y="562.50" width="21.2" height="5.90" fill="#E2665E" stroke="#151515" stroke-width="1.1"/>
<line x1="91.20" y1="565.20" x2="112.40" y2="565.20" stroke="#111" stroke-width="1.3" />
<rect x="100.95" y="541.95" width="1.7" height="1.7" fill="#1a1a1a"/>
<rect x="100.95" y="543.95" width="1.7" height="1.7" fill="#1a1a1a"/>
<rect x="100.95" y="545.95" width="1.7" height="1.7" fill="#1a1a1a"/>
<rect x="100.95" y="547.95" width="1.7" height="1.7" fill="#1a1a1a"/>
<line x1="128.50" y1="551.40" x2="128.50" y2="561.70" stroke="#333" stroke-width="0.5" stroke-dasharray="0.6 0.6"/>
<line x1="128.50" y1="568.90" x2="128.50" y2="572.40" stroke="#333" stroke-width="0.5" stroke-dasharray="0.6 0.6"/>
<line x1="123.20" y1="551.40" x2="133.80" y2="551.40" stroke="#111" stroke-width="1.2" />
<line x1="123.20" y1="572.40" x2="133.80" y2="572.40" stroke="#333" stroke-width="1.1" />
<rect x="117.90" y="561.70" width="21.2" height="7.20" fill="#62C6CA" stroke="#151515" stroke-width="1.1"/>
<line x1="117.90" y1="565.20" x2="139.10" y2="565.20" stroke="#111" stroke-width="1.3" />
<rect x="127.65" y="535.75" width="1.7" height="1.7" fill="#1a1a1a"/>
<rect x="127.65" y="548.15" width="1.7" height="1.7" fill="#1a1a1a"/>
<rect x="127.65" y="550.05" width="1.7" height="1.7" fill="#1a1a1a"/>
<line x1="155.30" y1="553.00" x2="155.30" y2="561.10" stroke="#333" stroke-width="0.5" stroke-dasharray="0.6 0.6"/>
<line x1="155.30" y1="568.40" x2="155.30" y2="571.00" stroke="#333" stroke-width="0.5" stroke-dasharray="0.6 0.6"/>
<line x1="150.00" y1="553.00" x2="160.60" y2="553.00" stroke="#111" stroke-width="1.2" />
<line x1="150.00" y1="571.00" x2="160.60" y2="571.00" stroke="#333" stroke-width="1.1" />
<rect x="144.70" y="561.10" width="21.2" height="7.30" fill="#A478D2" stroke="#151515" stroke-width="1.1"/>
<line x1="144.70" y1="564.40" x2="165.90" y2="564.40" stroke="#111" stroke-width="1.3" />
<rect x="154.45" y="459.85" width="1.7" height="1.7" fill="#1a1a1a"/>
<rect x="154.45" y="488.15" width="1.7" height="1.7" fill="#1a1a1a"/>
<rect x="154.45" y="497.55" width="1.7" height="1.7" fill="#1a1a1a"/>
<rect x="154.45" y="505.65" width="1.7" height="1.7" fill="#1a1a1a"/>
<rect x="154.45" y="507.65" width="1.7" height="1.7" fill="#1a1a1a"/>
<rect x="154.45" y="523.15" width="1.7" height="1.7" fill="#1a1a1a"/>
<rect x="154.45" y="537.95" width="1.7" height="1.7" fill="#1a1a1a"/>
<rect x="154.45" y="540.05" width="1.7" height="1.7" fill="#1a1a1a"/>
<rect x="154.45" y="542.15" width="1.7" height="1.7" fill="#1a1a1a"/>
<rect x="154.45" y="544.25" width="1.7" height="1.7" fill="#1a1a1a"/>
<rect x="154.45" y="546.35" width="1.7" height="1.7" fill="#1a1a1a"/>
<rect x="154.45" y="548.45" width="1.7" height="1.7" fill="#1a1a1a"/>
<line x1="182.20" y1="557.10" x2="182.20" y2="563.80" stroke="#333" stroke-width="0.5" stroke-dasharray="0.6 0.6"/>
<line x1="182.20" y1="569.20" x2="182.20" y2="571.90" stroke="#333" stroke-width="0.5" stroke-dasharray="0.6 0.6"/>
<line x1="176.90" y1="557.10" x2="187.50" y2="557.10" stroke="#111" stroke-width="1.2" />
<line x1="176.90" y1="571.90" x2="187.50" y2="571.90" stroke="#333" stroke-width="1.1" />
<rect x="171.60" y="563.80" width="21.2" height="5.40" fill="#96C232" stroke="#151515" stroke-width="1.1"/>
<line x1="171.60" y1="567.00" x2="192.80" y2="567.00" stroke="#111" stroke-width="1.3" />
<rect x="181.35" y="541.95" width="1.7" height="1.7" fill="#1a1a1a"/>
<rect x="181.35" y="544.05" width="1.7" height="1.7" fill="#1a1a1a"/>
<rect x="181.35" y="546.15" width="1.7" height="1.7" fill="#1a1a1a"/>
<rect x="181.35" y="548.25" width="1.7" height="1.7" fill="#1a1a1a"/>
<rect x="181.35" y="550.35" width="1.7" height="1.7" fill="#1a1a1a"/>
<rect x="181.35" y="552.45" width="1.7" height="1.7" fill="#1a1a1a"/>
<rect x="181.35" y="554.55" width="1.7" height="1.7" fill="#1a1a1a"/>
<line x1="74.90" y1="576.30" x2="74.90" y2="578.80" stroke="#333" stroke-width="1.0" />
<text x="0" y="0" font-size="8.4" fill="#111" stroke="#111" stroke-width="0.2" text-anchor="end" transform="translate(78.50,585.60) rotate(-45)">NBC</text>
<line x1="101.80" y1="576.30" x2="101.80" y2="578.80" stroke="#333" stroke-width="1.0" />
<text x="0" y="0" font-size="8.4" fill="#111" stroke="#111" stroke-width="0.2" text-anchor="end" transform="translate(105.40,585.60) rotate(-45)">D4lo</text>
<line x1="128.50" y1="576.30" x2="128.50" y2="578.80" stroke="#333" stroke-width="1.0" />
<text x="0" y="0" font-size="8.4" fill="#111" stroke="#111" stroke-width="0.2" text-anchor="end" transform="translate(132.10,585.60) rotate(-45)">P2/CD23+</text>
<line x1="155.30" y1="576.30" x2="155.30" y2="578.80" stroke="#333" stroke-width="1.0" />
<text x="0" y="0" font-size="8.4" fill="#111" stroke="#111" stroke-width="0.2" text-anchor="end" transform="translate(158.90,585.60) rotate(-45)">P2/CD23-</text>
<line x1="182.20" y1="576.30" x2="182.20" y2="578.80" stroke="#333" stroke-width="1.0" />
<text x="0" y="0" font-size="8.4" fill="#111" stroke="#111" stroke-width="0.2" text-anchor="end" transform="translate(185.80,585.60) rotate(-45)">P1</text>
<text x="0" y="0" font-size="9.7" fill="#111" stroke="#111" stroke-width="0.15" text-anchor="middle" transform="translate(23.2,339.70) rotate(-90)" textLength="79.5" lengthAdjust="spacingAndGlyphs">ATAC-seq reads density</text>
<text x="0" y="0" font-size="9.7" fill="#111" stroke="#111" stroke-width="0.15" text-anchor="middle" transform="translate(23.2,516.50) rotate(-90)" textLength="79.5" lengthAdjust="spacingAndGlyphs">ATAC-seq reads density</text>
<text x="217.60" y="274.80" font-size="11.0" fill="#000" font-weight="bold" textLength="8.40" lengthAdjust="spacingAndGlyphs" stroke="#000" stroke-width="0.35" >C</text>
<defs><linearGradient id="rdylbu" x1="0" x2="1" y1="0" y2="0"><stop offset="0" stop-color="#313695"/><stop offset="0.12" stop-color="#4575b4"/><stop offset="0.25" stop-color="#74add1"/><stop offset="0.38" stop-color="#e0f3f8"/><stop offset="0.5" stop-color="#ffffbf"/><stop offset="0.62" stop-color="#fee090"/><stop offset="0.75" stop-color="#f46d43"/><stop offset="0.88" stop-color="#d73027"/><stop offset="1" stop-color="#a50026"/></linearGradient></defs>
<rect x="226.90" y="282.50" width="31.00" height="6.20" fill="url(#rdylbu)" />
<text x="242.40" y="280.50" font-size="2.4" fill="#333" text-anchor="middle" font-weight="bold" >Color Key</text>
<line x1="232.50" y1="288.70" x2="232.50" y2="289.70" stroke="#555" stroke-width="0.3" />
<text x="232.50" y="293.00" font-size="2.0" fill="#444" text-anchor="middle" >-1</text>
<line x1="237.55" y1="288.70" x2="237.55" y2="289.70" stroke="#555" stroke-width="0.3" />
<text x="237.55" y="293.00" font-size="2.0" fill="#444" text-anchor="middle" >-0.5</text>
<line x1="242.60" y1="288.70" x2="242.60" y2="289.70" stroke="#555" stroke-width="0.3" />
<text x="242.60" y="293.00" font-size="2.0" fill="#444" text-anchor="middle" >0</text>
<line x1="247.65" y1="288.70" x2="247.65" y2="289.70" stroke="#555" stroke-width="0.3" />
<text x="247.65" y="293.00" font-size="2.0" fill="#444" text-anchor="middle" >0.5</text>
<line x1="252.70" y1="288.70" x2="252.70" y2="289.70" stroke="#555" stroke-width="0.3" />
<text x="252.70" y="293.00" font-size="2.0" fill="#444" text-anchor="middle" >1</text>
<text x="242.40" y="296.20" font-size="2.0" fill="#555" text-anchor="middle" >Value</text>
<rect x="283.20" y="278.00" width="51.80" height="3.90" fill="#E0736C" />
<text x="300.80" y="272.80" font-size="8.8" fill="#111" textLength="17.20" lengthAdjust="spacingAndGlyphs" stroke="#111" stroke-width="0.2" >D4lo</text>
<rect x="335.00" y="278.00" width="51.20" height="3.90" fill="#5DBDC0" />
<text x="340.50" y="272.80" font-size="8.8" fill="#111" textLength="39.90" lengthAdjust="spacingAndGlyphs" stroke="#111" stroke-width="0.2" >P2/CD23+</text>
<rect x="386.20" y="278.00" width="51.10" height="3.90" fill="#C07CF4" />
<text x="393.40" y="272.80" font-size="8.8" fill="#111" textLength="36.20" lengthAdjust="spacingAndGlyphs" stroke="#111" stroke-width="0.2" >P2/CD23-</text>
<rect x="437.30" y="278.00" width="51.20" height="3.90" fill="#8BAE27" />
<text x="457.40" y="272.80" font-size="8.8" fill="#111" textLength="9.20" lengthAdjust="spacingAndGlyphs" stroke="#111" stroke-width="0.2" >P1</text>
<rect x="271.70" y="284.00" width="9.20" height="42.00" fill="#88AA2A" />
<text x="257.80" y="310.20" font-size="9.4" fill="#8aab2a" textLength="10.60" lengthAdjust="spacingAndGlyphs" stroke="#8aab2a" stroke-width="0.2" >C6</text>
<rect x="271.70" y="326.00" width="9.20" height="11.80" fill="#4C8C33" />
<text x="257.80" y="334.70" font-size="9.4" fill="#4e8c34" textLength="10.60" lengthAdjust="spacingAndGlyphs" stroke="#4e8c34" stroke-width="0.2" >C5</text>
<rect x="271.70" y="337.80" width="9.20" height="13.30" fill="#66BDC2" />
<text x="257.80" y="347.70" font-size="9.4" fill="#6cc0c4" textLength="10.60" lengthAdjust="spacingAndGlyphs" stroke="#6cc0c4" stroke-width="0.2" >C2</text>
<rect x="271.70" y="351.10" width="9.20" height="12.20" fill="#7189E8" />
<text x="257.80" y="360.10" font-size="9.4" fill="#7a8ed8" textLength="10.60" lengthAdjust="spacingAndGlyphs" stroke="#7a8ed8" stroke-width="0.2" >C3</text>
<rect x="271.70" y="363.30" width="9.20" height="10.30" fill="#E0706A" />
<text x="257.80" y="371.60" font-size="9.4" fill="#e07a72" textLength="10.60" lengthAdjust="spacingAndGlyphs" stroke="#e07a72" stroke-width="0.2" >C1</text>
<rect x="271.70" y="373.60" width="9.20" height="13.00" fill="#B574F4" />
<text x="257.80" y="383.70" font-size="9.4" fill="#9a78c8" textLength="10.60" lengthAdjust="spacingAndGlyphs" stroke="#9a78c8" stroke-width="0.2" >C4</text>
<rect x="283.20" y="283.80" width="51.80" height="3.45" fill="#7fa4d0" />
<rect x="283.20" y="284.40" width="51.80" height="0.70" fill="#7b9fc9" />
<rect x="283.20" y="287.20" width="51.80" height="1.75" fill="#90b4d8" />
<rect x="283.20" y="288.90" width="51.80" height="1.75" fill="#a9c9e3" />
<rect x="283.20" y="290.60" width="51.80" height="1.85" fill="#98bcdc" />
<rect x="283.20" y="292.40" width="51.80" height="2.35" fill="#a8cae4" />
<rect x="283.20" y="294.70" width="51.80" height="1.15" fill="#b7d5ea" />
<rect x="283.20" y="295.80" width="51.80" height="2.95" fill="#7298cb" />
<rect x="283.20" y="296.40" width="51.80" height="0.70" fill="#6c90c0" />
<rect x="283.20" y="298.70" width="51.80" height="2.35" fill="#a2c2e0" />
<rect x="283.20" y="301.00" width="51.80" height="3.05" fill="#8cb0d6" />
<rect x="283.20" y="301.60" width="51.80" height="0.70" fill="#85a7cb" />
<rect x="283.20" y="304.00" width="51.80" height="1.65" fill="#b5d3e8" />
<rect x="283.20" y="305.60" width="51.80" height="2.45" fill="#eef3d4" />
<rect x="283.20" y="308.00" width="51.80" height="1.75" fill="#c8e0ee" />
<rect x="283.20" y="309.70" width="51.80" height="5.75" fill="#c5deed" />
<rect x="283.20" y="310.30" width="51.80" height="0.70" fill="#bfd7e5" />
<rect x="283.20" y="312.50" width="51.80" height="0.70" fill="#c8dfee" />
<rect x="283.20" y="313.90" width="51.80" height="0.70" fill="#bfd7e5" />
<rect x="283.20" y="315.40" width="51.80" height="1.25" fill="#dde9f1" />
<rect x="283.20" y="316.60" width="51.80" height="2.35" fill="#a9c8e2" />
<rect x="283.20" y="318.90" width="51.80" height="1.75" fill="#c0daeb" />
<rect x="283.20" y="320.60" width="51.80" height="2.45" fill="#8fb2d6" />
<rect x="283.20" y="323.00" width="51.80" height="1.75" fill="#b3d1e8" />
<rect x="283.20" y="324.70" width="51.80" height="1.15" fill="#cfe3ef" />
<rect x="283.20" y="325.80" width="51.80" height="5.85" fill="#5d85c2" />
<rect x="283.20" y="326.40" width="51.80" height="0.70" fill="#5a81bc" />
<rect x="283.20" y="328.60" width="51.80" height="0.70" fill="#6e91c8" />
<rect x="283.20" y="331.60" width="51.80" height="4.75" fill="#3a4fa0" />
<rect x="283.20" y="332.20" width="51.80" height="0.70" fill="#4559a5" />
<rect x="283.20" y="334.00" width="51.80" height="0.70" fill="#384c9b" />
<rect x="283.20" y="336.30" width="51.80" height="1.75" fill="#6a90c8" />
<rect x="283.20" y="338.00" width="51.80" height="1.85" fill="#b8d6ea" />
<rect x="283.20" y="339.80" width="51.80" height="2.85" fill="#6b92c8" />
<rect x="283.20" y="340.40" width="51.80" height="0.70" fill="#658abe" />
<rect x="283.20" y="342.60" width="51.80" height="2.45" fill="#eef3d0" />
<rect x="283.20" y="345.00" width="51.80" height="2.85" fill="#b0cfe6" />
<rect x="283.20" y="345.60" width="51.80" height="0.70" fill="#b4d1e7" />
<rect x="283.20" y="347.80" width="51.80" height="3.55" fill="#5a82c0" />
<rect x="283.20" y="348.40" width="51.80" height="0.70" fill="#6389c3" />
<rect x="283.20" y="349.80" width="51.80" height="0.70" fill="#577eba" />
<rect x="283.20" y="351.30" width="51.80" height="2.35" fill="#8fb3d8" />
<rect x="283.20" y="353.60" width="51.80" height="1.75" fill="#7aa0cc" />
<rect x="283.20" y="355.30" width="51.80" height="5.25" fill="#4a6cb5" />
<rect x="283.20" y="355.90" width="51.80" height="0.70" fill="#5d7bbc" />
<rect x="283.20" y="357.30" width="51.80" height="0.70" fill="#4768af" />
<rect x="283.20" y="358.70" width="51.80" height="0.70" fill="#4666ab" />
<rect x="283.20" y="360.50" width="51.80" height="1.85" fill="#6f98cc" />
<rect x="283.20" y="362.30" width="51.80" height="1.15" fill="#9dc4e4" />
<rect x="283.20" y="363.40" width="51.80" height="2.95" fill="#a50026" />
<rect x="283.20" y="364.00" width="51.80" height="0.70" fill="#ae1a3c" />
<rect x="283.20" y="366.30" width="51.80" height="1.75" fill="#f5b070" />
<rect x="283.20" y="368.00" width="51.80" height="1.85" fill="#fbe0a0" />
<rect x="283.20" y="369.80" width="51.80" height="2.25" fill="#f0a060" />
<rect x="283.20" y="372.00" width="51.80" height="1.85" fill="#f7f0c8" />
<rect x="283.20" y="373.80" width="51.80" height="1.75" fill="#d0e6f0" />
<rect x="283.20" y="375.50" width="51.80" height="2.35" fill="#b8d6ea" />
<rect x="283.20" y="377.80" width="51.80" height="2.35" fill="#c8e2ef" />
<rect x="283.20" y="380.10" width="51.80" height="2.35" fill="#a8cbe4" />
<rect x="283.20" y="382.40" width="51.80" height="4.25" fill="#c4dfee" />
<rect x="283.20" y="383.00" width="51.80" height="0.70" fill="#c7e0ef" />
<rect x="283.20" y="384.80" width="51.80" height="0.70" fill="#bad3e2" />
<rect x="335.00" y="283.80" width="51.20" height="2.85" fill="#c6deed" />
<rect x="335.00" y="284.40" width="51.20" height="0.70" fill="#cbe1ee" />
<rect x="335.00" y="286.60" width="51.20" height="2.35" fill="#c0daeb" />
<rect x="335.00" y="288.90" width="51.20" height="1.25" fill="#a4c6e2" />
<rect x="335.00" y="290.10" width="51.20" height="5.75" fill="#bcd8ea" />
<rect x="335.00" y="290.70" width="51.20" height="0.70" fill="#c0daeb" />
<rect x="335.00" y="292.10" width="51.20" height="0.70" fill="#b6d1e2" />
<rect x="335.00" y="293.90" width="51.20" height="0.70" fill="#c3dcec" />
<rect x="335.00" y="295.80" width="51.20" height="3.55" fill="#eef3d2" />
<rect x="335.00" y="296.40" width="51.20" height="0.70" fill="#eff3d4" />
<rect x="335.00" y="299.30" width="51.20" height="1.75" fill="#d8e8f0" />
<rect x="335.00" y="301.00" width="51.20" height="2.95" fill="#c6deec" />
<rect x="335.00" y="301.60" width="51.20" height="0.70" fill="#cbe1ed" />
<rect x="335.00" y="303.90" width="51.20" height="2.35" fill="#e2eef2" />
<rect x="335.00" y="306.20" width="51.20" height="1.85" fill="#a0c2e0" />
<rect x="335.00" y="308.00" width="51.20" height="4.05" fill="#bcd8ea" />
<rect x="335.00" y="308.60" width="51.20" height="0.70" fill="#c3dcec" />
<rect x="335.00" y="310.40" width="51.20" height="0.70" fill="#b2cdde" />
<rect x="335.00" y="312.00" width="51.20" height="2.95" fill="#a5c6e2" />
<rect x="335.00" y="312.60" width="51.20" height="0.70" fill="#9cbcd6" />
<rect x="335.00" y="314.90" width="51.20" height="1.75" fill="#8cb0d6" />
<rect x="335.00" y="316.60" width="51.20" height="2.35" fill="#98bada" />
<rect x="335.00" y="318.90" width="51.20" height="2.35" fill="#a8c8e2" />
<rect x="335.00" y="321.20" width="51.20" height="1.85" fill="#b0cee6" />
<rect x="335.00" y="323.00" width="51.20" height="2.85" fill="#7ea4d0" />
<rect x="335.00" y="323.60" width="51.20" height="0.70" fill="#8badd4" />
<rect x="335.00" y="325.80" width="51.20" height="3.55" fill="#f5f6d0" />
<rect x="335.00" y="326.40" width="51.20" height="0.70" fill="#e8e9c5" />
<rect x="335.00" y="329.30" width="51.20" height="1.75" fill="#fbf0c0" />
<rect x="335.00" y="331.00" width="51.20" height="1.25" fill="#c0d8ea" />
<rect x="335.00" y="332.20" width="51.20" height="1.15" fill="#e88040" />
<rect x="335.00" y="333.30" width="51.20" height="4.25" fill="#f8dc98" />
<rect x="335.00" y="333.90" width="51.20" height="0.70" fill="#f8de9e" />
<rect x="335.00" y="336.10" width="51.20" height="0.70" fill="#ebd190" />
<rect x="335.00" y="337.50" width="51.20" height="1.15" fill="#c02030" />
<rect x="335.00" y="338.60" width="51.20" height="10.45" fill="#a0002a" />
<rect x="335.00" y="339.20" width="51.20" height="0.70" fill="#980027" />
<rect x="335.00" y="341.00" width="51.20" height="0.70" fill="#a91a40" />
<rect x="335.00" y="343.20" width="51.20" height="0.70" fill="#a50f36" />
<rect x="335.00" y="345.40" width="51.20" height="0.70" fill="#a50f36" />
<rect x="335.00" y="347.20" width="51.20" height="0.70" fill="#a91a40" />
<rect x="335.00" y="349.00" width="51.20" height="1.75" fill="#d03028" />
<rect x="335.00" y="350.70" width="51.20" height="1.85" fill="#e06038" />
<rect x="335.00" y="352.50" width="51.20" height="1.75" fill="#c02828" />
<rect x="335.00" y="354.20" width="51.20" height="2.95" fill="#c83028" />
<rect x="335.00" y="354.80" width="51.20" height="0.70" fill="#c22e26" />
<rect x="335.00" y="357.10" width="51.20" height="1.15" fill="#f8e8b0" />
<rect x="335.00" y="358.20" width="51.20" height="1.85" fill="#f4c080" />
<rect x="335.00" y="360.00" width="51.20" height="2.85" fill="#eea060" />
<rect x="335.00" y="360.60" width="51.20" height="0.70" fill="#efa569" />
<rect x="335.00" y="362.80" width="51.20" height="1.45" fill="#f8d090" />
<rect x="335.00" y="364.20" width="51.20" height="2.15" fill="#d8ecf0" />
<rect x="335.00" y="366.30" width="51.20" height="1.15" fill="#f0d8a8" />
<rect x="335.00" y="367.40" width="51.20" height="1.85" fill="#fdf5c0" />
<rect x="335.00" y="369.20" width="51.20" height="1.15" fill="#f8e0a0" />
<rect x="335.00" y="370.30" width="51.20" height="1.75" fill="#e06040" />
<rect x="335.00" y="372.00" width="51.20" height="1.85" fill="#d03030" />
<rect x="335.00" y="373.80" width="51.20" height="1.75" fill="#f0f4d8" />
<rect x="335.00" y="375.50" width="51.20" height="2.35" fill="#d0e6f0" />
<rect x="335.00" y="377.80" width="51.20" height="2.75" fill="#c0dbec" />
<rect x="335.00" y="378.40" width="51.20" height="0.70" fill="#b6d0e0" />
<rect x="335.00" y="380.50" width="51.20" height="1.55" fill="#cce2ef" />
<rect x="335.00" y="382.00" width="51.20" height="2.05" fill="#bcd8ea" />
<rect x="335.00" y="384.00" width="51.20" height="2.65" fill="#c6deed" />
<rect x="335.00" y="384.60" width="51.20" height="0.70" fill="#c9dfee" />
<rect x="386.20" y="283.80" width="51.10" height="2.85" fill="#f3f6dc" />
<rect x="386.20" y="284.40" width="51.10" height="0.70" fill="#f3f6de" />
<rect x="386.20" y="286.60" width="51.10" height="2.35" fill="#e8f2ec" />
<rect x="386.20" y="288.90" width="51.10" height="4.65" fill="#e5f0f0" />
<rect x="386.20" y="289.50" width="51.10" height="0.70" fill="#e7f1f1" />
<rect x="386.20" y="291.30" width="51.10" height="0.70" fill="#d9e4e4" />
<rect x="386.20" y="293.50" width="51.10" height="2.95" fill="#fbf6c8" />
<rect x="386.20" y="294.10" width="51.10" height="0.70" fill="#f3eec2" />
<rect x="386.20" y="296.40" width="51.10" height="1.75" fill="#e8f2ee" />
<rect x="386.20" y="298.10" width="51.10" height="2.45" fill="#cfe4ef" />
<rect x="386.20" y="300.50" width="51.10" height="3.45" fill="#e0eef2" />
<rect x="386.20" y="301.10" width="51.10" height="0.70" fill="#d9e6ea" />
<rect x="386.20" y="303.90" width="51.10" height="5.85" fill="#b8d6ea" />
<rect x="386.20" y="304.50" width="51.10" height="0.70" fill="#b2cfe2" />
<rect x="386.20" y="306.70" width="51.10" height="0.70" fill="#bcd8eb" />
<rect x="386.20" y="308.50" width="51.10" height="0.70" fill="#bfdaec" />
<rect x="386.20" y="309.70" width="51.10" height="2.35" fill="#c8e0ee" />
<rect x="386.20" y="312.00" width="51.10" height="3.45" fill="#dcecf2" />
<rect x="386.20" y="312.60" width="51.10" height="0.70" fill="#d5e4ea" />
<rect x="386.20" y="314.00" width="51.10" height="0.70" fill="#deedf2" />
<rect x="386.20" y="315.40" width="51.10" height="1.25" fill="#eef4e4" />
<rect x="386.20" y="316.60" width="51.10" height="2.95" fill="#fbf5c4" />
<rect x="386.20" y="317.20" width="51.10" height="0.70" fill="#fbf6ca" />
<rect x="386.20" y="319.50" width="51.10" height="1.75" fill="#eef3e0" />
<rect x="386.20" y="321.20" width="51.10" height="4.15" fill="#fbe8a8" />
<rect x="386.20" y="321.80" width="51.10" height="0.70" fill="#fbe9ad" />
<rect x="386.20" y="323.20" width="51.10" height="0.70" fill="#fbeab1" />
<rect x="386.20" y="325.30" width="51.10" height="1.15" fill="#f0b070" />
<rect x="386.20" y="326.40" width="51.10" height="2.95" fill="#fdf6c8" />
<rect x="386.20" y="327.00" width="51.10" height="0.70" fill="#f5eec2" />
<rect x="386.20" y="329.30" width="51.10" height="1.75" fill="#f8f4d8" />
<rect x="386.20" y="331.00" width="51.10" height="1.85" fill="#e06030" />
<rect x="386.20" y="332.80" width="51.10" height="1.25" fill="#f6d8a0" />
<rect x="386.20" y="334.00" width="51.10" height="1.75" fill="#f3e8c0" />
<rect x="386.20" y="335.70" width="51.10" height="1.85" fill="#b0d0e8" />
<rect x="386.20" y="337.50" width="51.10" height="5.25" fill="#fdf8cc" />
<rect x="386.20" y="338.10" width="51.10" height="0.70" fill="#f0ebc1" />
<rect x="386.20" y="339.90" width="51.10" height="0.70" fill="#fdf8d1" />
<rect x="386.20" y="341.30" width="51.10" height="0.70" fill="#fdf8d1" />
<rect x="386.20" y="342.70" width="51.10" height="4.65" fill="#dcecf0" />
<rect x="386.20" y="343.30" width="51.10" height="0.70" fill="#deedf0" />
<rect x="386.20" y="345.50" width="51.10" height="0.70" fill="#d5e4e8" />
<rect x="386.20" y="347.30" width="51.10" height="1.15" fill="#b8d4e8" />
<rect x="386.20" y="348.40" width="51.10" height="2.35" fill="#fdf6c8" />
<rect x="386.20" y="350.70" width="51.10" height="1.85" fill="#f09050" />
<rect x="386.20" y="352.50" width="51.10" height="2.35" fill="#f8c880" />
<rect x="386.20" y="354.80" width="51.10" height="2.85" fill="#fbd890" />
<rect x="386.20" y="355.40" width="51.10" height="0.70" fill="#f3d18b" />
<rect x="386.20" y="357.60" width="51.10" height="1.85" fill="#c82828" />
<rect x="386.20" y="359.40" width="51.10" height="1.75" fill="#f08850" />
<rect x="386.20" y="361.10" width="51.10" height="1.75" fill="#c02028" />
<rect x="386.20" y="362.80" width="51.10" height="1.25" fill="#f8f0d0" />
<rect x="386.20" y="364.00" width="51.10" height="1.75" fill="#d8ecf0" />
<rect x="386.20" y="365.70" width="51.10" height="1.75" fill="#4a6cb8" />
<rect x="386.20" y="367.40" width="51.10" height="1.25" fill="#e06040" />
<rect x="386.20" y="368.60" width="51.10" height="5.25" fill="#fbd898" />
<rect x="386.20" y="369.20" width="51.10" height="0.70" fill="#f3d193" />
<rect x="386.20" y="371.00" width="51.10" height="0.70" fill="#fbdca2" />
<rect x="386.20" y="373.80" width="51.10" height="12.85" fill="#9a0028" />
<rect x="386.20" y="374.40" width="51.10" height="0.70" fill="#920026" />
<rect x="386.20" y="375.80" width="51.10" height="0.70" fill="#a00f34" />
<rect x="386.20" y="377.20" width="51.10" height="0.70" fill="#920026" />
<rect x="386.20" y="378.60" width="51.10" height="0.70" fill="#920026" />
<rect x="386.20" y="380.40" width="51.10" height="0.70" fill="#a41a3e" />
<rect x="386.20" y="381.80" width="51.10" height="0.70" fill="#a00f34" />
<rect x="386.20" y="384.00" width="51.10" height="0.70" fill="#a41a3e" />
<rect x="386.20" y="385.40" width="51.10" height="0.70" fill="#a00f34" />
<rect x="437.30" y="283.80" width="51.20" height="37.45" fill="#960028" />
<rect x="437.30" y="284.40" width="51.20" height="0.70" fill="#8e0026" />
<rect x="437.30" y="286.60" width="51.20" height="0.70" fill="#8e0026" />
<rect x="437.30" y="288.40" width="51.20" height="0.70" fill="#a11a3e" />
<rect x="437.30" y="289.80" width="51.20" height="0.70" fill="#910026" />
<rect x="437.30" y="291.20" width="51.20" height="0.70" fill="#a11a3e" />
<rect x="437.30" y="293.00" width="51.20" height="0.70" fill="#8e0026" />
<rect x="437.30" y="295.20" width="51.20" height="0.70" fill="#910026" />
<rect x="437.30" y="297.00" width="51.20" height="0.70" fill="#a11a3e" />
<rect x="437.30" y="299.20" width="51.20" height="0.70" fill="#9c0f34" />
<rect x="437.30" y="300.60" width="51.20" height="0.70" fill="#8e0026" />
<rect x="437.30" y="302.40" width="51.20" height="0.70" fill="#a11a3e" />
<rect x="437.30" y="304.20" width="51.20" height="0.70" fill="#9c0f34" />
<rect x="437.30" y="305.60" width="51.20" height="0.70" fill="#9c0f34" />
<rect x="437.30" y="307.00" width="51.20" height="0.70" fill="#a11a3e" />
<rect x="437.30" y="308.80" width="51.20" height="0.70" fill="#910026" />
<rect x="437.30" y="311.00" width="51.20" height="0.70" fill="#a11a3e" />
<rect x="437.30" y="312.40" width="51.20" height="0.70" fill="#910026" />
<rect x="437.30" y="314.20" width="51.20" height="0.70" fill="#910026" />
<rect x="437.30" y="316.00" width="51.20" height="0.70" fill="#a11a3e" />
<rect x="437.30" y="317.80" width="51.20" height="0.70" fill="#910026" />
<rect x="437.30" y="319.20" width="51.20" height="0.70" fill="#8e0026" />
<rect x="437.30" y="321.20" width="51.20" height="4.65" fill="#a81c2c" />
<rect x="437.30" y="321.80" width="51.20" height="0.70" fill="#ad2938" />
<rect x="437.30" y="323.60" width="51.20" height="0.70" fill="#ad2938" />
<rect x="437.30" y="325.80" width="51.20" height="3.55" fill="#b82828" />
<rect x="437.30" y="326.40" width="51.20" height="0.70" fill="#bf3e3e" />
<rect x="437.30" y="327.80" width="51.20" height="0.70" fill="#bc3434" />
<rect x="437.30" y="329.30" width="51.20" height="1.15" fill="#e87040" />
<rect x="437.30" y="330.40" width="51.20" height="1.25" fill="#c02828" />
<rect x="437.30" y="331.60" width="51.20" height="1.75" fill="#f4a060" />
<rect x="437.30" y="333.30" width="51.20" height="0.75" fill="#c83028" />
<rect x="437.30" y="334.00" width="51.20" height="3.55" fill="#c03828" />
<rect x="437.30" y="334.60" width="51.20" height="0.70" fill="#b63526" />
<rect x="437.30" y="336.00" width="51.20" height="0.70" fill="#c34334" />
<rect x="437.30" y="337.50" width="51.20" height="2.35" fill="#90b8dc" />
<rect x="437.30" y="339.80" width="51.20" height="2.95" fill="#c8e0ee" />
<rect x="437.30" y="340.40" width="51.20" height="0.70" fill="#cbe1ef" />
<rect x="437.30" y="342.70" width="51.20" height="2.35" fill="#80a8d0" />
<rect x="437.30" y="345.00" width="51.20" height="1.75" fill="#c0daea" />
<rect x="437.30" y="346.70" width="51.20" height="4.65" fill="#fdf6c8" />
<rect x="437.30" y="347.30" width="51.20" height="0.70" fill="#f0e9be" />
<rect x="437.30" y="348.70" width="51.20" height="0.70" fill="#f0e9be" />
<rect x="437.30" y="351.30" width="51.20" height="4.75" fill="#98bcdc" />
<rect x="437.30" y="351.90" width="51.20" height="0.70" fill="#93b6d5" />
<rect x="437.30" y="354.10" width="51.20" height="0.70" fill="#a2c3df" />
<rect x="437.30" y="356.00" width="51.20" height="4.55" fill="#fdf5c8" />
<rect x="437.30" y="356.60" width="51.20" height="0.70" fill="#fdf5cb" />
<rect x="437.30" y="358.80" width="51.20" height="0.70" fill="#f0e8be" />
<rect x="437.30" y="360.50" width="51.20" height="1.85" fill="#80a8d4" />
<rect x="437.30" y="362.30" width="51.20" height="3.45" fill="#a8c8e2" />
<rect x="437.30" y="362.90" width="51.20" height="0.70" fill="#b1cde5" />
<rect x="437.30" y="365.70" width="51.20" height="1.75" fill="#f0a060" />
<rect x="437.30" y="367.40" width="51.20" height="4.65" fill="#3c58a8" />
<rect x="437.30" y="368.00" width="51.20" height="0.70" fill="#5069b1" />
<rect x="437.30" y="369.80" width="51.20" height="0.70" fill="#5069b1" />
<rect x="437.30" y="372.00" width="51.20" height="1.85" fill="#6a90c8" />
<rect x="437.30" y="373.80" width="51.20" height="4.05" fill="#c8e0ee" />
<rect x="437.30" y="374.40" width="51.20" height="0.70" fill="#c2d9e6" />
<rect x="437.30" y="376.60" width="51.20" height="0.70" fill="#c2d9e6" />
<rect x="437.30" y="377.80" width="51.20" height="4.65" fill="#d0e6f0" />
<rect x="437.30" y="378.40" width="51.20" height="0.70" fill="#c5dae4" />
<rect x="437.30" y="379.80" width="51.20" height="0.70" fill="#c5dae4" />
<rect x="437.30" y="382.40" width="51.20" height="4.25" fill="#d8eaf2" />
<rect x="437.30" y="383.00" width="51.20" height="0.70" fill="#daebf2" />
<rect x="437.30" y="384.40" width="51.20" height="0.70" fill="#cddee5" />
<rect x="437.30" y="288.00" width="51.20" height="0.90" fill="#a4102e" />
<rect x="437.30" y="292.50" width="51.20" height="0.90" fill="#a4102e" />
<rect x="437.30" y="297.00" width="51.20" height="0.90" fill="#a4102e" />
<rect x="437.30" y="303.50" width="51.20" height="0.90" fill="#a4102e" />
<rect x="437.30" y="309.00" width="51.20" height="0.90" fill="#a4102e" />
<rect x="437.30" y="313.50" width="51.20" height="0.90" fill="#a4102e" />
<rect x="437.30" y="318.50" width="51.20" height="0.90" fill="#a4102e" />
<text x="219.20" y="403.20" font-size="11.0" fill="#000" font-weight="bold" textLength="8.30" lengthAdjust="spacingAndGlyphs" stroke="#000" stroke-width="0.35" >D</text>
<line x1="262.20" y1="405.20" x2="262.20" y2="515.40" stroke="#333" stroke-width="1.1" />
<line x1="261.60" y1="515.40" x2="504.10" y2="515.40" stroke="#222" stroke-width="1.3" />
<line x1="258.80" y1="514.00" x2="262.20" y2="514.00" stroke="#333" stroke-width="0.9" />
<text x="255.60" y="516.80" font-size="7.9" fill="#1a1a1a" text-anchor="end" stroke="#1a1a1a" stroke-width="0.12" >0</text>
<line x1="258.80" y1="492.90" x2="262.20" y2="492.90" stroke="#333" stroke-width="0.9" />
<text x="255.60" y="495.70" font-size="7.9" fill="#1a1a1a" text-anchor="end" stroke="#1a1a1a" stroke-width="0.12" >20</text>
<line x1="258.80" y1="471.80" x2="262.20" y2="471.80" stroke="#333" stroke-width="0.9" />
<text x="255.60" y="474.60" font-size="7.9" fill="#1a1a1a" text-anchor="end" stroke="#1a1a1a" stroke-width="0.12" >40</text>
<line x1="258.80" y1="450.70" x2="262.20" y2="450.70" stroke="#333" stroke-width="0.9" />
<text x="255.60" y="453.50" font-size="7.9" fill="#1a1a1a" text-anchor="end" stroke="#1a1a1a" stroke-width="0.12" >60</text>
<line x1="258.80" y1="429.60" x2="262.20" y2="429.60" stroke="#333" stroke-width="0.9" />
<text x="255.60" y="432.40" font-size="7.9" fill="#1a1a1a" text-anchor="end" stroke="#1a1a1a" stroke-width="0.12" >80</text>
<line x1="258.80" y1="408.50" x2="262.20" y2="408.50" stroke="#333" stroke-width="0.9" />
<text x="255.60" y="411.30" font-size="7.9" fill="#1a1a1a" text-anchor="end" stroke="#1a1a1a" stroke-width="0.12" >100</text>
<text x="0" y="0" font-size="8.0" fill="#1a1a1a" text-anchor="middle" transform="translate(235.0,460.2) rotate(-90)" textLength="99.7" lengthAdjust="spacingAndGlyphs">-log10(BH adjusted p-value)</text>
<rect x="271.20" y="508.83" width="4.88" height="5.17" fill="#E36C6A" fill-opacity="0.95"/>
<rect x="276.08" y="493.53" width="4.88" height="20.47" fill="#60BAC2" fill-opacity="0.95"/>
<rect x="280.96" y="500.39" width="4.88" height="13.61" fill="#6C86D2" fill-opacity="0.95"/>
<rect x="290.72" y="508.83" width="4.88" height="5.17" fill="#3E8A2E" fill-opacity="0.95"/>
<rect x="295.60" y="507.99" width="4.88" height="6.01" fill="#8FB534" fill-opacity="0.95"/>
<rect x="305.23" y="510.41" width="4.88" height="3.59" fill="#E36C6A" fill-opacity="0.95"/>
<rect x="324.75" y="508.83" width="4.88" height="5.17" fill="#3E8A2E" fill-opacity="0.95"/>
<rect x="329.63" y="440.15" width="4.88" height="73.85" fill="#8FB534" fill-opacity="0.95"/>
<rect x="339.26" y="506.19" width="4.88" height="7.81" fill="#E36C6A" fill-opacity="0.95"/>
<rect x="344.14" y="511.26" width="4.88" height="2.74" fill="#60BAC2" fill-opacity="0.95"/>
<rect x="349.02" y="509.99" width="4.88" height="4.01" fill="#6C86D2" fill-opacity="0.95"/>
<rect x="358.78" y="511.89" width="4.88" height="2.11" fill="#3E8A2E" fill-opacity="0.95"/>
<rect x="363.66" y="504.19" width="4.88" height="9.81" fill="#8FB534" fill-opacity="0.95"/>
<rect x="378.17" y="511.57" width="4.88" height="2.43" fill="#60BAC2" fill-opacity="0.95"/>
<rect x="383.05" y="512.95" width="4.88" height="1.05" fill="#6C86D2" fill-opacity="0.95"/>
<rect x="426.84" y="505.35" width="4.88" height="8.65" fill="#3E8A2E" fill-opacity="0.95"/>
<rect x="431.72" y="415.88" width="4.88" height="98.11" fill="#8FB534" fill-opacity="0.95"/>
<rect x="465.75" y="509.04" width="4.88" height="4.96" fill="#8FB534" fill-opacity="0.95"/>
<rect x="480.26" y="500.92" width="4.88" height="13.08" fill="#60BAC2" fill-opacity="0.95"/>
<rect x="485.14" y="462.41" width="4.88" height="51.59" fill="#6C86D2" fill-opacity="0.95"/>
<rect x="494.90" y="512.42" width="4.88" height="1.58" fill="#3E8A2E" fill-opacity="0.95"/>
<line x1="262.20" y1="511.90" x2="513.30" y2="511.90" stroke="#C8345A" stroke-width="1.1" stroke-opacity="0.9"/>
<text x="285.80" y="525.60" font-size="8.2" fill="#1a1a1a" text-anchor="middle" stroke="#1a1a1a" stroke-width="0.15" >BACH2</text>
<text x="319.80" y="525.60" font-size="8.2" fill="#1a1a1a" text-anchor="middle" stroke="#1a1a1a" stroke-width="0.15" >PU.1:IRF8</text>
<text x="353.80" y="525.60" font-size="8.2" fill="#1a1a1a" text-anchor="middle" stroke="#1a1a1a" stroke-width="0.15" >SPIB</text>
<text x="387.80" y="525.60" font-size="8.2" fill="#1a1a1a" text-anchor="middle" stroke="#1a1a1a" stroke-width="0.15" >PAX5</text>
<text x="421.80" y="525.60" font-size="8.2" fill="#1a1a1a" text-anchor="middle" stroke="#1a1a1a" stroke-width="0.15" >IRF4</text>
<text x="455.80" y="525.60" font-size="8.2" fill="#1a1a1a" text-anchor="middle" stroke="#1a1a1a" stroke-width="0.15" >PRDM1</text>
<text x="489.80" y="525.60" font-size="8.2" fill="#1a1a1a" text-anchor="middle" stroke="#1a1a1a" stroke-width="0.15" >STAT6</text>
<rect x="470.70" y="416.00" width="4.00" height="3.80" fill="#E36C6A" />
<text x="477.90" y="420.20" font-size="7.9" fill="#1a1a1a" textLength="9.30" lengthAdjust="spacingAndGlyphs" stroke="#1a1a1a" stroke-width="0.1" >C1</text>
<rect x="493.40" y="416.00" width="4.00" height="3.80" fill="#9A6CD0" />
<text x="500.60" y="420.20" font-size="7.9" fill="#1a1a1a" textLength="9.30" lengthAdjust="spacingAndGlyphs" stroke="#1a1a1a" stroke-width="0.1" >C4</text>
<rect x="470.70" y="427.45" width="4.00" height="3.80" fill="#60BAC2" />
<text x="477.90" y="431.65" font-size="7.9" fill="#1a1a1a" textLength="9.30" lengthAdjust="spacingAndGlyphs" stroke="#1a1a1a" stroke-width="0.1" >C2</text>
<rect x="493.40" y="427.45" width="4.00" height="3.80" fill="#3E8A2E" />
<text x="500.60" y="431.65" font-size="7.9" fill="#1a1a1a" textLength="9.30" lengthAdjust="spacingAndGlyphs" stroke="#1a1a1a" stroke-width="0.1" >C5</text>
<rect x="470.70" y="438.90" width="4.00" height="3.80" fill="#6C86D2" />
<text x="477.90" y="443.10" font-size="7.9" fill="#1a1a1a" textLength="9.30" lengthAdjust="spacingAndGlyphs" stroke="#1a1a1a" stroke-width="0.1" >C3</text>
<rect x="493.40" y="438.90" width="4.00" height="3.80" fill="#8FB534" />
<text x="500.60" y="443.10" font-size="7.9" fill="#1a1a1a" textLength="9.30" lengthAdjust="spacingAndGlyphs" stroke="#1a1a1a" stroke-width="0.1" >C6</text>
<text x="218.80" y="544.50" font-size="11.4" fill="#000" font-weight="bold" textLength="7.10" lengthAdjust="spacingAndGlyphs" stroke="#000" stroke-width="0.35" >E</text>
<text x="264.20" y="553.20" font-size="10.0" fill="#111" textLength="210.70" lengthAdjust="spacingAndGlyphs" stroke="#111" stroke-width="0.2" >Enrichment in genes expressed in Plasma Cells</text>
<line x1="261.80" y1="564.80" x2="261.80" y2="652.60" stroke="#333" stroke-width="1.1" />
<line x1="261.20" y1="652.30" x2="475.90" y2="652.30" stroke="#222" stroke-width="1.3" />
<line x1="259.20" y1="568.00" x2="261.80" y2="568.00" stroke="#333" stroke-width="0.9" />
<text x="255.00" y="570.90" font-size="8.6" fill="#111" text-anchor="end" textLength="10.10" lengthAdjust="spacingAndGlyphs" stroke="#111" stroke-width="0.2" >C1</text>
<rect x="263.50" y="561.80" width="1.60" height="12.00" fill="#eda8a4" />
<line x1="259.20" y1="582.80" x2="261.80" y2="582.80" stroke="#333" stroke-width="0.9" />
<text x="255.00" y="585.70" font-size="8.6" fill="#111" text-anchor="end" textLength="10.10" lengthAdjust="spacingAndGlyphs" stroke="#111" stroke-width="0.2" >C2</text>
<rect x="263.50" y="576.60" width="1.60" height="12.00" fill="#a8d8dc" />
<line x1="259.20" y1="597.60" x2="261.80" y2="597.60" stroke="#333" stroke-width="0.9" />
<text x="255.00" y="600.50" font-size="8.6" fill="#111" text-anchor="end" textLength="10.10" lengthAdjust="spacingAndGlyphs" stroke="#111" stroke-width="0.2" >C3</text>
<rect x="263.50" y="591.40" width="1.60" height="12.00" fill="#b0bce8" />
<line x1="259.20" y1="612.40" x2="261.80" y2="612.40" stroke="#333" stroke-width="0.9" />
<text x="255.00" y="615.30" font-size="8.6" fill="#111" text-anchor="end" textLength="10.10" lengthAdjust="spacingAndGlyphs" stroke="#111" stroke-width="0.2" >C4</text>
<rect x="264.00" y="606.20" width="1.20" height="12.00" fill="#9a70d0" />
<line x1="259.20" y1="627.20" x2="261.80" y2="627.20" stroke="#333" stroke-width="0.9" />
<text x="255.00" y="630.10" font-size="8.6" fill="#111" text-anchor="end" textLength="10.10" lengthAdjust="spacingAndGlyphs" stroke="#111" stroke-width="0.2" >C5</text>
<rect x="264.30" y="621.40" width="26.15" height="11.4" fill="#4A8A30" stroke="#4A8A30" stroke-width="0.4"/>
<line x1="259.20" y1="642.20" x2="261.80" y2="642.20" stroke="#333" stroke-width="0.9" />
<text x="255.00" y="645.10" font-size="8.6" fill="#111" text-anchor="end" textLength="10.10" lengthAdjust="spacingAndGlyphs" stroke="#111" stroke-width="0.2" >C6</text>
<rect x="264.30" y="636.40" width="212.34" height="11.4" fill="#8DB033" stroke="#8DB033" stroke-width="0.4"/>
<line x1="277.30" y1="558.20" x2="277.30" y2="652.00" stroke="#C8345A" stroke-width="1.1" />
<line x1="264.30" y1="652.30" x2="264.30" y2="655.00" stroke="#333" stroke-width="0.9" />
<text x="264.30" y="665.60" font-size="8.6" fill="#111" text-anchor="middle" stroke="#111" stroke-width="0.2" >0</text>
<line x1="316.60" y1="652.30" x2="316.60" y2="655.00" stroke="#333" stroke-width="0.9" />
<text x="316.60" y="665.60" font-size="8.6" fill="#111" text-anchor="middle" stroke="#111" stroke-width="0.2" >5</text>
<line x1="368.90" y1="652.30" x2="368.90" y2="655.00" stroke="#333" stroke-width="0.9" />
<text x="368.90" y="665.60" font-size="8.6" fill="#111" text-anchor="middle" stroke="#111" stroke-width="0.2" >10</text>
<line x1="421.20" y1="652.30" x2="421.20" y2="655.00" stroke="#333" stroke-width="0.9" />
<text x="421.20" y="665.60" font-size="8.6" fill="#111" text-anchor="middle" stroke="#111" stroke-width="0.2" >15</text>
<line x1="473.50" y1="652.30" x2="473.50" y2="655.00" stroke="#333" stroke-width="0.9" />
<text x="473.50" y="665.60" font-size="8.6" fill="#111" text-anchor="middle" stroke="#111" stroke-width="0.2" >20</text>
<text x="341.80" y="679.20" font-size="9.0" fill="#111" textLength="54.40" lengthAdjust="spacingAndGlyphs" stroke="#111" stroke-width="0.2" >-log10(p-value)</text>
<text x="0" y="0" font-size="9.8" fill="#111" stroke="#111" stroke-width="0.12" text-anchor="middle" transform="translate(240.1,608.7) rotate(-90)" textLength="27.6" lengthAdjust="spacingAndGlyphs">Clusters</text>
<rect x="0.5" y="0.5" width="519" height="688" fill="none" stroke="#000" stroke-width="1.2"/>
</svg></body></html>
